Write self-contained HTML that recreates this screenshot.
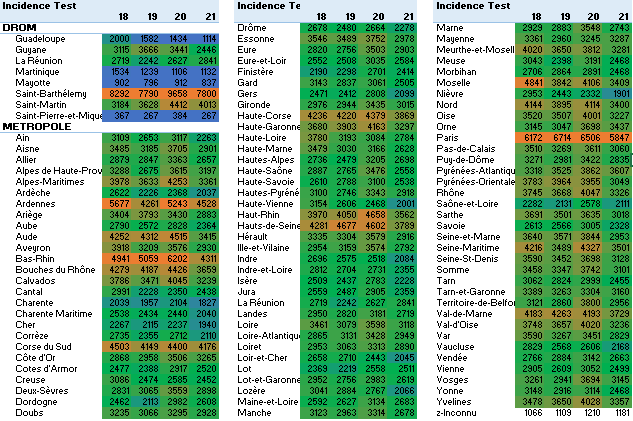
<!DOCTYPE html>
<html lang="fr"><head><meta charset="utf-8"><title>Incidence Test</title><style>
*{margin:0;padding:0;box-sizing:border-box}
html,body{width:633px;height:421px;overflow:hidden;background:#fff}
body{position:relative;font-family:"Liberation Sans",sans-serif;font-size:9px;line-height:11px}
div{position:absolute}
.hb{top:0;height:22px;background:#ddebf7}
.ln{height:1px;background:#9bc2e6;z-index:3}
.c{width:30px;height:12px;z-index:1}
.tx{height:11px;white-space:nowrap;overflow:hidden;color:transparent;z-index:2}
.b{font-weight:bold}
.r{text-align:right}
.sel{background:#217346;z-index:5}
.ov{position:absolute;left:0;top:0;z-index:4}
</style></head><body>
<div class="hb" style="left:0px;width:219px"></div>
<div class="tx b" style="left:3px;top:0px;width:99px">Incidence Test</div>
<div class="tx b r" style="left:102px;top:11px;width:27px">18</div>
<div class="tx b r" style="left:131px;top:11px;width:27px">19</div>
<div class="tx b r" style="left:160px;top:11px;width:27px">20</div>
<div class="tx b r" style="left:189px;top:11px;width:27px">21</div>
<div class="tx b" style="left:3px;top:22px;width:99px">DROM</div>
<div class="tx" style="left:16px;top:33px;width:86px">Guadeloupe</div>
<div class="c" style="left:102px;top:33px;background:#22918a"></div>
<div class="tx r" style="left:102px;top:33px;width:27px">2000</div>
<div class="c" style="left:131px;top:33px;background:#3e77ba"></div>
<div class="tx r" style="left:131px;top:33px;width:27px">1582</div>
<div class="c" style="left:160px;top:33px;background:#4472c4"></div>
<div class="tx r" style="left:160px;top:33px;width:27px">1434</div>
<div class="c" style="left:189px;top:33px;background:#4472c4"></div>
<div class="tx r" style="left:189px;top:33px;width:27px">1114</div>
<div class="tx" style="left:16px;top:44px;width:86px">Guyane</div>
<div class="c" style="left:102px;top:44px;background:#3aa348"></div>
<div class="tx r" style="left:102px;top:44px;width:27px">3115</div>
<div class="c" style="left:131px;top:44px;background:#6f9842"></div>
<div class="tx r" style="left:131px;top:44px;width:27px">3666</div>
<div class="c" style="left:160px;top:44px;background:#599d44"></div>
<div class="tx r" style="left:160px;top:44px;width:27px">3441</div>
<div class="c" style="left:189px;top:44px;background:#04ad56"></div>
<div class="tx r" style="left:189px;top:44px;width:27px">2446</div>
<div class="tx" style="left:16px;top:55px;width:86px">La Réunion</div>
<div class="c" style="left:102px;top:55px;background:#15ac4d"></div>
<div class="tx r" style="left:102px;top:55px;width:27px">2719</div>
<div class="c" style="left:131px;top:55px;background:#12a06e"></div>
<div class="tx r" style="left:131px;top:55px;width:27px">2242</div>
<div class="c" style="left:160px;top:55px;background:#0cad4e"></div>
<div class="tx r" style="left:160px;top:55px;width:27px">2627</div>
<div class="c" style="left:189px;top:55px;background:#20a94c"></div>
<div class="tx r" style="left:189px;top:55px;width:27px">2841</div>
<div class="tx" style="left:16px;top:66px;width:86px">Martinique</div>
<div class="c" style="left:102px;top:66px;background:#4274c0"></div>
<div class="tx r" style="left:102px;top:66px;width:27px">1534</div>
<div class="c" style="left:131px;top:66px;background:#4472c4"></div>
<div class="tx r" style="left:131px;top:66px;width:27px">1239</div>
<div class="c" style="left:160px;top:66px;background:#4472c4"></div>
<div class="tx r" style="left:160px;top:66px;width:27px">1106</div>
<div class="c" style="left:189px;top:66px;background:#4472c4"></div>
<div class="tx r" style="left:189px;top:66px;width:27px">1132</div>
<div class="tx" style="left:16px;top:77px;width:86px">Mayotte</div>
<div class="c" style="left:102px;top:77px;background:#4472c4"></div>
<div class="tx r" style="left:102px;top:77px;width:27px">902</div>
<div class="c" style="left:131px;top:77px;background:#4472c4"></div>
<div class="tx r" style="left:131px;top:77px;width:27px">796</div>
<div class="c" style="left:160px;top:77px;background:#4472c4"></div>
<div class="tx r" style="left:160px;top:77px;width:27px">912</div>
<div class="c" style="left:189px;top:77px;background:#4472c4"></div>
<div class="tx r" style="left:189px;top:77px;width:27px">837</div>
<div class="tx" style="left:16px;top:88px;width:86px">Saint-Barthélemy</div>
<div class="c" style="left:102px;top:88px;background:#ed7d31"></div>
<div class="tx r" style="left:102px;top:88px;width:27px">8292</div>
<div class="c" style="left:131px;top:88px;background:#ed7d31"></div>
<div class="tx r" style="left:131px;top:88px;width:27px">7790</div>
<div class="c" style="left:160px;top:88px;background:#ed7d31"></div>
<div class="tx r" style="left:160px;top:88px;width:27px">9658</div>
<div class="c" style="left:189px;top:88px;background:#ed7d31"></div>
<div class="tx r" style="left:189px;top:88px;width:27px">7800</div>
<div class="tx" style="left:16px;top:99px;width:86px">Saint-Martin</div>
<div class="c" style="left:102px;top:99px;background:#41a248"></div>
<div class="tx r" style="left:102px;top:99px;width:27px">3184</div>
<div class="c" style="left:131px;top:99px;background:#6b9942"></div>
<div class="tx r" style="left:131px;top:99px;width:27px">3628</div>
<div class="c" style="left:160px;top:99px;background:#b58938"></div>
<div class="tx r" style="left:160px;top:99px;width:27px">4412</div>
<div class="c" style="left:189px;top:99px;background:#8f913d"></div>
<div class="tx r" style="left:189px;top:99px;width:27px">4013</div>
<div class="tx" style="left:16px;top:110px;width:86px">Saint-Pierre-et-Miquelon</div>
<div class="c" style="left:102px;top:110px;background:#4472c4"></div>
<div class="tx r" style="left:102px;top:110px;width:27px">367</div>
<div class="c" style="left:131px;top:110px;background:#4472c4"></div>
<div class="tx r" style="left:131px;top:110px;width:27px">267</div>
<div class="c" style="left:160px;top:110px;background:#4472c4"></div>
<div class="tx r" style="left:160px;top:110px;width:27px">384</div>
<div class="c" style="left:189px;top:110px;background:#4472c4"></div>
<div class="tx r" style="left:189px;top:110px;width:27px">267</div>
<div class="tx b" style="left:3px;top:121px;width:99px">METROPOLE</div>
<div class="tx" style="left:16px;top:132px;width:86px">Ain</div>
<div class="c" style="left:102px;top:132px;background:#3aa448"></div>
<div class="tx r" style="left:102px;top:132px;width:27px">3109</div>
<div class="c" style="left:131px;top:132px;background:#0fad4e"></div>
<div class="tx r" style="left:131px;top:132px;width:27px">2653</div>
<div class="c" style="left:160px;top:132px;background:#3aa348"></div>
<div class="tx r" style="left:160px;top:132px;width:27px">3117</div>
<div class="c" style="left:189px;top:132px;background:#10a16b"></div>
<div class="tx r" style="left:189px;top:132px;width:27px">2263</div>
<div class="tx" style="left:16px;top:143px;width:86px">Aisne</div>
<div class="c" style="left:102px;top:143px;background:#5d9c44"></div>
<div class="tx r" style="left:102px;top:143px;width:27px">3485</div>
<div class="c" style="left:131px;top:143px;background:#41a248"></div>
<div class="tx r" style="left:131px;top:143px;width:27px">3185</div>
<div class="c" style="left:160px;top:143px;background:#729741"></div>
<div class="tx r" style="left:160px;top:143px;width:27px">3705</div>
<div class="c" style="left:189px;top:143px;background:#26a84b"></div>
<div class="tx r" style="left:189px;top:143px;width:27px">2901</div>
<div class="tx" style="left:16px;top:154px;width:86px">Allier</div>
<div class="c" style="left:102px;top:154px;background:#24a84b"></div>
<div class="tx r" style="left:102px;top:154px;width:27px">2879</div>
<div class="c" style="left:131px;top:154px;background:#21a94c"></div>
<div class="tx r" style="left:131px;top:154px;width:27px">2847</div>
<div class="c" style="left:160px;top:154px;background:#529e45"></div>
<div class="tx r" style="left:160px;top:154px;width:27px">3363</div>
<div class="c" style="left:189px;top:154px;background:#0fad4e"></div>
<div class="tx r" style="left:189px;top:154px;width:27px">2657</div>
<div class="tx" style="left:16px;top:165px;width:86px">Alpes de Haute-Provence</div>
<div class="c" style="left:102px;top:165px;background:#4ba046"></div>
<div class="tx r" style="left:102px;top:165px;width:27px">3288</div>
<div class="c" style="left:131px;top:165px;background:#11ac4e"></div>
<div class="tx r" style="left:131px;top:165px;width:27px">2675</div>
<div class="c" style="left:160px;top:165px;background:#6a9942"></div>
<div class="tx r" style="left:160px;top:165px;width:27px">3615</div>
<div class="c" style="left:189px;top:165px;background:#42a247"></div>
<div class="tx r" style="left:189px;top:165px;width:27px">3197</div>
<div class="tx" style="left:16px;top:176px;width:86px">Alpes-Maritimes</div>
<div class="c" style="left:102px;top:176px;background:#8c923e"></div>
<div class="tx r" style="left:102px;top:176px;width:27px">3978</div>
<div class="c" style="left:131px;top:176px;background:#6b9942"></div>
<div class="tx r" style="left:131px;top:176px;width:27px">3633</div>
<div class="c" style="left:160px;top:176px;background:#a68c3a"></div>
<div class="tx r" style="left:160px;top:176px;width:27px">4253</div>
<div class="c" style="left:189px;top:176px;background:#529e45"></div>
<div class="tx r" style="left:189px;top:176px;width:27px">3361</div>
<div class="tx" style="left:16px;top:187px;width:86px">Ardèche</div>
<div class="c" style="left:102px;top:187px;background:#0cae4e"></div>
<div class="tx r" style="left:102px;top:187px;width:27px">2622</div>
<div class="c" style="left:131px;top:187px;background:#139f70"></div>
<div class="tx r" style="left:131px;top:187px;width:27px">2226</div>
<div class="c" style="left:160px;top:187px;background:#09a85f"></div>
<div class="tx r" style="left:160px;top:187px;width:27px">2368</div>
<div class="c" style="left:189px;top:187px;background:#1f9386"></div>
<div class="tx r" style="left:189px;top:187px;width:27px">2037</div>
<div class="tx" style="left:16px;top:198px;width:86px">Ardennes</div>
<div class="c" style="left:102px;top:198px;background:#ed7d31"></div>
<div class="tx r" style="left:102px;top:198px;width:27px">5677</div>
<div class="c" style="left:131px;top:198px;background:#a78c3a"></div>
<div class="tx r" style="left:131px;top:198px;width:27px">4261</div>
<div class="c" style="left:160px;top:198px;background:#ed7d31"></div>
<div class="tx r" style="left:160px;top:198px;width:27px">5243</div>
<div class="c" style="left:189px;top:198px;background:#c08737"></div>
<div class="tx r" style="left:189px;top:198px;width:27px">4528</div>
<div class="tx" style="left:16px;top:209px;width:86px">Ariège</div>
<div class="c" style="left:102px;top:209px;background:#569e45"></div>
<div class="tx r" style="left:102px;top:209px;width:27px">3404</div>
<div class="c" style="left:131px;top:209px;background:#7b9640"></div>
<div class="tx r" style="left:131px;top:209px;width:27px">3793</div>
<div class="c" style="left:160px;top:209px;background:#589d44"></div>
<div class="tx r" style="left:160px;top:209px;width:27px">3430</div>
<div class="c" style="left:189px;top:209px;background:#24a84b"></div>
<div class="tx r" style="left:189px;top:209px;width:27px">2883</div>
<div class="tx" style="left:16px;top:220px;width:86px">Aube</div>
<div class="c" style="left:102px;top:220px;background:#1baa4c"></div>
<div class="tx r" style="left:102px;top:220px;width:27px">2790</div>
<div class="c" style="left:131px;top:220px;background:#07af4f"></div>
<div class="tx r" style="left:131px;top:220px;width:27px">2572</div>
<div class="c" style="left:160px;top:220px;background:#1fa94c"></div>
<div class="tx r" style="left:160px;top:220px;width:27px">2828</div>
<div class="c" style="left:189px;top:220px;background:#09a860"></div>
<div class="tx r" style="left:189px;top:220px;width:27px">2364</div>
<div class="tx" style="left:16px;top:231px;width:86px">Aude</div>
<div class="c" style="left:102px;top:231px;background:#a68c3a"></div>
<div class="tx r" style="left:102px;top:231px;width:27px">4252</div>
<div class="c" style="left:131px;top:231px;background:#ac8b3a"></div>
<div class="tx r" style="left:131px;top:231px;width:27px">4312</div>
<div class="c" style="left:160px;top:231px;background:#bf8737"></div>
<div class="tx r" style="left:160px;top:231px;width:27px">4515</div>
<div class="c" style="left:189px;top:231px;background:#579d45"></div>
<div class="tx r" style="left:189px;top:231px;width:27px">3415</div>
<div class="tx" style="left:16px;top:242px;width:86px">Aveyron</div>
<div class="c" style="left:102px;top:242px;background:#86933e"></div>
<div class="tx r" style="left:102px;top:242px;width:27px">3918</div>
<div class="c" style="left:131px;top:242px;background:#43a247"></div>
<div class="tx r" style="left:131px;top:242px;width:27px">3209</div>
<div class="c" style="left:160px;top:242px;background:#669a43"></div>
<div class="tx r" style="left:160px;top:242px;width:27px">3576</div>
<div class="c" style="left:189px;top:242px;background:#29a74b"></div>
<div class="tx r" style="left:189px;top:242px;width:27px">2930</div>
<div class="tx" style="left:16px;top:253px;width:86px">Bas-Rhin</div>
<div class="c" style="left:102px;top:253px;background:#e77e32"></div>
<div class="tx r" style="left:102px;top:253px;width:27px">4941</div>
<div class="c" style="left:131px;top:253px;background:#ed7d31"></div>
<div class="tx r" style="left:131px;top:253px;width:27px">5059</div>
<div class="c" style="left:160px;top:253px;background:#ed7d31"></div>
<div class="tx r" style="left:160px;top:253px;width:27px">6202</div>
<div class="c" style="left:189px;top:253px;background:#ac8b3a"></div>
<div class="tx r" style="left:189px;top:253px;width:27px">4311</div>
<div class="tx" style="left:16px;top:264px;width:86px">Bouches du Rhône</div>
<div class="c" style="left:102px;top:264px;background:#a98c3a"></div>
<div class="tx r" style="left:102px;top:264px;width:27px">4279</div>
<div class="c" style="left:131px;top:264px;background:#a08e3b"></div>
<div class="tx r" style="left:131px;top:264px;width:27px">4187</div>
<div class="c" style="left:160px;top:264px;background:#b78938"></div>
<div class="tx r" style="left:160px;top:264px;width:27px">4426</div>
<div class="c" style="left:189px;top:264px;background:#6e9842"></div>
<div class="tx r" style="left:189px;top:264px;width:27px">3659</div>
<div class="tx" style="left:16px;top:275px;width:86px">Calvados</div>
<div class="c" style="left:102px;top:275px;background:#7a9640"></div>
<div class="tx r" style="left:102px;top:275px;width:27px">3786</div>
<div class="c" style="left:131px;top:275px;background:#5c9c44"></div>
<div class="tx r" style="left:131px;top:275px;width:27px">3471</div>
<div class="c" style="left:160px;top:275px;background:#92903d"></div>
<div class="tx r" style="left:160px;top:275px;width:27px">4045</div>
<div class="c" style="left:189px;top:275px;background:#46a147"></div>
<div class="tx r" style="left:189px;top:275px;width:27px">3239</div>
<div class="tx" style="left:16px;top:286px;width:86px">Cantal</div>
<div class="c" style="left:102px;top:286px;background:#2fa64a"></div>
<div class="tx r" style="left:102px;top:286px;width:27px">2991</div>
<div class="c" style="left:131px;top:286px;background:#129f70"></div>
<div class="tx r" style="left:131px;top:286px;width:27px">2228</div>
<div class="c" style="left:160px;top:286px;background:#0aa761"></div>
<div class="tx r" style="left:160px;top:286px;width:27px">2350</div>
<div class="c" style="left:189px;top:286px;background:#04ac57"></div>
<div class="tx r" style="left:189px;top:286px;width:27px">2438</div>
<div class="tx" style="left:16px;top:297px;width:86px">Charente</div>
<div class="c" style="left:102px;top:297px;background:#1f9385"></div>
<div class="tx r" style="left:102px;top:297px;width:27px">2039</div>
<div class="c" style="left:131px;top:297px;background:#258e8f"></div>
<div class="tx r" style="left:131px;top:297px;width:27px">1957</div>
<div class="c" style="left:160px;top:297px;background:#1b977e"></div>
<div class="tx r" style="left:160px;top:297px;width:27px">2104</div>
<div class="c" style="left:189px;top:297px;background:#2e869e"></div>
<div class="tx r" style="left:189px;top:297px;width:27px">1827</div>
<div class="tx" style="left:16px;top:308px;width:86px">Charente Maritime</div>
<div class="c" style="left:102px;top:308px;background:#04af50"></div>
<div class="tx r" style="left:102px;top:308px;width:27px">2538</div>
<div class="c" style="left:131px;top:308px;background:#04ac58"></div>
<div class="tx r" style="left:131px;top:308px;width:27px">2434</div>
<div class="c" style="left:160px;top:308px;background:#04ac57"></div>
<div class="tx r" style="left:160px;top:308px;width:27px">2440</div>
<div class="c" style="left:189px;top:308px;background:#1f9385"></div>
<div class="tx r" style="left:189px;top:308px;width:27px">2040</div>
<div class="tx" style="left:16px;top:319px;width:86px">Cher</div>
<div class="c" style="left:102px;top:319px;background:#10a26b"></div>
<div class="tx r" style="left:102px;top:319px;width:27px">2267</div>
<div class="c" style="left:131px;top:319px;background:#1a987d"></div>
<div class="tx r" style="left:131px;top:319px;width:27px">2115</div>
<div class="c" style="left:160px;top:319px;background:#12a06f"></div>
<div class="tx r" style="left:160px;top:319px;width:27px">2237</div>
<div class="c" style="left:189px;top:319px;background:#268d91"></div>
<div class="tx r" style="left:189px;top:319px;width:27px">1940</div>
<div class="tx" style="left:16px;top:330px;width:86px">Corrèze</div>
<div class="c" style="left:102px;top:330px;background:#16ab4d"></div>
<div class="tx r" style="left:102px;top:330px;width:27px">2735</div>
<div class="c" style="left:131px;top:330px;background:#0aa761"></div>
<div class="tx r" style="left:131px;top:330px;width:27px">2355</div>
<div class="c" style="left:160px;top:330px;background:#14ac4d"></div>
<div class="tx r" style="left:160px;top:330px;width:27px">2712</div>
<div class="c" style="left:189px;top:330px;background:#1b987d"></div>
<div class="tx r" style="left:189px;top:330px;width:27px">2110</div>
<div class="tx" style="left:16px;top:341px;width:86px">Corse du Sud</div>
<div class="c" style="left:102px;top:341px;background:#be8737"></div>
<div class="tx r" style="left:102px;top:341px;width:27px">4503</div>
<div class="c" style="left:131px;top:341px;background:#9c8e3c"></div>
<div class="tx r" style="left:131px;top:341px;width:27px">4149</div>
<div class="c" style="left:160px;top:341px;background:#b48938"></div>
<div class="tx r" style="left:160px;top:341px;width:27px">4400</div>
<div class="c" style="left:189px;top:341px;background:#9f8e3b"></div>
<div class="tx r" style="left:189px;top:341px;width:27px">4176</div>
<div class="tx" style="left:16px;top:352px;width:86px">Côte d&#x27;Or</div>
<div class="c" style="left:102px;top:352px;background:#23a84b"></div>
<div class="tx r" style="left:102px;top:352px;width:27px">2868</div>
<div class="c" style="left:131px;top:352px;background:#2ba74a"></div>
<div class="tx r" style="left:131px;top:352px;width:27px">2958</div>
<div class="c" style="left:160px;top:352px;background:#5f9b44"></div>
<div class="tx r" style="left:160px;top:352px;width:27px">3506</div>
<div class="c" style="left:189px;top:352px;background:#49a047"></div>
<div class="tx r" style="left:189px;top:352px;width:27px">3265</div>
<div class="tx" style="left:16px;top:363px;width:86px">Cotes d&#x27;Armor</div>
<div class="c" style="left:102px;top:363px;background:#02af53"></div>
<div class="tx r" style="left:102px;top:363px;width:27px">2477</div>
<div class="c" style="left:131px;top:363px;background:#08a95d"></div>
<div class="tx r" style="left:131px;top:363px;width:27px">2388</div>
<div class="c" style="left:160px;top:363px;background:#28a74b"></div>
<div class="tx r" style="left:160px;top:363px;width:27px">2917</div>
<div class="c" style="left:189px;top:363px;background:#02b050"></div>
<div class="tx r" style="left:189px;top:363px;width:27px">2520</div>
<div class="tx" style="left:16px;top:374px;width:86px">Creuse</div>
<div class="c" style="left:102px;top:374px;background:#38a449"></div>
<div class="tx r" style="left:102px;top:374px;width:27px">3086</div>
<div class="c" style="left:131px;top:374px;background:#02ae53"></div>
<div class="tx r" style="left:131px;top:374px;width:27px">2474</div>
<div class="c" style="left:160px;top:374px;background:#08ae4f"></div>
<div class="tx r" style="left:160px;top:374px;width:27px">2585</div>
<div class="c" style="left:189px;top:374px;background:#03ad56"></div>
<div class="tx r" style="left:189px;top:374px;width:27px">2452</div>
<div class="tx" style="left:16px;top:385px;width:86px">Deux-Sèvres</div>
<div class="c" style="left:102px;top:385px;background:#1fa94c"></div>
<div class="tx r" style="left:102px;top:385px;width:27px">2831</div>
<div class="c" style="left:131px;top:385px;background:#36a449"></div>
<div class="tx r" style="left:131px;top:385px;width:27px">3065</div>
<div class="c" style="left:160px;top:385px;background:#649a43"></div>
<div class="tx r" style="left:160px;top:385px;width:27px">3559</div>
<div class="c" style="left:189px;top:385px;background:#26a84b"></div>
<div class="tx r" style="left:189px;top:385px;width:27px">2898</div>
<div class="tx" style="left:16px;top:396px;width:86px">Dordogne</div>
<div class="c" style="left:102px;top:396px;background:#03ae54"></div>
<div class="tx r" style="left:102px;top:396px;width:27px">2462</div>
<div class="c" style="left:131px;top:396px;background:#1a987d"></div>
<div class="tx r" style="left:131px;top:396px;width:27px">2113</div>
<div class="c" style="left:160px;top:396px;background:#2ea64a"></div>
<div class="tx r" style="left:160px;top:396px;width:27px">2982</div>
<div class="c" style="left:189px;top:396px;background:#0aae4f"></div>
<div class="tx r" style="left:189px;top:396px;width:27px">2608</div>
<div class="tx" style="left:16px;top:407px;width:86px">Doubs</div>
<div class="c" style="left:102px;top:407px;background:#46a147"></div>
<div class="tx r" style="left:102px;top:407px;width:27px">3235</div>
<div class="c" style="left:131px;top:407px;background:#36a449"></div>
<div class="tx r" style="left:131px;top:407px;width:27px">3066</div>
<div class="c" style="left:160px;top:407px;background:#4ba046"></div>
<div class="tx r" style="left:160px;top:407px;width:27px">3295</div>
<div class="c" style="left:189px;top:407px;background:#29a74b"></div>
<div class="tx r" style="left:189px;top:407px;width:27px">2928</div>
<div class="ln" style="left:0px;top:22px;width:219px"></div>
<div class="ln" style="left:0px;top:33px;width:219px"></div>
<div class="ln" style="left:0px;top:132px;width:219px"></div>
<div class="hb" style="left:234px;width:183px"></div>
<div class="tx b" style="left:238px;top:0px;width:62px">Incidence Test</div>
<div class="tx b r" style="left:300px;top:11px;width:27px">18</div>
<div class="tx b r" style="left:329px;top:11px;width:27px">19</div>
<div class="tx b r" style="left:358px;top:11px;width:27px">20</div>
<div class="tx b r" style="left:387px;top:11px;width:27px">21</div>
<div class="tx" style="left:238px;top:22px;width:62px">Drôme</div>
<div class="c" style="left:300px;top:22px;background:#11ac4e"></div>
<div class="tx r" style="left:300px;top:22px;width:27px">2678</div>
<div class="c" style="left:329px;top:22px;background:#01af52"></div>
<div class="tx r" style="left:329px;top:22px;width:27px">2480</div>
<div class="c" style="left:358px;top:22px;background:#10ad4e"></div>
<div class="tx r" style="left:358px;top:22px;width:27px">2664</div>
<div class="c" style="left:387px;top:22px;background:#0fa26a"></div>
<div class="tx r" style="left:387px;top:22px;width:27px">2278</div>
<div class="tx" style="left:238px;top:33px;width:62px">Essonne</div>
<div class="c" style="left:300px;top:33px;background:#639b43"></div>
<div class="tx r" style="left:300px;top:33px;width:27px">3546</div>
<div class="c" style="left:329px;top:33px;background:#5e9c44"></div>
<div class="tx r" style="left:329px;top:33px;width:27px">3489</div>
<div class="c" style="left:358px;top:33px;background:#779640"></div>
<div class="tx r" style="left:358px;top:33px;width:27px">3752</div>
<div class="c" style="left:387px;top:33px;background:#2da64a"></div>
<div class="tx r" style="left:387px;top:33px;width:27px">2978</div>
<div class="tx" style="left:238px;top:44px;width:62px">Eure</div>
<div class="c" style="left:300px;top:44px;background:#1ea94c"></div>
<div class="tx r" style="left:300px;top:44px;width:27px">2820</div>
<div class="c" style="left:329px;top:44px;background:#18ab4d"></div>
<div class="tx r" style="left:329px;top:44px;width:27px">2756</div>
<div class="c" style="left:358px;top:44px;background:#5f9c44"></div>
<div class="tx r" style="left:358px;top:44px;width:27px">3503</div>
<div class="c" style="left:387px;top:44px;background:#26a84b"></div>
<div class="tx r" style="left:387px;top:44px;width:27px">2903</div>
<div class="tx" style="left:238px;top:55px;width:62px">Eure-et-Loir</div>
<div class="c" style="left:300px;top:55px;background:#05af4f"></div>
<div class="tx r" style="left:300px;top:55px;width:27px">2552</div>
<div class="c" style="left:329px;top:55px;background:#01b050"></div>
<div class="tx r" style="left:329px;top:55px;width:27px">2508</div>
<div class="c" style="left:358px;top:55px;background:#33a549"></div>
<div class="tx r" style="left:358px;top:55px;width:27px">3035</div>
<div class="c" style="left:387px;top:55px;background:#08ae4f"></div>
<div class="tx r" style="left:387px;top:55px;width:27px">2584</div>
<div class="tx" style="left:238px;top:66px;width:62px">Finistère</div>
<div class="c" style="left:300px;top:66px;background:#159d74"></div>
<div class="tx r" style="left:300px;top:66px;width:27px">2190</div>
<div class="c" style="left:329px;top:66px;background:#0ea367"></div>
<div class="tx r" style="left:329px;top:66px;width:27px">2298</div>
<div class="c" style="left:358px;top:66px;background:#13ac4e"></div>
<div class="tx r" style="left:358px;top:66px;width:27px">2701</div>
<div class="c" style="left:387px;top:66px;background:#06ab5a"></div>
<div class="tx r" style="left:387px;top:66px;width:27px">2414</div>
<div class="tx" style="left:238px;top:77px;width:62px">Gard</div>
<div class="c" style="left:300px;top:77px;background:#3da348"></div>
<div class="tx r" style="left:300px;top:77px;width:27px">3143</div>
<div class="c" style="left:329px;top:77px;background:#20a94c"></div>
<div class="tx r" style="left:329px;top:77px;width:27px">2837</div>
<div class="c" style="left:358px;top:77px;background:#35a549"></div>
<div class="tx r" style="left:358px;top:77px;width:27px">3061</div>
<div class="c" style="left:387px;top:77px;background:#00b050"></div>
<div class="tx r" style="left:387px;top:77px;width:27px">2505</div>
<div class="tx" style="left:238px;top:88px;width:62px">Gers</div>
<div class="c" style="left:300px;top:88px;background:#02ae53"></div>
<div class="tx r" style="left:300px;top:88px;width:27px">2471</div>
<div class="c" style="left:329px;top:88px;background:#06ab5a"></div>
<div class="tx r" style="left:329px;top:88px;width:27px">2412</div>
<div class="c" style="left:358px;top:88px;background:#1daa4c"></div>
<div class="tx r" style="left:358px;top:88px;width:27px">2808</div>
<div class="c" style="left:387px;top:88px;background:#1b977f"></div>
<div class="tx r" style="left:387px;top:88px;width:27px">2099</div>
<div class="tx" style="left:238px;top:99px;width:62px">Gironde</div>
<div class="c" style="left:300px;top:99px;background:#2da64a"></div>
<div class="tx r" style="left:300px;top:99px;width:27px">2976</div>
<div class="c" style="left:329px;top:99px;background:#2aa74a"></div>
<div class="tx r" style="left:329px;top:99px;width:27px">2944</div>
<div class="c" style="left:358px;top:99px;background:#599d44"></div>
<div class="tx r" style="left:358px;top:99px;width:27px">3435</div>
<div class="c" style="left:387px;top:99px;background:#31a54a"></div>
<div class="tx r" style="left:387px;top:99px;width:27px">3015</div>
<div class="tx" style="left:238px;top:110px;width:62px">Haute-Corse</div>
<div class="c" style="left:300px;top:110px;background:#a58d3a"></div>
<div class="tx r" style="left:300px;top:110px;width:27px">4236</div>
<div class="c" style="left:329px;top:110px;background:#a38d3b"></div>
<div class="tx r" style="left:329px;top:110px;width:27px">4220</div>
<div class="c" style="left:358px;top:110px;background:#b28a39"></div>
<div class="tx r" style="left:358px;top:110px;width:27px">4379</div>
<div class="c" style="left:387px;top:110px;background:#82943f"></div>
<div class="tx r" style="left:387px;top:110px;width:27px">3869</div>
<div class="tx" style="left:238px;top:121px;width:62px">Haute-Garonne</div>
<div class="c" style="left:300px;top:121px;background:#709841"></div>
<div class="tx r" style="left:300px;top:121px;width:27px">3680</div>
<div class="c" style="left:329px;top:121px;background:#85933f"></div>
<div class="tx r" style="left:329px;top:121px;width:27px">3903</div>
<div class="c" style="left:358px;top:121px;background:#9e8e3b"></div>
<div class="tx r" style="left:358px;top:121px;width:27px">4163</div>
<div class="c" style="left:387px;top:121px;background:#4ca046"></div>
<div class="tx r" style="left:387px;top:121px;width:27px">3297</div>
<div class="tx" style="left:238px;top:132px;width:62px">Haute-Loire</div>
<div class="c" style="left:300px;top:132px;background:#799640"></div>
<div class="tx r" style="left:300px;top:132px;width:27px">3780</div>
<div class="c" style="left:329px;top:132px;background:#42a247"></div>
<div class="tx r" style="left:329px;top:132px;width:27px">3193</div>
<div class="c" style="left:358px;top:132px;background:#37a449"></div>
<div class="tx r" style="left:358px;top:132px;width:27px">3084</div>
<div class="c" style="left:387px;top:132px;background:#1baa4c"></div>
<div class="tx r" style="left:387px;top:132px;width:27px">2784</div>
<div class="tx" style="left:238px;top:143px;width:62px">Haute-Marne</div>
<div class="c" style="left:300px;top:143px;background:#5d9c44"></div>
<div class="tx r" style="left:300px;top:143px;width:27px">3479</div>
<div class="c" style="left:329px;top:143px;background:#32a549"></div>
<div class="tx r" style="left:329px;top:143px;width:27px">3030</div>
<div class="c" style="left:358px;top:143px;background:#3fa248"></div>
<div class="tx r" style="left:358px;top:143px;width:27px">3166</div>
<div class="c" style="left:387px;top:143px;background:#0cad4e"></div>
<div class="tx r" style="left:387px;top:143px;width:27px">2628</div>
<div class="tx" style="left:238px;top:154px;width:62px">Hautes-Alpes</div>
<div class="c" style="left:300px;top:154px;background:#16ab4d"></div>
<div class="tx r" style="left:300px;top:154px;width:27px">2736</div>
<div class="c" style="left:329px;top:154px;background:#01af52"></div>
<div class="tx r" style="left:329px;top:154px;width:27px">2479</div>
<div class="c" style="left:358px;top:154px;background:#43a247"></div>
<div class="tx r" style="left:358px;top:154px;width:27px">3205</div>
<div class="c" style="left:387px;top:154px;background:#13ac4e"></div>
<div class="tx r" style="left:387px;top:154px;width:27px">2698</div>
<div class="tx" style="left:238px;top:165px;width:62px">Haute-Saône</div>
<div class="c" style="left:300px;top:165px;background:#25a84b"></div>
<div class="tx r" style="left:300px;top:165px;width:27px">2887</div>
<div class="c" style="left:329px;top:165px;background:#19ab4d"></div>
<div class="tx r" style="left:329px;top:165px;width:27px">2765</div>
<div class="c" style="left:358px;top:165px;background:#5d9c44"></div>
<div class="tx r" style="left:358px;top:165px;width:27px">3476</div>
<div class="c" style="left:387px;top:165px;background:#05af4f"></div>
<div class="tx r" style="left:387px;top:165px;width:27px">2558</div>
<div class="tx" style="left:238px;top:176px;width:62px">Haute-Savoie</div>
<div class="c" style="left:300px;top:176px;background:#0aae4f"></div>
<div class="tx r" style="left:300px;top:176px;width:27px">2610</div>
<div class="c" style="left:329px;top:176px;background:#1baa4c"></div>
<div class="tx r" style="left:329px;top:176px;width:27px">2788</div>
<div class="c" style="left:358px;top:176px;background:#39a449"></div>
<div class="tx r" style="left:358px;top:176px;width:27px">3100</div>
<div class="c" style="left:387px;top:176px;background:#04af50"></div>
<div class="tx r" style="left:387px;top:176px;width:27px">2538</div>
<div class="tx" style="left:238px;top:187px;width:62px">Hautes-Pyrénées</div>
<div class="c" style="left:300px;top:187px;background:#39a449"></div>
<div class="tx r" style="left:300px;top:187px;width:27px">3100</div>
<div class="c" style="left:329px;top:187px;background:#17ab4d"></div>
<div class="tx r" style="left:329px;top:187px;width:27px">2746</div>
<div class="c" style="left:358px;top:187px;background:#509f46"></div>
<div class="tx r" style="left:358px;top:187px;width:27px">3343</div>
<div class="c" style="left:387px;top:187px;background:#28a74b"></div>
<div class="tx r" style="left:387px;top:187px;width:27px">2918</div>
<div class="tx" style="left:238px;top:198px;width:62px">Haute-Vienne</div>
<div class="c" style="left:300px;top:198px;background:#3ea348"></div>
<div class="tx r" style="left:300px;top:198px;width:27px">3154</div>
<div class="c" style="left:329px;top:198px;background:#0aae4f"></div>
<div class="tx r" style="left:329px;top:198px;width:27px">2606</div>
<div class="c" style="left:358px;top:198px;background:#02ae54"></div>
<div class="tx r" style="left:358px;top:198px;width:27px">2468</div>
<div class="c" style="left:387px;top:198px;background:#22918a"></div>
<div class="tx r" style="left:387px;top:198px;width:27px">2001</div>
<div class="tx" style="left:238px;top:209px;width:62px">Haut-Rhin</div>
<div class="c" style="left:300px;top:209px;background:#8b923e"></div>
<div class="tx r" style="left:300px;top:209px;width:27px">3970</div>
<div class="c" style="left:329px;top:209px;background:#93903d"></div>
<div class="tx r" style="left:329px;top:209px;width:27px">4050</div>
<div class="c" style="left:358px;top:209px;background:#cd8435"></div>
<div class="tx r" style="left:358px;top:209px;width:27px">4658</div>
<div class="c" style="left:387px;top:209px;background:#659a43"></div>
<div class="tx r" style="left:387px;top:209px;width:27px">3562</div>
<div class="tx" style="left:238px;top:220px;width:62px">Hauts-de-Seine</div>
<div class="c" style="left:300px;top:220px;background:#a98c3a"></div>
<div class="tx r" style="left:300px;top:220px;width:27px">4281</div>
<div class="c" style="left:329px;top:220px;background:#ce8435"></div>
<div class="tx r" style="left:329px;top:220px;width:27px">4677</div>
<div class="c" style="left:358px;top:220px;background:#c78536"></div>
<div class="tx r" style="left:358px;top:220px;width:27px">4602</div>
<div class="c" style="left:387px;top:220px;background:#7a9640"></div>
<div class="tx r" style="left:387px;top:220px;width:27px">3789</div>
<div class="tx" style="left:238px;top:231px;width:62px">Hérault</div>
<div class="c" style="left:300px;top:231px;background:#4f9f46"></div>
<div class="tx r" style="left:300px;top:231px;width:27px">3335</div>
<div class="c" style="left:329px;top:231px;background:#4ca046"></div>
<div class="tx r" style="left:329px;top:231px;width:27px">3304</div>
<div class="c" style="left:358px;top:231px;background:#669a43"></div>
<div class="tx r" style="left:358px;top:231px;width:27px">3579</div>
<div class="c" style="left:387px;top:231px;background:#27a84b"></div>
<div class="tx r" style="left:387px;top:231px;width:27px">2916</div>
<div class="tx" style="left:238px;top:242px;width:62px">Ille-et-Vilaine</div>
<div class="c" style="left:300px;top:242px;background:#2ba74a"></div>
<div class="tx r" style="left:300px;top:242px;width:27px">2954</div>
<div class="c" style="left:329px;top:242px;background:#3ea348"></div>
<div class="tx r" style="left:329px;top:242px;width:27px">3159</div>
<div class="c" style="left:358px;top:242px;background:#669a43"></div>
<div class="tx r" style="left:358px;top:242px;width:27px">3574</div>
<div class="c" style="left:387px;top:242px;background:#1caa4c"></div>
<div class="tx r" style="left:387px;top:242px;width:27px">2792</div>
<div class="tx" style="left:238px;top:253px;width:62px">Indre</div>
<div class="c" style="left:300px;top:253px;background:#13ac4e"></div>
<div class="tx r" style="left:300px;top:253px;width:27px">2696</div>
<div class="c" style="left:329px;top:253px;background:#07ae4f"></div>
<div class="tx r" style="left:329px;top:253px;width:27px">2575</div>
<div class="c" style="left:358px;top:253px;background:#02b050"></div>
<div class="tx r" style="left:358px;top:253px;width:27px">2518</div>
<div class="c" style="left:387px;top:253px;background:#1c9680"></div>
<div class="tx r" style="left:387px;top:253px;width:27px">2084</div>
<div class="tx" style="left:238px;top:264px;width:62px">Indre-et-Loire</div>
<div class="c" style="left:300px;top:264px;background:#1eaa4c"></div>
<div class="tx r" style="left:300px;top:264px;width:27px">2812</div>
<div class="c" style="left:329px;top:264px;background:#13ac4d"></div>
<div class="tx r" style="left:329px;top:264px;width:27px">2704</div>
<div class="c" style="left:358px;top:264px;background:#16ab4d"></div>
<div class="tx r" style="left:358px;top:264px;width:27px">2731</div>
<div class="c" style="left:387px;top:264px;background:#0aa761"></div>
<div class="tx r" style="left:387px;top:264px;width:27px">2355</div>
<div class="tx" style="left:238px;top:275px;width:62px">Isère</div>
<div class="c" style="left:300px;top:275px;background:#01b050"></div>
<div class="tx r" style="left:300px;top:275px;width:27px">2509</div>
<div class="c" style="left:329px;top:275px;background:#04ac57"></div>
<div class="tx r" style="left:329px;top:275px;width:27px">2437</div>
<div class="c" style="left:358px;top:275px;background:#1baa4c"></div>
<div class="tx r" style="left:358px;top:275px;width:27px">2783</div>
<div class="c" style="left:387px;top:275px;background:#129f70"></div>
<div class="tx r" style="left:387px;top:275px;width:27px">2228</div>
<div class="tx" style="left:238px;top:286px;width:62px">Jura</div>
<div class="c" style="left:300px;top:286px;background:#06af4f"></div>
<div class="tx r" style="left:300px;top:286px;width:27px">2559</div>
<div class="c" style="left:329px;top:286px;background:#01af52"></div>
<div class="tx r" style="left:329px;top:286px;width:27px">2487</div>
<div class="c" style="left:358px;top:286px;background:#26a84b"></div>
<div class="tx r" style="left:358px;top:286px;width:27px">2905</div>
<div class="c" style="left:387px;top:286px;background:#0aa760"></div>
<div class="tx r" style="left:387px;top:286px;width:27px">2359</div>
<div class="tx" style="left:238px;top:297px;width:62px">La Réunion</div>
<div class="c" style="left:300px;top:297px;background:#15ac4d"></div>
<div class="tx r" style="left:300px;top:297px;width:27px">2719</div>
<div class="c" style="left:329px;top:297px;background:#12a06e"></div>
<div class="tx r" style="left:329px;top:297px;width:27px">2242</div>
<div class="c" style="left:358px;top:297px;background:#0cad4e"></div>
<div class="tx r" style="left:358px;top:297px;width:27px">2627</div>
<div class="c" style="left:387px;top:297px;background:#20a94c"></div>
<div class="tx r" style="left:387px;top:297px;width:27px">2841</div>
<div class="tx" style="left:238px;top:308px;width:62px">Landes</div>
<div class="c" style="left:300px;top:308px;background:#2ba74a"></div>
<div class="tx r" style="left:300px;top:308px;width:27px">2950</div>
<div class="c" style="left:329px;top:308px;background:#1ea94c"></div>
<div class="tx r" style="left:329px;top:308px;width:27px">2820</div>
<div class="c" style="left:358px;top:308px;background:#41a248"></div>
<div class="tx r" style="left:358px;top:308px;width:27px">3181</div>
<div class="c" style="left:387px;top:308px;background:#15ac4d"></div>
<div class="tx r" style="left:387px;top:308px;width:27px">2719</div>
<div class="tx" style="left:238px;top:319px;width:62px">Loire</div>
<div class="c" style="left:300px;top:319px;background:#5b9c44"></div>
<div class="tx r" style="left:300px;top:319px;width:27px">3461</div>
<div class="c" style="left:329px;top:319px;background:#37a449"></div>
<div class="tx r" style="left:329px;top:319px;width:27px">3079</div>
<div class="c" style="left:358px;top:319px;background:#689a42"></div>
<div class="tx r" style="left:358px;top:319px;width:27px">3598</div>
<div class="c" style="left:387px;top:319px;background:#3ba348"></div>
<div class="tx r" style="left:387px;top:319px;width:27px">3118</div>
<div class="tx" style="left:238px;top:330px;width:62px">Loire-Atlantique</div>
<div class="c" style="left:300px;top:330px;background:#23a94b"></div>
<div class="tx r" style="left:300px;top:330px;width:27px">2865</div>
<div class="c" style="left:329px;top:330px;background:#3ca348"></div>
<div class="tx r" style="left:329px;top:330px;width:27px">3131</div>
<div class="c" style="left:358px;top:330px;background:#589d44"></div>
<div class="tx r" style="left:358px;top:330px;width:27px">3428</div>
<div class="c" style="left:387px;top:330px;background:#2ba74a"></div>
<div class="tx r" style="left:387px;top:330px;width:27px">2949</div>
<div class="tx" style="left:238px;top:341px;width:62px">Loiret</div>
<div class="c" style="left:300px;top:341px;background:#2ba74a"></div>
<div class="tx r" style="left:300px;top:341px;width:27px">2953</div>
<div class="c" style="left:329px;top:341px;background:#35a549"></div>
<div class="tx r" style="left:329px;top:341px;width:27px">3063</div>
<div class="c" style="left:358px;top:341px;background:#4d9f46"></div>
<div class="tx r" style="left:358px;top:341px;width:27px">3313</div>
<div class="c" style="left:387px;top:341px;background:#25a84b"></div>
<div class="tx r" style="left:387px;top:341px;width:27px">2890</div>
<div class="tx" style="left:238px;top:352px;width:62px">Loir-et-Cher</div>
<div class="c" style="left:300px;top:352px;background:#0fad4e"></div>
<div class="tx r" style="left:300px;top:352px;width:27px">2658</div>
<div class="c" style="left:329px;top:352px;background:#14ac4d"></div>
<div class="tx r" style="left:329px;top:352px;width:27px">2710</div>
<div class="c" style="left:358px;top:352px;background:#04ac57"></div>
<div class="tx r" style="left:358px;top:352px;width:27px">2443</div>
<div class="c" style="left:387px;top:352px;background:#1f9485"></div>
<div class="tx r" style="left:387px;top:352px;width:27px">2045</div>
<div class="tx" style="left:238px;top:363px;width:62px">Lot</div>
<div class="c" style="left:300px;top:363px;background:#09a85f"></div>
<div class="tx r" style="left:300px;top:363px;width:27px">2369</div>
<div class="c" style="left:329px;top:363px;background:#139f71"></div>
<div class="tx r" style="left:329px;top:363px;width:27px">2219</div>
<div class="c" style="left:358px;top:363px;background:#05af4f"></div>
<div class="tx r" style="left:358px;top:363px;width:27px">2558</div>
<div class="c" style="left:387px;top:363px;background:#01b050"></div>
<div class="tx r" style="left:387px;top:363px;width:27px">2511</div>
<div class="tx" style="left:238px;top:374px;width:62px">Lot-et-Garonne</div>
<div class="c" style="left:300px;top:374px;background:#2ba74a"></div>
<div class="tx r" style="left:300px;top:374px;width:27px">2952</div>
<div class="c" style="left:329px;top:374px;background:#18ab4d"></div>
<div class="tx r" style="left:329px;top:374px;width:27px">2756</div>
<div class="c" style="left:358px;top:374px;background:#2ea64a"></div>
<div class="tx r" style="left:358px;top:374px;width:27px">2983</div>
<div class="c" style="left:387px;top:374px;background:#0bae4f"></div>
<div class="tx r" style="left:387px;top:374px;width:27px">2619</div>
<div class="tx" style="left:238px;top:385px;width:62px">Lozère</div>
<div class="c" style="left:300px;top:385px;background:#33a549"></div>
<div class="tx r" style="left:300px;top:385px;width:27px">3041</div>
<div class="c" style="left:329px;top:385px;background:#24a84b"></div>
<div class="tx r" style="left:329px;top:385px;width:27px">2884</div>
<div class="c" style="left:358px;top:385px;background:#19ab4d"></div>
<div class="tx r" style="left:358px;top:385px;width:27px">2767</div>
<div class="c" style="left:387px;top:385px;background:#1e9582"></div>
<div class="tx r" style="left:387px;top:385px;width:27px">2066</div>
<div class="tx" style="left:238px;top:396px;width:62px">Maine-et-Loire</div>
<div class="c" style="left:300px;top:396px;background:#09ae4f"></div>
<div class="tx r" style="left:300px;top:396px;width:27px">2592</div>
<div class="c" style="left:329px;top:396px;background:#0cad4e"></div>
<div class="tx r" style="left:329px;top:396px;width:27px">2627</div>
<div class="c" style="left:358px;top:396px;background:#3ca348"></div>
<div class="tx r" style="left:358px;top:396px;width:27px">3134</div>
<div class="c" style="left:387px;top:396px;background:#11ac4e"></div>
<div class="tx r" style="left:387px;top:396px;width:27px">2683</div>
<div class="tx" style="left:238px;top:407px;width:62px">Manche</div>
<div class="c" style="left:300px;top:407px;background:#3ba348"></div>
<div class="tx r" style="left:300px;top:407px;width:27px">3123</div>
<div class="c" style="left:329px;top:407px;background:#2ca74a"></div>
<div class="tx r" style="left:329px;top:407px;width:27px">2963</div>
<div class="c" style="left:358px;top:407px;background:#4d9f46"></div>
<div class="tx r" style="left:358px;top:407px;width:27px">3314</div>
<div class="c" style="left:387px;top:407px;background:#11ac4e"></div>
<div class="tx r" style="left:387px;top:407px;width:27px">2678</div>
<div class="ln" style="left:234px;top:22px;width:183px"></div>
<div class="hb" style="left:433px;width:199px"></div>
<div class="tx b" style="left:437px;top:0px;width:78px">Incidence Test</div>
<div class="tx b r" style="left:515px;top:11px;width:27px">18</div>
<div class="tx b r" style="left:544px;top:11px;width:27px">19</div>
<div class="tx b r" style="left:573px;top:11px;width:27px">20</div>
<div class="tx b r" style="left:602px;top:11px;width:27px">21</div>
<div class="tx" style="left:437px;top:22px;width:78px">Marne</div>
<div class="c" style="left:515px;top:22px;background:#29a74b"></div>
<div class="tx r" style="left:515px;top:22px;width:27px">2929</div>
<div class="c" style="left:544px;top:22px;background:#24a84b"></div>
<div class="tx r" style="left:544px;top:22px;width:27px">2883</div>
<div class="c" style="left:573px;top:22px;background:#639b43"></div>
<div class="tx r" style="left:573px;top:22px;width:27px">3548</div>
<div class="c" style="left:602px;top:22px;background:#17ab4d"></div>
<div class="tx r" style="left:602px;top:22px;width:27px">2743</div>
<div class="tx" style="left:437px;top:33px;width:78px">Mayenne</div>
<div class="c" style="left:515px;top:33px;background:#529e45"></div>
<div class="tx r" style="left:515px;top:33px;width:27px">3361</div>
<div class="c" style="left:544px;top:33px;background:#2ca74a"></div>
<div class="tx r" style="left:544px;top:33px;width:27px">2960</div>
<div class="c" style="left:573px;top:33px;background:#47a147"></div>
<div class="tx r" style="left:573px;top:33px;width:27px">3245</div>
<div class="c" style="left:602px;top:33px;background:#4ba046"></div>
<div class="tx r" style="left:602px;top:33px;width:27px">3287</div>
<div class="tx" style="left:437px;top:44px;width:78px">Meurthe-et-Moselle</div>
<div class="c" style="left:515px;top:44px;background:#90913d"></div>
<div class="tx r" style="left:515px;top:44px;width:27px">4020</div>
<div class="c" style="left:544px;top:44px;background:#6d9942"></div>
<div class="tx r" style="left:544px;top:44px;width:27px">3650</div>
<div class="c" style="left:573px;top:44px;background:#7c9540"></div>
<div class="tx r" style="left:573px;top:44px;width:27px">3812</div>
<div class="c" style="left:602px;top:44px;background:#4aa046"></div>
<div class="tx r" style="left:602px;top:44px;width:27px">3281</div>
<div class="tx" style="left:437px;top:55px;width:78px">Meuse</div>
<div class="c" style="left:515px;top:55px;background:#33a549"></div>
<div class="tx r" style="left:515px;top:55px;width:27px">3043</div>
<div class="c" style="left:544px;top:55px;background:#07aa5c"></div>
<div class="tx r" style="left:544px;top:55px;width:27px">2398</div>
<div class="c" style="left:573px;top:55px;background:#42a247"></div>
<div class="tx r" style="left:573px;top:55px;width:27px">3191</div>
<div class="c" style="left:602px;top:55px;background:#02ae54"></div>
<div class="tx r" style="left:602px;top:55px;width:27px">2468</div>
<div class="tx" style="left:437px;top:66px;width:78px">Morbihan</div>
<div class="c" style="left:515px;top:66px;background:#14ac4d"></div>
<div class="tx r" style="left:515px;top:66px;width:27px">2706</div>
<div class="c" style="left:544px;top:66px;background:#23a94b"></div>
<div class="tx r" style="left:544px;top:66px;width:27px">2864</div>
<div class="c" style="left:573px;top:66px;background:#25a84b"></div>
<div class="tx r" style="left:573px;top:66px;width:27px">2891</div>
<div class="c" style="left:602px;top:66px;background:#02ae54"></div>
<div class="tx r" style="left:602px;top:66px;width:27px">2468</div>
<div class="tx" style="left:437px;top:77px;width:78px">Moselle</div>
<div class="c" style="left:515px;top:77px;background:#de8033"></div>
<div class="tx r" style="left:515px;top:77px;width:27px">4841</div>
<div class="c" style="left:544px;top:77px;background:#7f953f"></div>
<div class="tx r" style="left:544px;top:77px;width:27px">3842</div>
<div class="c" style="left:573px;top:77px;background:#988f3c"></div>
<div class="tx r" style="left:573px;top:77px;width:27px">4106</div>
<div class="c" style="left:602px;top:77px;background:#569d45"></div>
<div class="tx r" style="left:602px;top:77px;width:27px">3409</div>
<div class="tx" style="left:437px;top:88px;width:78px">Nièvre</div>
<div class="c" style="left:515px;top:88px;background:#2ba74a"></div>
<div class="tx r" style="left:515px;top:88px;width:27px">2953</div>
<div class="c" style="left:544px;top:88px;background:#04ac57"></div>
<div class="tx r" style="left:544px;top:88px;width:27px">2443</div>
<div class="c" style="left:573px;top:88px;background:#0ba663"></div>
<div class="tx r" style="left:573px;top:88px;width:27px">2332</div>
<div class="c" style="left:602px;top:88px;background:#298b95"></div>
<div class="tx r" style="left:602px;top:88px;width:27px">1901</div>
<div class="tx" style="left:437px;top:99px;width:78px">Nord</div>
<div class="c" style="left:515px;top:99px;background:#9c8e3c"></div>
<div class="tx r" style="left:515px;top:99px;width:27px">4144</div>
<div class="c" style="left:544px;top:99px;background:#84943f"></div>
<div class="tx r" style="left:544px;top:99px;width:27px">3895</div>
<div class="c" style="left:573px;top:99px;background:#998f3c"></div>
<div class="tx r" style="left:573px;top:99px;width:27px">4114</div>
<div class="c" style="left:602px;top:99px;background:#559e45"></div>
<div class="tx r" style="left:602px;top:99px;width:27px">3400</div>
<div class="tx" style="left:437px;top:110px;width:78px">Oise</div>
<div class="c" style="left:515px;top:110px;background:#619b43"></div>
<div class="tx r" style="left:515px;top:110px;width:27px">3520</div>
<div class="c" style="left:544px;top:110px;background:#5f9b44"></div>
<div class="tx r" style="left:544px;top:110px;width:27px">3507</div>
<div class="c" style="left:573px;top:110px;background:#8e913d"></div>
<div class="tx r" style="left:573px;top:110px;width:27px">4001</div>
<div class="c" style="left:602px;top:110px;background:#45a147"></div>
<div class="tx r" style="left:602px;top:110px;width:27px">3227</div>
<div class="tx" style="left:437px;top:121px;width:78px">Orne</div>
<div class="c" style="left:515px;top:121px;background:#3da348"></div>
<div class="tx r" style="left:515px;top:121px;width:27px">3145</div>
<div class="c" style="left:544px;top:121px;background:#34a549"></div>
<div class="tx r" style="left:544px;top:121px;width:27px">3047</div>
<div class="c" style="left:573px;top:121px;background:#729841"></div>
<div class="tx r" style="left:573px;top:121px;width:27px">3698</div>
<div class="c" style="left:602px;top:121px;background:#599d44"></div>
<div class="tx r" style="left:602px;top:121px;width:27px">3437</div>
<div class="tx" style="left:437px;top:132px;width:78px">Paris</div>
<div class="c" style="left:515px;top:132px;background:#ed7d31"></div>
<div class="tx r" style="left:515px;top:132px;width:27px">6172</div>
<div class="c" style="left:544px;top:132px;background:#ed7d31"></div>
<div class="tx r" style="left:544px;top:132px;width:27px">6714</div>
<div class="c" style="left:573px;top:132px;background:#ed7d31"></div>
<div class="tx r" style="left:573px;top:132px;width:27px">6506</div>
<div class="c" style="left:602px;top:132px;background:#ed7d31"></div>
<div class="tx r" style="left:602px;top:132px;width:27px">5847</div>
<div class="tx" style="left:437px;top:143px;width:78px">Pas-de-Calais</div>
<div class="c" style="left:515px;top:143px;background:#609b43"></div>
<div class="tx r" style="left:515px;top:143px;width:27px">3510</div>
<div class="c" style="left:544px;top:143px;background:#49a046"></div>
<div class="tx r" style="left:544px;top:143px;width:27px">3269</div>
<div class="c" style="left:573px;top:143px;background:#699942"></div>
<div class="tx r" style="left:573px;top:143px;width:27px">3611</div>
<div class="c" style="left:602px;top:143px;background:#35a549"></div>
<div class="tx r" style="left:602px;top:143px;width:27px">3060</div>
<div class="tx" style="left:437px;top:154px;width:78px">Puy-de-Dôme</div>
<div class="c" style="left:515px;top:154px;background:#49a046"></div>
<div class="tx r" style="left:515px;top:154px;width:27px">3271</div>
<div class="c" style="left:544px;top:154px;background:#2ea64a"></div>
<div class="tx r" style="left:544px;top:154px;width:27px">2981</div>
<div class="c" style="left:573px;top:154px;background:#579d45"></div>
<div class="tx r" style="left:573px;top:154px;width:27px">3422</div>
<div class="c" style="left:602px;top:154px;background:#20a94c"></div>
<div class="tx r" style="left:602px;top:154px;width:27px">2835</div>
<div class="tx" style="left:437px;top:165px;width:78px">Pyrénées-Atlantiques</div>
<div class="c" style="left:515px;top:165px;background:#4e9f46"></div>
<div class="tx r" style="left:515px;top:165px;width:27px">3318</div>
<div class="c" style="left:544px;top:165px;background:#619b43"></div>
<div class="tx r" style="left:544px;top:165px;width:27px">3525</div>
<div class="c" style="left:573px;top:165px;background:#81943f"></div>
<div class="tx r" style="left:573px;top:165px;width:27px">3862</div>
<div class="c" style="left:602px;top:165px;background:#699942"></div>
<div class="tx r" style="left:602px;top:165px;width:27px">3607</div>
<div class="tx" style="left:437px;top:176px;width:78px">Pyrénées-Orientales</div>
<div class="c" style="left:515px;top:176px;background:#7a9640"></div>
<div class="tx r" style="left:515px;top:176px;width:27px">3783</div>
<div class="c" style="left:544px;top:176px;background:#8b923e"></div>
<div class="tx r" style="left:544px;top:176px;width:27px">3964</div>
<div class="c" style="left:573px;top:176px;background:#8a923e"></div>
<div class="tx r" style="left:573px;top:176px;width:27px">3955</div>
<div class="c" style="left:602px;top:176px;background:#34a549"></div>
<div class="tx r" style="left:602px;top:176px;width:27px">3049</div>
<div class="tx" style="left:437px;top:187px;width:78px">Rhône</div>
<div class="c" style="left:515px;top:187px;background:#769741"></div>
<div class="tx r" style="left:515px;top:187px;width:27px">3745</div>
<div class="c" style="left:544px;top:187px;background:#6f9842"></div>
<div class="tx r" style="left:544px;top:187px;width:27px">3668</div>
<div class="c" style="left:573px;top:187px;background:#93903d"></div>
<div class="tx r" style="left:573px;top:187px;width:27px">4047</div>
<div class="c" style="left:602px;top:187px;background:#4e9f46"></div>
<div class="tx r" style="left:602px;top:187px;width:27px">3326</div>
<div class="tx" style="left:437px;top:198px;width:78px">Saône-et-Loire</div>
<div class="c" style="left:515px;top:198px;background:#0fa269"></div>
<div class="tx r" style="left:515px;top:198px;width:27px">2282</div>
<div class="c" style="left:544px;top:198px;background:#19997b"></div>
<div class="tx r" style="left:544px;top:198px;width:27px">2131</div>
<div class="c" style="left:573px;top:198px;background:#07ae4f"></div>
<div class="tx r" style="left:573px;top:198px;width:27px">2578</div>
<div class="c" style="left:602px;top:198px;background:#1a987d"></div>
<div class="tx r" style="left:602px;top:198px;width:27px">2111</div>
<div class="tx" style="left:437px;top:209px;width:78px">Sarthe</div>
<div class="c" style="left:515px;top:209px;background:#719841"></div>
<div class="tx r" style="left:515px;top:209px;width:27px">3691</div>
<div class="c" style="left:544px;top:209px;background:#5f9c44"></div>
<div class="tx r" style="left:544px;top:209px;width:27px">3501</div>
<div class="c" style="left:573px;top:209px;background:#6c9942"></div>
<div class="tx r" style="left:573px;top:209px;width:27px">3635</div>
<div class="c" style="left:602px;top:209px;background:#31a54a"></div>
<div class="tx r" style="left:602px;top:209px;width:27px">3018</div>
<div class="tx" style="left:437px;top:220px;width:78px">Savoie</div>
<div class="c" style="left:515px;top:220px;background:#0bae4f"></div>
<div class="tx r" style="left:515px;top:220px;width:27px">2613</div>
<div class="c" style="left:544px;top:220px;background:#06af4f"></div>
<div class="tx r" style="left:544px;top:220px;width:27px">2566</div>
<div class="c" style="left:573px;top:220px;background:#30a64a"></div>
<div class="tx r" style="left:573px;top:220px;width:27px">3005</div>
<div class="c" style="left:602px;top:220px;background:#0ca564"></div>
<div class="tx r" style="left:602px;top:220px;width:27px">2328</div>
<div class="tx" style="left:437px;top:231px;width:78px">Seine-et-Marne</div>
<div class="c" style="left:515px;top:231px;background:#6c9942"></div>
<div class="tx r" style="left:515px;top:231px;width:27px">3640</div>
<div class="c" style="left:544px;top:231px;background:#669a43"></div>
<div class="tx r" style="left:544px;top:231px;width:27px">3571</div>
<div class="c" style="left:573px;top:231px;background:#7f953f"></div>
<div class="tx r" style="left:573px;top:231px;width:27px">3844</div>
<div class="c" style="left:602px;top:231px;background:#2ba74a"></div>
<div class="tx r" style="left:602px;top:231px;width:27px">2953</div>
<div class="tx" style="left:437px;top:242px;width:78px">Seine-Maritime</div>
<div class="c" style="left:515px;top:242px;background:#a38d3b"></div>
<div class="tx r" style="left:515px;top:242px;width:27px">4216</div>
<div class="c" style="left:544px;top:242px;background:#5e9c44"></div>
<div class="tx r" style="left:544px;top:242px;width:27px">3489</div>
<div class="c" style="left:573px;top:242px;background:#ad8b39"></div>
<div class="tx r" style="left:573px;top:242px;width:27px">4327</div>
<div class="c" style="left:602px;top:242px;background:#5f9c44"></div>
<div class="tx r" style="left:602px;top:242px;width:27px">3501</div>
<div class="tx" style="left:437px;top:253px;width:78px">Seine-St-Denis</div>
<div class="c" style="left:515px;top:253px;background:#679a42"></div>
<div class="tx r" style="left:515px;top:253px;width:27px">3590</div>
<div class="c" style="left:544px;top:253px;background:#5a9d44"></div>
<div class="tx r" style="left:544px;top:253px;width:27px">3452</div>
<div class="c" style="left:573px;top:253px;background:#729841"></div>
<div class="tx r" style="left:573px;top:253px;width:27px">3698</div>
<div class="c" style="left:602px;top:253px;background:#3ca348"></div>
<div class="tx r" style="left:602px;top:253px;width:27px">3128</div>
<div class="tx" style="left:437px;top:264px;width:78px">Somme</div>
<div class="c" style="left:515px;top:264px;background:#5b9c44"></div>
<div class="tx r" style="left:515px;top:264px;width:27px">3458</div>
<div class="c" style="left:544px;top:264px;background:#509f45"></div>
<div class="tx r" style="left:544px;top:264px;width:27px">3347</div>
<div class="c" style="left:573px;top:264px;background:#769741"></div>
<div class="tx r" style="left:573px;top:264px;width:27px">3742</div>
<div class="c" style="left:602px;top:264px;background:#39a449"></div>
<div class="tx r" style="left:602px;top:264px;width:27px">3101</div>
<div class="tx" style="left:437px;top:275px;width:78px">Tarn</div>
<div class="c" style="left:515px;top:275px;background:#35a549"></div>
<div class="tx r" style="left:515px;top:275px;width:27px">3062</div>
<div class="c" style="left:544px;top:275px;background:#1fa94c"></div>
<div class="tx r" style="left:544px;top:275px;width:27px">2824</div>
<div class="c" style="left:573px;top:275px;background:#2fa64a"></div>
<div class="tx r" style="left:573px;top:275px;width:27px">2999</div>
<div class="c" style="left:602px;top:275px;background:#03ad55"></div>
<div class="tx r" style="left:602px;top:275px;width:27px">2455</div>
<div class="tx" style="left:437px;top:286px;width:78px">Tarn-et-Garonne</div>
<div class="c" style="left:515px;top:286px;background:#549e45"></div>
<div class="tx r" style="left:515px;top:286px;width:27px">3389</div>
<div class="c" style="left:544px;top:286px;background:#48a047"></div>
<div class="tx r" style="left:544px;top:286px;width:27px">3263</div>
<div class="c" style="left:573px;top:286px;background:#4ca046"></div>
<div class="tx r" style="left:573px;top:286px;width:27px">3304</div>
<div class="c" style="left:602px;top:286px;background:#3fa348"></div>
<div class="tx r" style="left:602px;top:286px;width:27px">3160</div>
<div class="tx" style="left:437px;top:297px;width:78px">Territoire-de-Belfort</div>
<div class="c" style="left:515px;top:297px;background:#3ba348"></div>
<div class="tx r" style="left:515px;top:297px;width:27px">3121</div>
<div class="c" style="left:544px;top:297px;background:#22a94c"></div>
<div class="tx r" style="left:544px;top:297px;width:27px">2860</div>
<div class="c" style="left:573px;top:297px;background:#7b9540"></div>
<div class="tx r" style="left:573px;top:297px;width:27px">3800</div>
<div class="c" style="left:602px;top:297px;background:#2ba74a"></div>
<div class="tx r" style="left:602px;top:297px;width:27px">2956</div>
<div class="tx" style="left:437px;top:308px;width:78px">Val-de-Marne</div>
<div class="c" style="left:515px;top:308px;background:#a08e3b"></div>
<div class="tx r" style="left:515px;top:308px;width:27px">4183</div>
<div class="c" style="left:544px;top:308px;background:#a78c3a"></div>
<div class="tx r" style="left:544px;top:308px;width:27px">4263</div>
<div class="c" style="left:573px;top:308px;background:#a08d3b"></div>
<div class="tx r" style="left:573px;top:308px;width:27px">4193</div>
<div class="c" style="left:602px;top:308px;background:#759741"></div>
<div class="tx r" style="left:602px;top:308px;width:27px">3729</div>
<div class="tx" style="left:437px;top:319px;width:78px">Val-d&#x27;Oise</div>
<div class="c" style="left:515px;top:319px;background:#769741"></div>
<div class="tx r" style="left:515px;top:319px;width:27px">3748</div>
<div class="c" style="left:544px;top:319px;background:#6e9842"></div>
<div class="tx r" style="left:544px;top:319px;width:27px">3657</div>
<div class="c" style="left:573px;top:319px;background:#90913d"></div>
<div class="tx r" style="left:573px;top:319px;width:27px">4020</div>
<div class="c" style="left:602px;top:319px;background:#46a147"></div>
<div class="tx r" style="left:602px;top:319px;width:27px">3236</div>
<div class="tx" style="left:437px;top:330px;width:78px">Var</div>
<div class="c" style="left:515px;top:330px;background:#679a42"></div>
<div class="tx r" style="left:515px;top:330px;width:27px">3590</div>
<div class="c" style="left:544px;top:330px;background:#49a046"></div>
<div class="tx r" style="left:544px;top:330px;width:27px">3267</div>
<div class="c" style="left:573px;top:330px;background:#5a9d44"></div>
<div class="tx r" style="left:573px;top:330px;width:27px">3451</div>
<div class="c" style="left:602px;top:330px;background:#1fa94c"></div>
<div class="tx r" style="left:602px;top:330px;width:27px">2829</div>
<div class="tx" style="left:437px;top:341px;width:78px">Vaucluse</div>
<div class="c" style="left:515px;top:341px;background:#1fa94c"></div>
<div class="tx r" style="left:515px;top:341px;width:27px">2829</div>
<div class="c" style="left:544px;top:341px;background:#06af4f"></div>
<div class="tx r" style="left:544px;top:341px;width:27px">2568</div>
<div class="c" style="left:573px;top:341px;background:#0aae4f"></div>
<div class="tx r" style="left:573px;top:341px;width:27px">2606</div>
<div class="c" style="left:602px;top:341px;background:#179b77"></div>
<div class="tx r" style="left:602px;top:341px;width:27px">2168</div>
<div class="tx" style="left:437px;top:352px;width:78px">Vendée</div>
<div class="c" style="left:515px;top:352px;background:#19ab4d"></div>
<div class="tx r" style="left:515px;top:352px;width:27px">2766</div>
<div class="c" style="left:544px;top:352px;background:#24a84b"></div>
<div class="tx r" style="left:544px;top:352px;width:27px">2884</div>
<div class="c" style="left:573px;top:352px;background:#3da348"></div>
<div class="tx r" style="left:573px;top:352px;width:27px">3142</div>
<div class="c" style="left:602px;top:352px;background:#0fad4e"></div>
<div class="tx r" style="left:602px;top:352px;width:27px">2663</div>
<div class="tx" style="left:437px;top:363px;width:78px">Vienne</div>
<div class="c" style="left:515px;top:363px;background:#26a84b"></div>
<div class="tx r" style="left:515px;top:363px;width:27px">2905</div>
<div class="c" style="left:544px;top:363px;background:#0aae4f"></div>
<div class="tx r" style="left:544px;top:363px;width:27px">2609</div>
<div class="c" style="left:573px;top:363px;background:#34a549"></div>
<div class="tx r" style="left:573px;top:363px;width:27px">3052</div>
<div class="c" style="left:602px;top:363px;background:#00b050"></div>
<div class="tx r" style="left:602px;top:363px;width:27px">2499</div>
<div class="tx" style="left:437px;top:374px;width:78px">Vosges</div>
<div class="c" style="left:515px;top:374px;background:#48a047"></div>
<div class="tx r" style="left:515px;top:374px;width:27px">3261</div>
<div class="c" style="left:544px;top:374px;background:#2aa74b"></div>
<div class="tx r" style="left:544px;top:374px;width:27px">2941</div>
<div class="c" style="left:573px;top:374px;background:#719841"></div>
<div class="tx r" style="left:573px;top:374px;width:27px">3694</div>
<div class="c" style="left:602px;top:374px;background:#3da348"></div>
<div class="tx r" style="left:602px;top:374px;width:27px">3145</div>
<div class="tx" style="left:437px;top:385px;width:78px">Yonne</div>
<div class="c" style="left:515px;top:385px;background:#3da348"></div>
<div class="tx r" style="left:515px;top:385px;width:27px">3148</div>
<div class="c" style="left:544px;top:385px;background:#27a84b"></div>
<div class="tx r" style="left:544px;top:385px;width:27px">2916</div>
<div class="c" style="left:573px;top:385px;background:#3aa348"></div>
<div class="tx r" style="left:573px;top:385px;width:27px">3114</div>
<div class="c" style="left:602px;top:385px;background:#02ae54"></div>
<div class="tx r" style="left:602px;top:385px;width:27px">2468</div>
<div class="tx" style="left:437px;top:396px;width:78px">Yvelines</div>
<div class="c" style="left:515px;top:396px;background:#5d9c44"></div>
<div class="tx r" style="left:515px;top:396px;width:27px">3478</div>
<div class="c" style="left:544px;top:396px;background:#6d9942"></div>
<div class="tx r" style="left:544px;top:396px;width:27px">3650</div>
<div class="c" style="left:573px;top:396px;background:#91913d"></div>
<div class="tx r" style="left:573px;top:396px;width:27px">4028</div>
<div class="c" style="left:602px;top:396px;background:#519f45"></div>
<div class="tx r" style="left:602px;top:396px;width:27px">3357</div>
<div class="tx" style="left:437px;top:407px;width:78px">z-Inconnu</div>
<div class="tx r" style="left:515px;top:407px;width:27px">1066</div>
<div class="tx r" style="left:544px;top:407px;width:27px">1109</div>
<div class="tx r" style="left:573px;top:407px;width:27px">1210</div>
<div class="tx r" style="left:602px;top:407px;width:27px">1181</div>
<div class="ln" style="left:433px;top:22px;width:199px"></div>
<div class="sel" style="left:630px;top:153px;width:2px;height:14px"></div>
<div class="sel" style="left:630px;top:153px;width:3px;height:2px"></div>
<div class="sel" style="left:630px;top:165px;width:3px;height:2px"></div>
<svg class="ov" width="633" height="421" viewBox="0 0 633 421" shape-rendering="crispEdges" aria-hidden="true"><defs><path id="g0" d="M1 0h2v1h-2zM0 1h1v1h-1zM3 1h1v1h-1zM0 2h1v1h-1zM3 2h1v1h-1zM0 3h1v1h-1zM3 3h1v1h-1zM0 4h1v1h-1zM3 4h1v1h-1zM0 5h1v1h-1zM3 5h1v1h-1zM1 6h2v1h-2z"/><path id="g1" d="M1 0h1v1h-1zM0 1h2v1h-2zM1 2h1v1h-1zM1 3h1v1h-1zM1 4h1v1h-1zM1 5h1v1h-1zM1 6h1v1h-1z"/><path id="g2" d="M1 0h2v1h-2zM0 1h1v1h-1zM3 1h1v1h-1zM3 2h1v1h-1zM2 3h1v1h-1zM1 4h1v1h-1zM0 5h1v1h-1zM0 6h4v1h-4z"/><path id="g3" d="M1 0h2v1h-2zM0 1h1v1h-1zM3 1h1v1h-1zM3 2h1v1h-1zM2 3h1v1h-1zM3 4h1v1h-1zM0 5h1v1h-1zM3 5h1v1h-1zM1 6h2v1h-2z"/><path id="g4" d="M2 0h1v1h-1zM1 1h2v1h-2zM1 2h2v1h-2zM0 3h1v1h-1zM2 3h1v1h-1zM0 4h4v1h-4zM2 5h1v1h-1zM2 6h1v1h-1z"/><path id="g5" d="M0 0h4v1h-4zM0 1h1v1h-1zM0 2h3v1h-3zM0 3h1v1h-1zM3 3h1v1h-1zM3 4h1v1h-1zM0 5h1v1h-1zM3 5h1v1h-1zM1 6h2v1h-2z"/><path id="g6" d="M1 0h2v1h-2zM0 1h1v1h-1zM3 1h1v1h-1zM0 2h1v1h-1zM0 3h3v1h-3zM0 4h1v1h-1zM3 4h1v1h-1zM0 5h1v1h-1zM3 5h1v1h-1zM1 6h2v1h-2z"/><path id="g7" d="M0 0h4v1h-4zM3 1h1v1h-1zM2 2h1v1h-1zM2 3h1v1h-1zM1 4h1v1h-1zM1 5h1v1h-1zM1 6h1v1h-1z"/><path id="g8" d="M1 0h2v1h-2zM0 1h1v1h-1zM3 1h1v1h-1zM0 2h1v1h-1zM3 2h1v1h-1zM1 3h2v1h-2zM0 4h1v1h-1zM3 4h1v1h-1zM0 5h1v1h-1zM3 5h1v1h-1zM1 6h2v1h-2z"/><path id="g9" d="M1 0h2v1h-2zM0 1h1v1h-1zM3 1h1v1h-1zM0 2h1v1h-1zM3 2h1v1h-1zM1 3h3v1h-3zM3 4h1v1h-1zM0 5h1v1h-1zM3 5h1v1h-1zM1 6h2v1h-2z"/><path id="b0" d="M1 0h3v1h-3zM0 1h2v1h-2zM3 1h2v1h-2zM0 2h2v1h-2zM3 2h2v1h-2zM0 3h2v1h-2zM3 3h2v1h-2zM0 4h2v1h-2zM3 4h2v1h-2zM0 5h2v1h-2zM3 5h2v1h-2zM1 6h3v1h-3z"/><path id="b1" d="M1 0h2v1h-2zM0 1h3v1h-3zM1 2h2v1h-2zM1 3h2v1h-2zM1 4h2v1h-2zM1 5h2v1h-2zM1 6h2v1h-2z"/><path id="b2" d="M1 0h3v1h-3zM0 1h1v1h-1zM3 1h2v1h-2zM3 2h2v1h-2zM2 3h2v1h-2zM1 4h2v1h-2zM0 5h2v1h-2zM0 6h5v1h-5z"/><path id="b8" d="M1 0h3v1h-3zM0 1h2v1h-2zM3 1h2v1h-2zM0 2h2v1h-2zM3 2h2v1h-2zM1 3h3v1h-3zM0 4h2v1h-2zM3 4h2v1h-2zM0 5h2v1h-2zM3 5h2v1h-2zM1 6h3v1h-3z"/><path id="b9" d="M1 0h3v1h-3zM0 1h2v1h-2zM3 1h2v1h-2zM0 2h2v1h-2zM3 2h2v1h-2zM1 3h4v1h-4zM3 4h2v1h-2zM0 5h2v1h-2zM3 5h2v1h-2zM1 6h3v1h-3z"/><path id="L39" d="M0 0h1v1h-1zM0 1h1v1h-1z"/><path id="L45" d="M0 4h2v1h-2z"/><path id="L65" d="M2 0h2v1h-2zM2 1h2v1h-2zM1 2h1v1h-1zM4 2h1v1h-1zM1 3h1v1h-1zM4 3h1v1h-1zM1 4h4v1h-4zM0 5h1v1h-1zM5 5h1v1h-1zM0 6h1v1h-1zM5 6h1v1h-1z"/><path id="L66" d="M0 0h5v1h-5zM0 1h1v1h-1zM5 1h1v1h-1zM0 2h1v1h-1zM5 2h1v1h-1zM0 3h5v1h-5zM0 4h1v1h-1zM5 4h1v1h-1zM0 5h1v1h-1zM5 5h1v1h-1zM0 6h5v1h-5z"/><path id="L67" d="M1 0h4v1h-4zM0 1h1v1h-1zM5 1h1v1h-1zM0 2h1v1h-1zM0 3h1v1h-1zM0 4h1v1h-1zM0 5h1v1h-1zM5 5h1v1h-1zM1 6h4v1h-4z"/><path id="L68" d="M0 0h5v1h-5zM0 1h1v1h-1zM5 1h1v1h-1zM0 2h1v1h-1zM5 2h1v1h-1zM0 3h1v1h-1zM5 3h1v1h-1zM0 4h1v1h-1zM5 4h1v1h-1zM0 5h1v1h-1zM5 5h1v1h-1zM0 6h5v1h-5z"/><path id="L69" d="M0 0h5v1h-5zM0 1h1v1h-1zM0 2h1v1h-1zM0 3h4v1h-4zM0 4h1v1h-1zM0 5h1v1h-1zM0 6h5v1h-5z"/><path id="L70" d="M0 0h5v1h-5zM0 1h1v1h-1zM0 2h1v1h-1zM0 3h4v1h-4zM0 4h1v1h-1zM0 5h1v1h-1zM0 6h1v1h-1z"/><path id="L71" d="M1 0h4v1h-4zM0 1h1v1h-1zM5 1h1v1h-1zM0 2h1v1h-1zM0 3h1v1h-1zM3 3h3v1h-3zM0 4h1v1h-1zM5 4h1v1h-1zM0 5h1v1h-1zM4 5h2v1h-2zM1 6h3v1h-3zM5 6h1v1h-1z"/><path id="L72" d="M0 0h1v1h-1zM5 0h1v1h-1zM0 1h1v1h-1zM5 1h1v1h-1zM0 2h1v1h-1zM5 2h1v1h-1zM0 3h6v1h-6zM0 4h1v1h-1zM5 4h1v1h-1zM0 5h1v1h-1zM5 5h1v1h-1zM0 6h1v1h-1zM5 6h1v1h-1z"/><path id="L73" d="M0 0h1v1h-1zM0 1h1v1h-1zM0 2h1v1h-1zM0 3h1v1h-1zM0 4h1v1h-1zM0 5h1v1h-1zM0 6h1v1h-1z"/><path id="L74" d="M3 0h1v1h-1zM3 1h1v1h-1zM3 2h1v1h-1zM3 3h1v1h-1zM0 4h1v1h-1zM3 4h1v1h-1zM0 5h1v1h-1zM3 5h1v1h-1zM1 6h2v1h-2z"/><path id="L76" d="M0 0h1v1h-1zM0 1h1v1h-1zM0 2h1v1h-1zM0 3h1v1h-1zM0 4h1v1h-1zM0 5h1v1h-1zM0 6h4v1h-4z"/><path id="L77" d="M0 0h2v1h-2zM6 0h2v1h-2zM0 1h2v1h-2zM6 1h2v1h-2zM0 2h1v1h-1zM2 2h1v1h-1zM5 2h1v1h-1zM7 2h1v1h-1zM0 3h1v1h-1zM2 3h1v1h-1zM5 3h1v1h-1zM7 3h1v1h-1zM0 4h1v1h-1zM3 4h2v1h-2zM7 4h1v1h-1zM0 5h1v1h-1zM3 5h2v1h-2zM7 5h1v1h-1zM0 6h1v1h-1zM7 6h1v1h-1z"/><path id="L78" d="M0 0h2v1h-2zM5 0h1v1h-1zM0 1h2v1h-2zM5 1h1v1h-1zM0 2h1v1h-1zM2 2h1v1h-1zM5 2h1v1h-1zM0 3h1v1h-1zM2 3h1v1h-1zM5 3h1v1h-1zM0 4h1v1h-1zM3 4h1v1h-1zM5 4h1v1h-1zM0 5h1v1h-1zM3 5h1v1h-1zM5 5h1v1h-1zM0 6h1v1h-1zM4 6h2v1h-2z"/><path id="L79" d="M1 0h4v1h-4zM0 1h1v1h-1zM5 1h1v1h-1zM0 2h1v1h-1zM5 2h1v1h-1zM0 3h1v1h-1zM5 3h1v1h-1zM0 4h1v1h-1zM5 4h1v1h-1zM0 5h1v1h-1zM5 5h1v1h-1zM1 6h4v1h-4z"/><path id="L80" d="M0 0h5v1h-5zM0 1h1v1h-1zM5 1h1v1h-1zM0 2h1v1h-1zM5 2h1v1h-1zM0 3h5v1h-5zM0 4h1v1h-1zM0 5h1v1h-1zM0 6h1v1h-1z"/><path id="L82" d="M0 0h5v1h-5zM0 1h1v1h-1zM5 1h1v1h-1zM0 2h1v1h-1zM5 2h1v1h-1zM0 3h5v1h-5zM0 4h1v1h-1zM5 4h1v1h-1zM0 5h1v1h-1zM5 5h1v1h-1zM0 6h1v1h-1zM5 6h1v1h-1z"/><path id="L83" d="M1 0h3v1h-3zM0 1h1v1h-1zM4 1h1v1h-1zM0 2h1v1h-1zM1 3h3v1h-3zM4 4h1v1h-1zM0 5h1v1h-1zM4 5h1v1h-1zM1 6h3v1h-3z"/><path id="L84" d="M0 0h5v1h-5zM2 1h1v1h-1zM2 2h1v1h-1zM2 3h1v1h-1zM2 4h1v1h-1zM2 5h1v1h-1zM2 6h1v1h-1z"/><path id="L86" d="M0 0h1v1h-1zM4 0h1v1h-1zM0 1h1v1h-1zM4 1h1v1h-1zM1 2h1v1h-1zM3 2h1v1h-1zM1 3h1v1h-1zM3 3h1v1h-1zM1 4h1v1h-1zM3 4h1v1h-1zM2 5h1v1h-1zM2 6h1v1h-1z"/><path id="L89" d="M0 0h1v1h-1zM4 0h1v1h-1zM0 1h1v1h-1zM4 1h1v1h-1zM1 2h1v1h-1zM3 2h1v1h-1zM2 3h1v1h-1zM2 4h1v1h-1zM2 5h1v1h-1zM2 6h1v1h-1z"/><path id="L97" d="M1 2h2v1h-2zM3 3h1v1h-1zM1 4h3v1h-3zM0 5h1v1h-1zM3 5h1v1h-1zM1 6h3v1h-3z"/><path id="L98" d="M0 0h1v1h-1zM0 1h1v1h-1zM0 2h3v1h-3zM0 3h1v1h-1zM3 3h1v1h-1zM0 4h1v1h-1zM3 4h1v1h-1zM0 5h1v1h-1zM3 5h1v1h-1zM0 6h3v1h-3z"/><path id="L99" d="M1 2h2v1h-2zM0 3h1v1h-1zM3 3h1v1h-1zM0 4h1v1h-1zM0 5h1v1h-1zM3 5h1v1h-1zM1 6h2v1h-2z"/><path id="L100" d="M3 0h1v1h-1zM3 1h1v1h-1zM1 2h3v1h-3zM0 3h1v1h-1zM3 3h1v1h-1zM0 4h1v1h-1zM3 4h1v1h-1zM0 5h1v1h-1zM3 5h1v1h-1zM1 6h3v1h-3z"/><path id="L101" d="M1 2h2v1h-2zM0 3h1v1h-1zM3 3h1v1h-1zM0 4h4v1h-4zM0 5h1v1h-1zM1 6h2v1h-2z"/><path id="L102" d="M1 0h1v1h-1zM0 1h1v1h-1zM0 2h2v1h-2zM0 3h1v1h-1zM0 4h1v1h-1zM0 5h1v1h-1zM0 6h1v1h-1z"/><path id="L103" d="M1 2h3v1h-3zM0 3h1v1h-1zM3 3h1v1h-1zM0 4h1v1h-1zM3 4h1v1h-1zM0 5h1v1h-1zM3 5h1v1h-1zM1 6h3v1h-3zM3 7h1v1h-1zM0 8h3v1h-3z"/><path id="L104" d="M0 0h1v1h-1zM0 1h1v1h-1zM0 2h3v1h-3zM0 3h1v1h-1zM3 3h1v1h-1zM0 4h1v1h-1zM3 4h1v1h-1zM0 5h1v1h-1zM3 5h1v1h-1zM0 6h1v1h-1zM3 6h1v1h-1z"/><path id="L105" d="M0 0h1v1h-1zM0 2h1v1h-1zM0 3h1v1h-1zM0 4h1v1h-1zM0 5h1v1h-1zM0 6h1v1h-1z"/><path id="L108" d="M0 0h1v1h-1zM0 1h1v1h-1zM0 2h1v1h-1zM0 3h1v1h-1zM0 4h1v1h-1zM0 5h1v1h-1zM0 6h1v1h-1z"/><path id="L109" d="M0 2h6v1h-6zM0 3h1v1h-1zM3 3h1v1h-1zM6 3h1v1h-1zM0 4h1v1h-1zM3 4h1v1h-1zM6 4h1v1h-1zM0 5h1v1h-1zM3 5h1v1h-1zM6 5h1v1h-1zM0 6h1v1h-1zM3 6h1v1h-1zM6 6h1v1h-1z"/><path id="L110" d="M0 2h3v1h-3zM0 3h1v1h-1zM3 3h1v1h-1zM0 4h1v1h-1zM3 4h1v1h-1zM0 5h1v1h-1zM3 5h1v1h-1zM0 6h1v1h-1zM3 6h1v1h-1z"/><path id="L111" d="M1 2h3v1h-3zM0 3h1v1h-1zM4 3h1v1h-1zM0 4h1v1h-1zM4 4h1v1h-1zM0 5h1v1h-1zM4 5h1v1h-1zM1 6h3v1h-3z"/><path id="L112" d="M0 2h3v1h-3zM0 3h1v1h-1zM3 3h1v1h-1zM0 4h1v1h-1zM3 4h1v1h-1zM0 5h1v1h-1zM3 5h1v1h-1zM0 6h3v1h-3zM0 7h1v1h-1zM0 8h1v1h-1z"/><path id="L113" d="M1 2h3v1h-3zM0 3h1v1h-1zM3 3h1v1h-1zM0 4h1v1h-1zM3 4h1v1h-1zM0 5h1v1h-1zM3 5h1v1h-1zM1 6h3v1h-3zM3 7h1v1h-1zM3 8h1v1h-1z"/><path id="L114" d="M0 2h2v1h-2zM0 3h1v1h-1zM0 4h1v1h-1zM0 5h1v1h-1zM0 6h1v1h-1z"/><path id="L115" d="M1 2h3v1h-3zM0 3h1v1h-1zM1 4h2v1h-2zM3 5h1v1h-1zM0 6h3v1h-3z"/><path id="L116" d="M0 1h1v1h-1zM0 2h2v1h-2zM0 3h1v1h-1zM0 4h1v1h-1zM0 5h1v1h-1zM1 6h1v1h-1z"/><path id="L117" d="M0 2h1v1h-1zM3 2h1v1h-1zM0 3h1v1h-1zM3 3h1v1h-1zM0 4h1v1h-1zM3 4h1v1h-1zM0 5h1v1h-1zM3 5h1v1h-1zM1 6h3v1h-3z"/><path id="L118" d="M0 2h1v1h-1zM3 2h1v1h-1zM0 3h1v1h-1zM3 3h1v1h-1zM0 4h1v1h-1zM3 4h1v1h-1zM1 5h2v1h-2zM1 6h2v1h-2z"/><path id="L120" d="M0 2h1v1h-1zM2 2h1v1h-1zM0 3h1v1h-1zM2 3h1v1h-1zM1 4h1v1h-1zM0 5h1v1h-1zM2 5h1v1h-1zM0 6h1v1h-1zM2 6h1v1h-1z"/><path id="L121" d="M0 2h1v1h-1zM2 2h1v1h-1zM0 3h1v1h-1zM2 3h1v1h-1zM0 4h1v1h-1zM2 4h1v1h-1zM0 5h1v1h-1zM2 5h1v1h-1zM1 6h2v1h-2zM2 7h1v1h-1zM0 8h2v1h-2z"/><path id="L122" d="M0 2h3v1h-3zM2 3h1v1h-1zM1 4h1v1h-1zM0 5h1v1h-1zM0 6h3v1h-3z"/><path id="L232" d="M1 -1h1v1h-1zM2 0h1v1h-1zM1 2h2v1h-2zM0 3h1v1h-1zM3 3h1v1h-1zM0 4h4v1h-4zM0 5h1v1h-1zM1 6h2v1h-2z"/><path id="L233" d="M2 -1h1v1h-1zM1 0h1v1h-1zM1 2h2v1h-2zM0 3h1v1h-1zM3 3h1v1h-1zM0 4h4v1h-4zM0 5h1v1h-1zM1 6h2v1h-2z"/><path id="L244" d="M2 -1h1v1h-1zM1 0h1v1h-1zM3 0h1v1h-1zM1 2h3v1h-3zM0 3h1v1h-1zM4 3h1v1h-1zM0 4h1v1h-1zM4 4h1v1h-1zM0 5h1v1h-1zM4 5h1v1h-1zM1 6h3v1h-3z"/><path id="K73" d="M0 0h2v1h-2zM0 1h2v1h-2zM0 2h2v1h-2zM0 3h2v1h-2zM0 4h2v1h-2zM0 5h2v1h-2zM0 6h2v1h-2z"/><path id="K110" d="M0 2h4v1h-4zM0 3h2v1h-2zM3 3h2v1h-2zM0 4h2v1h-2zM3 4h2v1h-2zM0 5h2v1h-2zM3 5h2v1h-2zM0 6h2v1h-2zM3 6h2v1h-2z"/><path id="K99" d="M1 2h4v1h-4zM0 3h2v1h-2zM4 3h1v1h-1zM0 4h2v1h-2zM0 5h2v1h-2zM4 5h1v1h-1zM1 6h4v1h-4z"/><path id="K105" d="M0 0h2v1h-2zM0 2h2v1h-2zM0 3h2v1h-2zM0 4h2v1h-2zM0 5h2v1h-2zM0 6h2v1h-2z"/><path id="K100" d="M3 0h2v1h-2zM3 1h2v1h-2zM1 2h4v1h-4zM0 3h2v1h-2zM3 3h2v1h-2zM0 4h2v1h-2zM3 4h2v1h-2zM0 5h2v1h-2zM3 5h2v1h-2zM1 6h4v1h-4z"/><path id="K101" d="M1 2h3v1h-3zM0 3h2v1h-2zM3 3h2v1h-2zM0 4h5v1h-5zM0 5h2v1h-2zM1 6h3v1h-3z"/><path id="K84" d="M0 0h6v1h-6zM2 1h2v1h-2zM2 2h2v1h-2zM2 3h2v1h-2zM2 4h2v1h-2zM2 5h2v1h-2zM2 6h2v1h-2z"/><path id="K115" d="M1 2h4v1h-4zM0 3h2v1h-2zM1 4h3v1h-3zM3 5h2v1h-2zM0 6h4v1h-4z"/><path id="K116" d="M0 1h2v1h-2zM0 2h3v1h-3zM0 3h2v1h-2zM0 4h2v1h-2zM0 5h2v1h-2zM1 6h2v1h-2z"/><path id="K68" d="M0 0h6v1h-6zM0 1h2v1h-2zM5 1h2v1h-2zM0 2h2v1h-2zM5 2h2v1h-2zM0 3h2v1h-2zM5 3h2v1h-2zM0 4h2v1h-2zM5 4h2v1h-2zM0 5h2v1h-2zM5 5h2v1h-2zM0 6h6v1h-6z"/><path id="K82" d="M0 0h6v1h-6zM0 1h2v1h-2zM5 1h2v1h-2zM0 2h2v1h-2zM5 2h2v1h-2zM0 3h6v1h-6zM0 4h2v1h-2zM5 4h2v1h-2zM0 5h2v1h-2zM5 5h2v1h-2zM0 6h2v1h-2zM5 6h2v1h-2z"/><path id="K79" d="M1 0h5v1h-5zM0 1h2v1h-2zM5 1h2v1h-2zM0 2h2v1h-2zM5 2h2v1h-2zM0 3h2v1h-2zM5 3h2v1h-2zM0 4h2v1h-2zM5 4h2v1h-2zM0 5h2v1h-2zM5 5h2v1h-2zM1 6h5v1h-5z"/><path id="K77" d="M0 0h3v1h-3zM6 0h3v1h-3zM0 1h4v1h-4zM5 1h4v1h-4zM0 2h4v1h-4zM5 2h4v1h-4zM0 3h4v1h-4zM5 3h4v1h-4zM0 4h2v1h-2zM3 4h3v1h-3zM7 4h2v1h-2zM0 5h2v1h-2zM3 5h3v1h-3zM7 5h2v1h-2zM0 6h2v1h-2zM7 6h2v1h-2z"/><path id="K69" d="M0 0h6v1h-6zM0 1h2v1h-2zM0 2h2v1h-2zM0 3h5v1h-5zM0 4h2v1h-2zM0 5h2v1h-2zM0 6h6v1h-6z"/><path id="K80" d="M0 0h6v1h-6zM0 1h2v1h-2zM5 1h2v1h-2zM0 2h2v1h-2zM5 2h2v1h-2zM0 3h6v1h-6zM0 4h2v1h-2zM0 5h2v1h-2zM0 6h2v1h-2z"/><path id="K76" d="M0 0h2v1h-2zM0 1h2v1h-2zM0 2h2v1h-2zM0 3h2v1h-2zM0 4h2v1h-2zM0 5h2v1h-2zM0 6h5v1h-5z"/><clipPath id="c1"><rect x="0" y="0" width="102" height="421"/></clipPath><clipPath id="c2"><rect x="234" y="0" width="66" height="421"/></clipPath><clipPath id="c3"><rect x="433" y="0" width="82" height="421"/></clipPath></defs><g fill="#000"><use href="#b1" x="119" y="13"/><use href="#b8" x="123" y="13"/><use href="#b1" x="148" y="13"/><use href="#b9" x="152" y="13"/><use href="#b2" x="175" y="13"/><use href="#b0" x="181" y="13"/><use href="#b2" x="206" y="13"/><use href="#b1" x="212" y="13"/><use href="#g2" x="110" y="35"/><use href="#g0" x="115" y="35"/><use href="#g0" x="120" y="35"/><use href="#g0" x="125" y="35"/><use href="#g1" x="141" y="35"/><use href="#g5" x="144" y="35"/><use href="#g8" x="149" y="35"/><use href="#g2" x="154" y="35"/><use href="#g1" x="170" y="35"/><use href="#g4" x="173" y="35"/><use href="#g3" x="178" y="35"/><use href="#g4" x="183" y="35"/><use href="#g1" x="203" y="35"/><use href="#g1" x="206" y="35"/><use href="#g1" x="209" y="35"/><use href="#g4" x="212" y="35"/><use href="#g3" x="114" y="46"/><use href="#g1" x="119" y="46"/><use href="#g1" x="122" y="46"/><use href="#g5" x="125" y="46"/><use href="#g3" x="139" y="46"/><use href="#g6" x="144" y="46"/><use href="#g6" x="149" y="46"/><use href="#g6" x="154" y="46"/><use href="#g3" x="170" y="46"/><use href="#g4" x="175" y="46"/><use href="#g4" x="180" y="46"/><use href="#g1" x="185" y="46"/><use href="#g2" x="197" y="46"/><use href="#g4" x="202" y="46"/><use href="#g4" x="207" y="46"/><use href="#g6" x="212" y="46"/><use href="#g2" x="112" y="57"/><use href="#g7" x="117" y="57"/><use href="#g1" x="122" y="57"/><use href="#g9" x="125" y="57"/><use href="#g2" x="139" y="57"/><use href="#g2" x="144" y="57"/><use href="#g4" x="149" y="57"/><use href="#g2" x="154" y="57"/><use href="#g2" x="168" y="57"/><use href="#g6" x="173" y="57"/><use href="#g2" x="178" y="57"/><use href="#g7" x="183" y="57"/><use href="#g2" x="199" y="57"/><use href="#g8" x="204" y="57"/><use href="#g4" x="209" y="57"/><use href="#g1" x="214" y="57"/><use href="#g1" x="112" y="68"/><use href="#g5" x="115" y="68"/><use href="#g3" x="120" y="68"/><use href="#g4" x="125" y="68"/><use href="#g1" x="141" y="68"/><use href="#g2" x="144" y="68"/><use href="#g3" x="149" y="68"/><use href="#g9" x="154" y="68"/><use href="#g1" x="172" y="68"/><use href="#g1" x="175" y="68"/><use href="#g0" x="178" y="68"/><use href="#g6" x="183" y="68"/><use href="#g1" x="201" y="68"/><use href="#g1" x="204" y="68"/><use href="#g3" x="207" y="68"/><use href="#g2" x="212" y="68"/><use href="#g9" x="115" y="79"/><use href="#g0" x="120" y="79"/><use href="#g2" x="125" y="79"/><use href="#g7" x="144" y="79"/><use href="#g9" x="149" y="79"/><use href="#g6" x="154" y="79"/><use href="#g9" x="175" y="79"/><use href="#g1" x="180" y="79"/><use href="#g2" x="183" y="79"/><use href="#g8" x="202" y="79"/><use href="#g3" x="207" y="79"/><use href="#g7" x="212" y="79"/><use href="#g8" x="110" y="90"/><use href="#g2" x="115" y="90"/><use href="#g9" x="120" y="90"/><use href="#g2" x="125" y="90"/><use href="#g7" x="139" y="90"/><use href="#g7" x="144" y="90"/><use href="#g9" x="149" y="90"/><use href="#g0" x="154" y="90"/><use href="#g9" x="168" y="90"/><use href="#g6" x="173" y="90"/><use href="#g5" x="178" y="90"/><use href="#g8" x="183" y="90"/><use href="#g7" x="197" y="90"/><use href="#g8" x="202" y="90"/><use href="#g0" x="207" y="90"/><use href="#g0" x="212" y="90"/><use href="#g3" x="112" y="101"/><use href="#g1" x="117" y="101"/><use href="#g8" x="120" y="101"/><use href="#g4" x="125" y="101"/><use href="#g3" x="139" y="101"/><use href="#g6" x="144" y="101"/><use href="#g2" x="149" y="101"/><use href="#g8" x="154" y="101"/><use href="#g4" x="170" y="101"/><use href="#g4" x="175" y="101"/><use href="#g1" x="180" y="101"/><use href="#g2" x="183" y="101"/><use href="#g4" x="199" y="101"/><use href="#g0" x="204" y="101"/><use href="#g1" x="209" y="101"/><use href="#g3" x="212" y="101"/><use href="#g3" x="115" y="112"/><use href="#g6" x="120" y="112"/><use href="#g7" x="125" y="112"/><use href="#g2" x="144" y="112"/><use href="#g6" x="149" y="112"/><use href="#g7" x="154" y="112"/><use href="#g3" x="173" y="112"/><use href="#g8" x="178" y="112"/><use href="#g4" x="183" y="112"/><use href="#g2" x="202" y="112"/><use href="#g6" x="207" y="112"/><use href="#g7" x="212" y="112"/><use href="#g3" x="112" y="134"/><use href="#g1" x="117" y="134"/><use href="#g0" x="120" y="134"/><use href="#g9" x="125" y="134"/><use href="#g2" x="139" y="134"/><use href="#g6" x="144" y="134"/><use href="#g5" x="149" y="134"/><use href="#g3" x="154" y="134"/><use href="#g3" x="172" y="134"/><use href="#g1" x="177" y="134"/><use href="#g1" x="180" y="134"/><use href="#g7" x="183" y="134"/><use href="#g2" x="197" y="134"/><use href="#g2" x="202" y="134"/><use href="#g6" x="207" y="134"/><use href="#g3" x="212" y="134"/><use href="#g3" x="110" y="145"/><use href="#g4" x="115" y="145"/><use href="#g8" x="120" y="145"/><use href="#g5" x="125" y="145"/><use href="#g3" x="141" y="145"/><use href="#g1" x="146" y="145"/><use href="#g8" x="149" y="145"/><use href="#g5" x="154" y="145"/><use href="#g3" x="168" y="145"/><use href="#g7" x="173" y="145"/><use href="#g0" x="178" y="145"/><use href="#g5" x="183" y="145"/><use href="#g2" x="199" y="145"/><use href="#g9" x="204" y="145"/><use href="#g0" x="209" y="145"/><use href="#g1" x="214" y="145"/><use href="#g2" x="110" y="156"/><use href="#g8" x="115" y="156"/><use href="#g7" x="120" y="156"/><use href="#g9" x="125" y="156"/><use href="#g2" x="139" y="156"/><use href="#g8" x="144" y="156"/><use href="#g4" x="149" y="156"/><use href="#g7" x="154" y="156"/><use href="#g3" x="168" y="156"/><use href="#g3" x="173" y="156"/><use href="#g6" x="178" y="156"/><use href="#g3" x="183" y="156"/><use href="#g2" x="197" y="156"/><use href="#g6" x="202" y="156"/><use href="#g5" x="207" y="156"/><use href="#g7" x="212" y="156"/><use href="#g3" x="110" y="167"/><use href="#g2" x="115" y="167"/><use href="#g8" x="120" y="167"/><use href="#g8" x="125" y="167"/><use href="#g2" x="139" y="167"/><use href="#g6" x="144" y="167"/><use href="#g7" x="149" y="167"/><use href="#g5" x="154" y="167"/><use href="#g3" x="170" y="167"/><use href="#g6" x="175" y="167"/><use href="#g1" x="180" y="167"/><use href="#g5" x="183" y="167"/><use href="#g3" x="199" y="167"/><use href="#g1" x="204" y="167"/><use href="#g9" x="207" y="167"/><use href="#g7" x="212" y="167"/><use href="#g3" x="110" y="178"/><use href="#g9" x="115" y="178"/><use href="#g7" x="120" y="178"/><use href="#g8" x="125" y="178"/><use href="#g3" x="139" y="178"/><use href="#g6" x="144" y="178"/><use href="#g3" x="149" y="178"/><use href="#g3" x="154" y="178"/><use href="#g4" x="168" y="178"/><use href="#g2" x="173" y="178"/><use href="#g5" x="178" y="178"/><use href="#g3" x="183" y="178"/><use href="#g3" x="199" y="178"/><use href="#g3" x="204" y="178"/><use href="#g6" x="209" y="178"/><use href="#g1" x="214" y="178"/><use href="#g2" x="110" y="189"/><use href="#g6" x="115" y="189"/><use href="#g2" x="120" y="189"/><use href="#g2" x="125" y="189"/><use href="#g2" x="139" y="189"/><use href="#g2" x="144" y="189"/><use href="#g2" x="149" y="189"/><use href="#g6" x="154" y="189"/><use href="#g2" x="168" y="189"/><use href="#g3" x="173" y="189"/><use href="#g6" x="178" y="189"/><use href="#g8" x="183" y="189"/><use href="#g2" x="197" y="189"/><use href="#g0" x="202" y="189"/><use href="#g3" x="207" y="189"/><use href="#g7" x="212" y="189"/><use href="#g5" x="110" y="200"/><use href="#g6" x="115" y="200"/><use href="#g7" x="120" y="200"/><use href="#g7" x="125" y="200"/><use href="#g4" x="141" y="200"/><use href="#g2" x="146" y="200"/><use href="#g6" x="151" y="200"/><use href="#g1" x="156" y="200"/><use href="#g5" x="168" y="200"/><use href="#g2" x="173" y="200"/><use href="#g4" x="178" y="200"/><use href="#g3" x="183" y="200"/><use href="#g4" x="197" y="200"/><use href="#g5" x="202" y="200"/><use href="#g2" x="207" y="200"/><use href="#g8" x="212" y="200"/><use href="#g3" x="110" y="211"/><use href="#g4" x="115" y="211"/><use href="#g0" x="120" y="211"/><use href="#g4" x="125" y="211"/><use href="#g3" x="139" y="211"/><use href="#g7" x="144" y="211"/><use href="#g9" x="149" y="211"/><use href="#g3" x="154" y="211"/><use href="#g3" x="168" y="211"/><use href="#g4" x="173" y="211"/><use href="#g3" x="178" y="211"/><use href="#g0" x="183" y="211"/><use href="#g2" x="197" y="211"/><use href="#g8" x="202" y="211"/><use href="#g8" x="207" y="211"/><use href="#g3" x="212" y="211"/><use href="#g2" x="110" y="222"/><use href="#g7" x="115" y="222"/><use href="#g9" x="120" y="222"/><use href="#g0" x="125" y="222"/><use href="#g2" x="139" y="222"/><use href="#g5" x="144" y="222"/><use href="#g7" x="149" y="222"/><use href="#g2" x="154" y="222"/><use href="#g2" x="168" y="222"/><use href="#g8" x="173" y="222"/><use href="#g2" x="178" y="222"/><use href="#g8" x="183" y="222"/><use href="#g2" x="197" y="222"/><use href="#g3" x="202" y="222"/><use href="#g6" x="207" y="222"/><use href="#g4" x="212" y="222"/><use href="#g4" x="110" y="233"/><use href="#g2" x="115" y="233"/><use href="#g5" x="120" y="233"/><use href="#g2" x="125" y="233"/><use href="#g4" x="141" y="233"/><use href="#g3" x="146" y="233"/><use href="#g1" x="151" y="233"/><use href="#g2" x="154" y="233"/><use href="#g4" x="170" y="233"/><use href="#g5" x="175" y="233"/><use href="#g1" x="180" y="233"/><use href="#g5" x="183" y="233"/><use href="#g3" x="199" y="233"/><use href="#g4" x="204" y="233"/><use href="#g1" x="209" y="233"/><use href="#g5" x="212" y="233"/><use href="#g3" x="112" y="244"/><use href="#g9" x="117" y="244"/><use href="#g1" x="122" y="244"/><use href="#g8" x="125" y="244"/><use href="#g3" x="139" y="244"/><use href="#g2" x="144" y="244"/><use href="#g0" x="149" y="244"/><use href="#g9" x="154" y="244"/><use href="#g3" x="168" y="244"/><use href="#g5" x="173" y="244"/><use href="#g7" x="178" y="244"/><use href="#g6" x="183" y="244"/><use href="#g2" x="197" y="244"/><use href="#g9" x="202" y="244"/><use href="#g3" x="207" y="244"/><use href="#g0" x="212" y="244"/><use href="#g4" x="112" y="255"/><use href="#g9" x="117" y="255"/><use href="#g4" x="122" y="255"/><use href="#g1" x="127" y="255"/><use href="#g5" x="139" y="255"/><use href="#g0" x="144" y="255"/><use href="#g5" x="149" y="255"/><use href="#g9" x="154" y="255"/><use href="#g6" x="168" y="255"/><use href="#g2" x="173" y="255"/><use href="#g0" x="178" y="255"/><use href="#g2" x="183" y="255"/><use href="#g4" x="201" y="255"/><use href="#g3" x="206" y="255"/><use href="#g1" x="211" y="255"/><use href="#g1" x="214" y="255"/><use href="#g4" x="110" y="266"/><use href="#g2" x="115" y="266"/><use href="#g7" x="120" y="266"/><use href="#g9" x="125" y="266"/><use href="#g4" x="141" y="266"/><use href="#g1" x="146" y="266"/><use href="#g8" x="149" y="266"/><use href="#g7" x="154" y="266"/><use href="#g4" x="168" y="266"/><use href="#g4" x="173" y="266"/><use href="#g2" x="178" y="266"/><use href="#g6" x="183" y="266"/><use href="#g3" x="197" y="266"/><use href="#g6" x="202" y="266"/><use href="#g5" x="207" y="266"/><use href="#g9" x="212" y="266"/><use href="#g3" x="110" y="277"/><use href="#g7" x="115" y="277"/><use href="#g8" x="120" y="277"/><use href="#g6" x="125" y="277"/><use href="#g3" x="141" y="277"/><use href="#g4" x="146" y="277"/><use href="#g7" x="151" y="277"/><use href="#g1" x="156" y="277"/><use href="#g4" x="168" y="277"/><use href="#g0" x="173" y="277"/><use href="#g4" x="178" y="277"/><use href="#g5" x="183" y="277"/><use href="#g3" x="197" y="277"/><use href="#g2" x="202" y="277"/><use href="#g3" x="207" y="277"/><use href="#g9" x="212" y="277"/><use href="#g2" x="112" y="288"/><use href="#g9" x="117" y="288"/><use href="#g9" x="122" y="288"/><use href="#g1" x="127" y="288"/><use href="#g2" x="139" y="288"/><use href="#g2" x="144" y="288"/><use href="#g2" x="149" y="288"/><use href="#g8" x="154" y="288"/><use href="#g2" x="168" y="288"/><use href="#g3" x="173" y="288"/><use href="#g5" x="178" y="288"/><use href="#g0" x="183" y="288"/><use href="#g2" x="197" y="288"/><use href="#g4" x="202" y="288"/><use href="#g3" x="207" y="288"/><use href="#g8" x="212" y="288"/><use href="#g2" x="110" y="299"/><use href="#g0" x="115" y="299"/><use href="#g3" x="120" y="299"/><use href="#g9" x="125" y="299"/><use href="#g1" x="141" y="299"/><use href="#g9" x="144" y="299"/><use href="#g5" x="149" y="299"/><use href="#g7" x="154" y="299"/><use href="#g2" x="170" y="299"/><use href="#g1" x="175" y="299"/><use href="#g0" x="178" y="299"/><use href="#g4" x="183" y="299"/><use href="#g1" x="199" y="299"/><use href="#g8" x="202" y="299"/><use href="#g2" x="207" y="299"/><use href="#g7" x="212" y="299"/><use href="#g2" x="110" y="310"/><use href="#g5" x="115" y="310"/><use href="#g3" x="120" y="310"/><use href="#g8" x="125" y="310"/><use href="#g2" x="139" y="310"/><use href="#g4" x="144" y="310"/><use href="#g3" x="149" y="310"/><use href="#g4" x="154" y="310"/><use href="#g2" x="168" y="310"/><use href="#g4" x="173" y="310"/><use href="#g4" x="178" y="310"/><use href="#g0" x="183" y="310"/><use href="#g2" x="197" y="310"/><use href="#g0" x="202" y="310"/><use href="#g4" x="207" y="310"/><use href="#g0" x="212" y="310"/><use href="#g2" x="110" y="321"/><use href="#g2" x="115" y="321"/><use href="#g6" x="120" y="321"/><use href="#g7" x="125" y="321"/><use href="#g2" x="143" y="321"/><use href="#g1" x="148" y="321"/><use href="#g1" x="151" y="321"/><use href="#g5" x="154" y="321"/><use href="#g2" x="168" y="321"/><use href="#g2" x="173" y="321"/><use href="#g3" x="178" y="321"/><use href="#g7" x="183" y="321"/><use href="#g1" x="199" y="321"/><use href="#g9" x="202" y="321"/><use href="#g4" x="207" y="321"/><use href="#g0" x="212" y="321"/><use href="#g2" x="110" y="332"/><use href="#g7" x="115" y="332"/><use href="#g3" x="120" y="332"/><use href="#g5" x="125" y="332"/><use href="#g2" x="139" y="332"/><use href="#g3" x="144" y="332"/><use href="#g5" x="149" y="332"/><use href="#g5" x="154" y="332"/><use href="#g2" x="170" y="332"/><use href="#g7" x="175" y="332"/><use href="#g1" x="180" y="332"/><use href="#g2" x="183" y="332"/><use href="#g2" x="201" y="332"/><use href="#g1" x="206" y="332"/><use href="#g1" x="209" y="332"/><use href="#g0" x="212" y="332"/><use href="#g4" x="110" y="343"/><use href="#g5" x="115" y="343"/><use href="#g0" x="120" y="343"/><use href="#g3" x="125" y="343"/><use href="#g4" x="141" y="343"/><use href="#g1" x="146" y="343"/><use href="#g4" x="149" y="343"/><use href="#g9" x="154" y="343"/><use href="#g4" x="168" y="343"/><use href="#g4" x="173" y="343"/><use href="#g0" x="178" y="343"/><use href="#g0" x="183" y="343"/><use href="#g4" x="199" y="343"/><use href="#g1" x="204" y="343"/><use href="#g7" x="207" y="343"/><use href="#g6" x="212" y="343"/><use href="#g2" x="110" y="354"/><use href="#g8" x="115" y="354"/><use href="#g6" x="120" y="354"/><use href="#g8" x="125" y="354"/><use href="#g2" x="139" y="354"/><use href="#g9" x="144" y="354"/><use href="#g5" x="149" y="354"/><use href="#g8" x="154" y="354"/><use href="#g3" x="168" y="354"/><use href="#g5" x="173" y="354"/><use href="#g0" x="178" y="354"/><use href="#g6" x="183" y="354"/><use href="#g3" x="197" y="354"/><use href="#g2" x="202" y="354"/><use href="#g6" x="207" y="354"/><use href="#g5" x="212" y="354"/><use href="#g2" x="110" y="365"/><use href="#g4" x="115" y="365"/><use href="#g7" x="120" y="365"/><use href="#g7" x="125" y="365"/><use href="#g2" x="139" y="365"/><use href="#g3" x="144" y="365"/><use href="#g8" x="149" y="365"/><use href="#g8" x="154" y="365"/><use href="#g2" x="170" y="365"/><use href="#g9" x="175" y="365"/><use href="#g1" x="180" y="365"/><use href="#g7" x="183" y="365"/><use href="#g2" x="197" y="365"/><use href="#g5" x="202" y="365"/><use href="#g2" x="207" y="365"/><use href="#g0" x="212" y="365"/><use href="#g3" x="110" y="376"/><use href="#g0" x="115" y="376"/><use href="#g8" x="120" y="376"/><use href="#g6" x="125" y="376"/><use href="#g2" x="139" y="376"/><use href="#g4" x="144" y="376"/><use href="#g7" x="149" y="376"/><use href="#g4" x="154" y="376"/><use href="#g2" x="168" y="376"/><use href="#g5" x="173" y="376"/><use href="#g8" x="178" y="376"/><use href="#g5" x="183" y="376"/><use href="#g2" x="197" y="376"/><use href="#g4" x="202" y="376"/><use href="#g5" x="207" y="376"/><use href="#g2" x="212" y="376"/><use href="#g2" x="112" y="387"/><use href="#g8" x="117" y="387"/><use href="#g3" x="122" y="387"/><use href="#g1" x="127" y="387"/><use href="#g3" x="139" y="387"/><use href="#g0" x="144" y="387"/><use href="#g6" x="149" y="387"/><use href="#g5" x="154" y="387"/><use href="#g3" x="168" y="387"/><use href="#g5" x="173" y="387"/><use href="#g5" x="178" y="387"/><use href="#g9" x="183" y="387"/><use href="#g2" x="197" y="387"/><use href="#g8" x="202" y="387"/><use href="#g9" x="207" y="387"/><use href="#g8" x="212" y="387"/><use href="#g2" x="110" y="398"/><use href="#g4" x="115" y="398"/><use href="#g6" x="120" y="398"/><use href="#g2" x="125" y="398"/><use href="#g2" x="143" y="398"/><use href="#g1" x="148" y="398"/><use href="#g1" x="151" y="398"/><use href="#g3" x="154" y="398"/><use href="#g2" x="168" y="398"/><use href="#g9" x="173" y="398"/><use href="#g8" x="178" y="398"/><use href="#g2" x="183" y="398"/><use href="#g2" x="197" y="398"/><use href="#g6" x="202" y="398"/><use href="#g0" x="207" y="398"/><use href="#g8" x="212" y="398"/><use href="#g3" x="110" y="409"/><use href="#g2" x="115" y="409"/><use href="#g3" x="120" y="409"/><use href="#g5" x="125" y="409"/><use href="#g3" x="139" y="409"/><use href="#g0" x="144" y="409"/><use href="#g6" x="149" y="409"/><use href="#g6" x="154" y="409"/><use href="#g3" x="168" y="409"/><use href="#g2" x="173" y="409"/><use href="#g9" x="178" y="409"/><use href="#g5" x="183" y="409"/><use href="#g2" x="197" y="409"/><use href="#g9" x="202" y="409"/><use href="#g2" x="207" y="409"/><use href="#g8" x="212" y="409"/><use href="#b1" x="317" y="13"/><use href="#b8" x="321" y="13"/><use href="#b1" x="346" y="13"/><use href="#b9" x="350" y="13"/><use href="#b2" x="373" y="13"/><use href="#b0" x="379" y="13"/><use href="#b2" x="404" y="13"/><use href="#b1" x="410" y="13"/><use href="#g2" x="308" y="24"/><use href="#g6" x="313" y="24"/><use href="#g7" x="318" y="24"/><use href="#g8" x="323" y="24"/><use href="#g2" x="337" y="24"/><use href="#g4" x="342" y="24"/><use href="#g8" x="347" y="24"/><use href="#g0" x="352" y="24"/><use href="#g2" x="366" y="24"/><use href="#g6" x="371" y="24"/><use href="#g6" x="376" y="24"/><use href="#g4" x="381" y="24"/><use href="#g2" x="395" y="24"/><use href="#g2" x="400" y="24"/><use href="#g7" x="405" y="24"/><use href="#g8" x="410" y="24"/><use href="#g3" x="308" y="35"/><use href="#g5" x="313" y="35"/><use href="#g4" x="318" y="35"/><use href="#g6" x="323" y="35"/><use href="#g3" x="337" y="35"/><use href="#g4" x="342" y="35"/><use href="#g8" x="347" y="35"/><use href="#g9" x="352" y="35"/><use href="#g3" x="366" y="35"/><use href="#g7" x="371" y="35"/><use href="#g5" x="376" y="35"/><use href="#g2" x="381" y="35"/><use href="#g2" x="395" y="35"/><use href="#g9" x="400" y="35"/><use href="#g7" x="405" y="35"/><use href="#g8" x="410" y="35"/><use href="#g2" x="308" y="46"/><use href="#g8" x="313" y="46"/><use href="#g2" x="318" y="46"/><use href="#g0" x="323" y="46"/><use href="#g2" x="337" y="46"/><use href="#g7" x="342" y="46"/><use href="#g5" x="347" y="46"/><use href="#g6" x="352" y="46"/><use href="#g3" x="366" y="46"/><use href="#g5" x="371" y="46"/><use href="#g0" x="376" y="46"/><use href="#g3" x="381" y="46"/><use href="#g2" x="395" y="46"/><use href="#g9" x="400" y="46"/><use href="#g0" x="405" y="46"/><use href="#g3" x="410" y="46"/><use href="#g2" x="308" y="57"/><use href="#g5" x="313" y="57"/><use href="#g5" x="318" y="57"/><use href="#g2" x="323" y="57"/><use href="#g2" x="337" y="57"/><use href="#g5" x="342" y="57"/><use href="#g0" x="347" y="57"/><use href="#g8" x="352" y="57"/><use href="#g3" x="366" y="57"/><use href="#g0" x="371" y="57"/><use href="#g3" x="376" y="57"/><use href="#g5" x="381" y="57"/><use href="#g2" x="395" y="57"/><use href="#g5" x="400" y="57"/><use href="#g8" x="405" y="57"/><use href="#g4" x="410" y="57"/><use href="#g2" x="310" y="68"/><use href="#g1" x="315" y="68"/><use href="#g9" x="318" y="68"/><use href="#g0" x="323" y="68"/><use href="#g2" x="337" y="68"/><use href="#g2" x="342" y="68"/><use href="#g9" x="347" y="68"/><use href="#g8" x="352" y="68"/><use href="#g2" x="368" y="68"/><use href="#g7" x="373" y="68"/><use href="#g0" x="378" y="68"/><use href="#g1" x="383" y="68"/><use href="#g2" x="397" y="68"/><use href="#g4" x="402" y="68"/><use href="#g1" x="407" y="68"/><use href="#g4" x="410" y="68"/><use href="#g3" x="310" y="79"/><use href="#g1" x="315" y="79"/><use href="#g4" x="318" y="79"/><use href="#g3" x="323" y="79"/><use href="#g2" x="337" y="79"/><use href="#g8" x="342" y="79"/><use href="#g3" x="347" y="79"/><use href="#g7" x="352" y="79"/><use href="#g3" x="368" y="79"/><use href="#g0" x="373" y="79"/><use href="#g6" x="378" y="79"/><use href="#g1" x="383" y="79"/><use href="#g2" x="395" y="79"/><use href="#g5" x="400" y="79"/><use href="#g0" x="405" y="79"/><use href="#g5" x="410" y="79"/><use href="#g2" x="310" y="90"/><use href="#g4" x="315" y="90"/><use href="#g7" x="320" y="90"/><use href="#g1" x="325" y="90"/><use href="#g2" x="339" y="90"/><use href="#g4" x="344" y="90"/><use href="#g1" x="349" y="90"/><use href="#g2" x="352" y="90"/><use href="#g2" x="366" y="90"/><use href="#g8" x="371" y="90"/><use href="#g0" x="376" y="90"/><use href="#g8" x="381" y="90"/><use href="#g2" x="395" y="90"/><use href="#g0" x="400" y="90"/><use href="#g9" x="405" y="90"/><use href="#g9" x="410" y="90"/><use href="#g2" x="308" y="101"/><use href="#g9" x="313" y="101"/><use href="#g7" x="318" y="101"/><use href="#g6" x="323" y="101"/><use href="#g2" x="337" y="101"/><use href="#g9" x="342" y="101"/><use href="#g4" x="347" y="101"/><use href="#g4" x="352" y="101"/><use href="#g3" x="366" y="101"/><use href="#g4" x="371" y="101"/><use href="#g3" x="376" y="101"/><use href="#g5" x="381" y="101"/><use href="#g3" x="397" y="101"/><use href="#g0" x="402" y="101"/><use href="#g1" x="407" y="101"/><use href="#g5" x="410" y="101"/><use href="#g4" x="308" y="112"/><use href="#g2" x="313" y="112"/><use href="#g3" x="318" y="112"/><use href="#g6" x="323" y="112"/><use href="#g4" x="337" y="112"/><use href="#g2" x="342" y="112"/><use href="#g2" x="347" y="112"/><use href="#g0" x="352" y="112"/><use href="#g4" x="366" y="112"/><use href="#g3" x="371" y="112"/><use href="#g7" x="376" y="112"/><use href="#g9" x="381" y="112"/><use href="#g3" x="395" y="112"/><use href="#g8" x="400" y="112"/><use href="#g6" x="405" y="112"/><use href="#g9" x="410" y="112"/><use href="#g3" x="308" y="123"/><use href="#g6" x="313" y="123"/><use href="#g8" x="318" y="123"/><use href="#g0" x="323" y="123"/><use href="#g3" x="337" y="123"/><use href="#g9" x="342" y="123"/><use href="#g0" x="347" y="123"/><use href="#g3" x="352" y="123"/><use href="#g4" x="368" y="123"/><use href="#g1" x="373" y="123"/><use href="#g6" x="376" y="123"/><use href="#g3" x="381" y="123"/><use href="#g3" x="395" y="123"/><use href="#g2" x="400" y="123"/><use href="#g9" x="405" y="123"/><use href="#g7" x="410" y="123"/><use href="#g3" x="308" y="134"/><use href="#g7" x="313" y="134"/><use href="#g8" x="318" y="134"/><use href="#g0" x="323" y="134"/><use href="#g3" x="339" y="134"/><use href="#g1" x="344" y="134"/><use href="#g9" x="347" y="134"/><use href="#g3" x="352" y="134"/><use href="#g3" x="366" y="134"/><use href="#g0" x="371" y="134"/><use href="#g8" x="376" y="134"/><use href="#g4" x="381" y="134"/><use href="#g2" x="395" y="134"/><use href="#g7" x="400" y="134"/><use href="#g8" x="405" y="134"/><use href="#g4" x="410" y="134"/><use href="#g3" x="308" y="145"/><use href="#g4" x="313" y="145"/><use href="#g7" x="318" y="145"/><use href="#g9" x="323" y="145"/><use href="#g3" x="337" y="145"/><use href="#g0" x="342" y="145"/><use href="#g3" x="347" y="145"/><use href="#g0" x="352" y="145"/><use href="#g3" x="368" y="145"/><use href="#g1" x="373" y="145"/><use href="#g6" x="376" y="145"/><use href="#g6" x="381" y="145"/><use href="#g2" x="395" y="145"/><use href="#g6" x="400" y="145"/><use href="#g2" x="405" y="145"/><use href="#g8" x="410" y="145"/><use href="#g2" x="308" y="156"/><use href="#g7" x="313" y="156"/><use href="#g3" x="318" y="156"/><use href="#g6" x="323" y="156"/><use href="#g2" x="337" y="156"/><use href="#g4" x="342" y="156"/><use href="#g7" x="347" y="156"/><use href="#g9" x="352" y="156"/><use href="#g3" x="366" y="156"/><use href="#g2" x="371" y="156"/><use href="#g0" x="376" y="156"/><use href="#g5" x="381" y="156"/><use href="#g2" x="395" y="156"/><use href="#g6" x="400" y="156"/><use href="#g9" x="405" y="156"/><use href="#g8" x="410" y="156"/><use href="#g2" x="308" y="167"/><use href="#g8" x="313" y="167"/><use href="#g8" x="318" y="167"/><use href="#g7" x="323" y="167"/><use href="#g2" x="337" y="167"/><use href="#g7" x="342" y="167"/><use href="#g6" x="347" y="167"/><use href="#g5" x="352" y="167"/><use href="#g3" x="366" y="167"/><use href="#g4" x="371" y="167"/><use href="#g7" x="376" y="167"/><use href="#g6" x="381" y="167"/><use href="#g2" x="395" y="167"/><use href="#g5" x="400" y="167"/><use href="#g5" x="405" y="167"/><use href="#g8" x="410" y="167"/><use href="#g2" x="310" y="178"/><use href="#g6" x="315" y="178"/><use href="#g1" x="320" y="178"/><use href="#g0" x="323" y="178"/><use href="#g2" x="337" y="178"/><use href="#g7" x="342" y="178"/><use href="#g8" x="347" y="178"/><use href="#g8" x="352" y="178"/><use href="#g3" x="368" y="178"/><use href="#g1" x="373" y="178"/><use href="#g0" x="376" y="178"/><use href="#g0" x="381" y="178"/><use href="#g2" x="395" y="178"/><use href="#g5" x="400" y="178"/><use href="#g3" x="405" y="178"/><use href="#g8" x="410" y="178"/><use href="#g3" x="310" y="189"/><use href="#g1" x="315" y="189"/><use href="#g0" x="318" y="189"/><use href="#g0" x="323" y="189"/><use href="#g2" x="337" y="189"/><use href="#g7" x="342" y="189"/><use href="#g4" x="347" y="189"/><use href="#g6" x="352" y="189"/><use href="#g3" x="366" y="189"/><use href="#g3" x="371" y="189"/><use href="#g4" x="376" y="189"/><use href="#g3" x="381" y="189"/><use href="#g2" x="397" y="189"/><use href="#g9" x="402" y="189"/><use href="#g1" x="407" y="189"/><use href="#g8" x="410" y="189"/><use href="#g3" x="310" y="200"/><use href="#g1" x="315" y="200"/><use href="#g5" x="318" y="200"/><use href="#g4" x="323" y="200"/><use href="#g2" x="337" y="200"/><use href="#g6" x="342" y="200"/><use href="#g0" x="347" y="200"/><use href="#g6" x="352" y="200"/><use href="#g2" x="366" y="200"/><use href="#g4" x="371" y="200"/><use href="#g6" x="376" y="200"/><use href="#g8" x="381" y="200"/><use href="#g2" x="397" y="200"/><use href="#g0" x="402" y="200"/><use href="#g0" x="407" y="200"/><use href="#g1" x="412" y="200"/><use href="#g3" x="308" y="211"/><use href="#g9" x="313" y="211"/><use href="#g7" x="318" y="211"/><use href="#g0" x="323" y="211"/><use href="#g4" x="337" y="211"/><use href="#g0" x="342" y="211"/><use href="#g5" x="347" y="211"/><use href="#g0" x="352" y="211"/><use href="#g4" x="366" y="211"/><use href="#g6" x="371" y="211"/><use href="#g5" x="376" y="211"/><use href="#g8" x="381" y="211"/><use href="#g3" x="395" y="211"/><use href="#g5" x="400" y="211"/><use href="#g6" x="405" y="211"/><use href="#g2" x="410" y="211"/><use href="#g4" x="310" y="222"/><use href="#g2" x="315" y="222"/><use href="#g8" x="320" y="222"/><use href="#g1" x="325" y="222"/><use href="#g4" x="337" y="222"/><use href="#g6" x="342" y="222"/><use href="#g7" x="347" y="222"/><use href="#g7" x="352" y="222"/><use href="#g4" x="366" y="222"/><use href="#g6" x="371" y="222"/><use href="#g0" x="376" y="222"/><use href="#g2" x="381" y="222"/><use href="#g3" x="395" y="222"/><use href="#g7" x="400" y="222"/><use href="#g8" x="405" y="222"/><use href="#g9" x="410" y="222"/><use href="#g3" x="308" y="233"/><use href="#g3" x="313" y="233"/><use href="#g3" x="318" y="233"/><use href="#g5" x="323" y="233"/><use href="#g3" x="337" y="233"/><use href="#g3" x="342" y="233"/><use href="#g0" x="347" y="233"/><use href="#g4" x="352" y="233"/><use href="#g3" x="366" y="233"/><use href="#g5" x="371" y="233"/><use href="#g7" x="376" y="233"/><use href="#g9" x="381" y="233"/><use href="#g2" x="397" y="233"/><use href="#g9" x="402" y="233"/><use href="#g1" x="407" y="233"/><use href="#g6" x="410" y="233"/><use href="#g2" x="308" y="244"/><use href="#g9" x="313" y="244"/><use href="#g5" x="318" y="244"/><use href="#g4" x="323" y="244"/><use href="#g3" x="339" y="244"/><use href="#g1" x="344" y="244"/><use href="#g5" x="347" y="244"/><use href="#g9" x="352" y="244"/><use href="#g3" x="366" y="244"/><use href="#g5" x="371" y="244"/><use href="#g7" x="376" y="244"/><use href="#g4" x="381" y="244"/><use href="#g2" x="395" y="244"/><use href="#g7" x="400" y="244"/><use href="#g9" x="405" y="244"/><use href="#g2" x="410" y="244"/><use href="#g2" x="308" y="255"/><use href="#g6" x="313" y="255"/><use href="#g9" x="318" y="255"/><use href="#g6" x="323" y="255"/><use href="#g2" x="337" y="255"/><use href="#g5" x="342" y="255"/><use href="#g7" x="347" y="255"/><use href="#g5" x="352" y="255"/><use href="#g2" x="368" y="255"/><use href="#g5" x="373" y="255"/><use href="#g1" x="378" y="255"/><use href="#g8" x="381" y="255"/><use href="#g2" x="395" y="255"/><use href="#g0" x="400" y="255"/><use href="#g8" x="405" y="255"/><use href="#g4" x="410" y="255"/><use href="#g2" x="310" y="266"/><use href="#g8" x="315" y="266"/><use href="#g1" x="320" y="266"/><use href="#g2" x="323" y="266"/><use href="#g2" x="337" y="266"/><use href="#g7" x="342" y="266"/><use href="#g0" x="347" y="266"/><use href="#g4" x="352" y="266"/><use href="#g2" x="368" y="266"/><use href="#g7" x="373" y="266"/><use href="#g3" x="378" y="266"/><use href="#g1" x="383" y="266"/><use href="#g2" x="395" y="266"/><use href="#g3" x="400" y="266"/><use href="#g5" x="405" y="266"/><use href="#g5" x="410" y="266"/><use href="#g2" x="308" y="277"/><use href="#g5" x="313" y="277"/><use href="#g0" x="318" y="277"/><use href="#g9" x="323" y="277"/><use href="#g2" x="337" y="277"/><use href="#g4" x="342" y="277"/><use href="#g3" x="347" y="277"/><use href="#g7" x="352" y="277"/><use href="#g2" x="366" y="277"/><use href="#g7" x="371" y="277"/><use href="#g8" x="376" y="277"/><use href="#g3" x="381" y="277"/><use href="#g2" x="395" y="277"/><use href="#g2" x="400" y="277"/><use href="#g2" x="405" y="277"/><use href="#g8" x="410" y="277"/><use href="#g2" x="308" y="288"/><use href="#g5" x="313" y="288"/><use href="#g5" x="318" y="288"/><use href="#g9" x="323" y="288"/><use href="#g2" x="337" y="288"/><use href="#g4" x="342" y="288"/><use href="#g8" x="347" y="288"/><use href="#g7" x="352" y="288"/><use href="#g2" x="366" y="288"/><use href="#g9" x="371" y="288"/><use href="#g0" x="376" y="288"/><use href="#g5" x="381" y="288"/><use href="#g2" x="395" y="288"/><use href="#g3" x="400" y="288"/><use href="#g5" x="405" y="288"/><use href="#g9" x="410" y="288"/><use href="#g2" x="310" y="299"/><use href="#g7" x="315" y="299"/><use href="#g1" x="320" y="299"/><use href="#g9" x="323" y="299"/><use href="#g2" x="337" y="299"/><use href="#g2" x="342" y="299"/><use href="#g4" x="347" y="299"/><use href="#g2" x="352" y="299"/><use href="#g2" x="366" y="299"/><use href="#g6" x="371" y="299"/><use href="#g2" x="376" y="299"/><use href="#g7" x="381" y="299"/><use href="#g2" x="397" y="299"/><use href="#g8" x="402" y="299"/><use href="#g4" x="407" y="299"/><use href="#g1" x="412" y="299"/><use href="#g2" x="308" y="310"/><use href="#g9" x="313" y="310"/><use href="#g5" x="318" y="310"/><use href="#g0" x="323" y="310"/><use href="#g2" x="337" y="310"/><use href="#g8" x="342" y="310"/><use href="#g2" x="347" y="310"/><use href="#g0" x="352" y="310"/><use href="#g3" x="370" y="310"/><use href="#g1" x="375" y="310"/><use href="#g8" x="378" y="310"/><use href="#g1" x="383" y="310"/><use href="#g2" x="397" y="310"/><use href="#g7" x="402" y="310"/><use href="#g1" x="407" y="310"/><use href="#g9" x="410" y="310"/><use href="#g3" x="310" y="321"/><use href="#g4" x="315" y="321"/><use href="#g6" x="320" y="321"/><use href="#g1" x="325" y="321"/><use href="#g3" x="337" y="321"/><use href="#g0" x="342" y="321"/><use href="#g7" x="347" y="321"/><use href="#g9" x="352" y="321"/><use href="#g3" x="366" y="321"/><use href="#g5" x="371" y="321"/><use href="#g9" x="376" y="321"/><use href="#g8" x="381" y="321"/><use href="#g3" x="399" y="321"/><use href="#g1" x="404" y="321"/><use href="#g1" x="407" y="321"/><use href="#g8" x="410" y="321"/><use href="#g2" x="308" y="332"/><use href="#g8" x="313" y="332"/><use href="#g6" x="318" y="332"/><use href="#g5" x="323" y="332"/><use href="#g3" x="341" y="332"/><use href="#g1" x="346" y="332"/><use href="#g3" x="349" y="332"/><use href="#g1" x="354" y="332"/><use href="#g3" x="366" y="332"/><use href="#g4" x="371" y="332"/><use href="#g2" x="376" y="332"/><use href="#g8" x="381" y="332"/><use href="#g2" x="395" y="332"/><use href="#g9" x="400" y="332"/><use href="#g4" x="405" y="332"/><use href="#g9" x="410" y="332"/><use href="#g2" x="308" y="343"/><use href="#g9" x="313" y="343"/><use href="#g5" x="318" y="343"/><use href="#g3" x="323" y="343"/><use href="#g3" x="337" y="343"/><use href="#g0" x="342" y="343"/><use href="#g6" x="347" y="343"/><use href="#g3" x="352" y="343"/><use href="#g3" x="368" y="343"/><use href="#g3" x="373" y="343"/><use href="#g1" x="378" y="343"/><use href="#g3" x="381" y="343"/><use href="#g2" x="395" y="343"/><use href="#g8" x="400" y="343"/><use href="#g9" x="405" y="343"/><use href="#g0" x="410" y="343"/><use href="#g2" x="308" y="354"/><use href="#g6" x="313" y="354"/><use href="#g5" x="318" y="354"/><use href="#g8" x="323" y="354"/><use href="#g2" x="339" y="354"/><use href="#g7" x="344" y="354"/><use href="#g1" x="349" y="354"/><use href="#g0" x="352" y="354"/><use href="#g2" x="366" y="354"/><use href="#g4" x="371" y="354"/><use href="#g4" x="376" y="354"/><use href="#g3" x="381" y="354"/><use href="#g2" x="395" y="354"/><use href="#g0" x="400" y="354"/><use href="#g4" x="405" y="354"/><use href="#g5" x="410" y="354"/><use href="#g2" x="308" y="365"/><use href="#g3" x="313" y="365"/><use href="#g6" x="318" y="365"/><use href="#g9" x="323" y="365"/><use href="#g2" x="339" y="365"/><use href="#g2" x="344" y="365"/><use href="#g1" x="349" y="365"/><use href="#g9" x="352" y="365"/><use href="#g2" x="366" y="365"/><use href="#g5" x="371" y="365"/><use href="#g5" x="376" y="365"/><use href="#g8" x="381" y="365"/><use href="#g2" x="399" y="365"/><use href="#g5" x="404" y="365"/><use href="#g1" x="409" y="365"/><use href="#g1" x="412" y="365"/><use href="#g2" x="308" y="376"/><use href="#g9" x="313" y="376"/><use href="#g5" x="318" y="376"/><use href="#g2" x="323" y="376"/><use href="#g2" x="337" y="376"/><use href="#g7" x="342" y="376"/><use href="#g5" x="347" y="376"/><use href="#g6" x="352" y="376"/><use href="#g2" x="366" y="376"/><use href="#g9" x="371" y="376"/><use href="#g8" x="376" y="376"/><use href="#g3" x="381" y="376"/><use href="#g2" x="397" y="376"/><use href="#g6" x="402" y="376"/><use href="#g1" x="407" y="376"/><use href="#g9" x="410" y="376"/><use href="#g3" x="310" y="387"/><use href="#g0" x="315" y="387"/><use href="#g4" x="320" y="387"/><use href="#g1" x="325" y="387"/><use href="#g2" x="337" y="387"/><use href="#g8" x="342" y="387"/><use href="#g8" x="347" y="387"/><use href="#g4" x="352" y="387"/><use href="#g2" x="366" y="387"/><use href="#g7" x="371" y="387"/><use href="#g6" x="376" y="387"/><use href="#g7" x="381" y="387"/><use href="#g2" x="395" y="387"/><use href="#g0" x="400" y="387"/><use href="#g6" x="405" y="387"/><use href="#g6" x="410" y="387"/><use href="#g2" x="308" y="398"/><use href="#g5" x="313" y="398"/><use href="#g9" x="318" y="398"/><use href="#g2" x="323" y="398"/><use href="#g2" x="337" y="398"/><use href="#g6" x="342" y="398"/><use href="#g2" x="347" y="398"/><use href="#g7" x="352" y="398"/><use href="#g3" x="368" y="398"/><use href="#g1" x="373" y="398"/><use href="#g3" x="376" y="398"/><use href="#g4" x="381" y="398"/><use href="#g2" x="395" y="398"/><use href="#g6" x="400" y="398"/><use href="#g8" x="405" y="398"/><use href="#g3" x="410" y="398"/><use href="#g3" x="310" y="409"/><use href="#g1" x="315" y="409"/><use href="#g2" x="318" y="409"/><use href="#g3" x="323" y="409"/><use href="#g2" x="337" y="409"/><use href="#g9" x="342" y="409"/><use href="#g6" x="347" y="409"/><use href="#g3" x="352" y="409"/><use href="#g3" x="368" y="409"/><use href="#g3" x="373" y="409"/><use href="#g1" x="378" y="409"/><use href="#g4" x="381" y="409"/><use href="#g2" x="395" y="409"/><use href="#g6" x="400" y="409"/><use href="#g7" x="405" y="409"/><use href="#g8" x="410" y="409"/><use href="#b1" x="532" y="13"/><use href="#b8" x="536" y="13"/><use href="#b1" x="561" y="13"/><use href="#b9" x="565" y="13"/><use href="#b2" x="588" y="13"/><use href="#b0" x="594" y="13"/><use href="#b2" x="619" y="13"/><use href="#b1" x="625" y="13"/><use href="#g2" x="523" y="24"/><use href="#g9" x="528" y="24"/><use href="#g2" x="533" y="24"/><use href="#g9" x="538" y="24"/><use href="#g2" x="552" y="24"/><use href="#g8" x="557" y="24"/><use href="#g8" x="562" y="24"/><use href="#g3" x="567" y="24"/><use href="#g3" x="581" y="24"/><use href="#g5" x="586" y="24"/><use href="#g4" x="591" y="24"/><use href="#g8" x="596" y="24"/><use href="#g2" x="610" y="24"/><use href="#g7" x="615" y="24"/><use href="#g4" x="620" y="24"/><use href="#g3" x="625" y="24"/><use href="#g3" x="525" y="35"/><use href="#g3" x="530" y="35"/><use href="#g6" x="535" y="35"/><use href="#g1" x="540" y="35"/><use href="#g2" x="552" y="35"/><use href="#g9" x="557" y="35"/><use href="#g6" x="562" y="35"/><use href="#g0" x="567" y="35"/><use href="#g3" x="581" y="35"/><use href="#g2" x="586" y="35"/><use href="#g4" x="591" y="35"/><use href="#g5" x="596" y="35"/><use href="#g3" x="610" y="35"/><use href="#g2" x="615" y="35"/><use href="#g8" x="620" y="35"/><use href="#g7" x="625" y="35"/><use href="#g4" x="523" y="46"/><use href="#g0" x="528" y="46"/><use href="#g2" x="533" y="46"/><use href="#g0" x="538" y="46"/><use href="#g3" x="552" y="46"/><use href="#g6" x="557" y="46"/><use href="#g5" x="562" y="46"/><use href="#g0" x="567" y="46"/><use href="#g3" x="583" y="46"/><use href="#g8" x="588" y="46"/><use href="#g1" x="593" y="46"/><use href="#g2" x="596" y="46"/><use href="#g3" x="612" y="46"/><use href="#g2" x="617" y="46"/><use href="#g8" x="622" y="46"/><use href="#g1" x="627" y="46"/><use href="#g3" x="523" y="57"/><use href="#g0" x="528" y="57"/><use href="#g4" x="533" y="57"/><use href="#g3" x="538" y="57"/><use href="#g2" x="552" y="57"/><use href="#g3" x="557" y="57"/><use href="#g9" x="562" y="57"/><use href="#g8" x="567" y="57"/><use href="#g3" x="585" y="57"/><use href="#g1" x="590" y="57"/><use href="#g9" x="593" y="57"/><use href="#g1" x="598" y="57"/><use href="#g2" x="610" y="57"/><use href="#g4" x="615" y="57"/><use href="#g6" x="620" y="57"/><use href="#g8" x="625" y="57"/><use href="#g2" x="523" y="68"/><use href="#g7" x="528" y="68"/><use href="#g0" x="533" y="68"/><use href="#g6" x="538" y="68"/><use href="#g2" x="552" y="68"/><use href="#g8" x="557" y="68"/><use href="#g6" x="562" y="68"/><use href="#g4" x="567" y="68"/><use href="#g2" x="583" y="68"/><use href="#g8" x="588" y="68"/><use href="#g9" x="593" y="68"/><use href="#g1" x="598" y="68"/><use href="#g2" x="610" y="68"/><use href="#g4" x="615" y="68"/><use href="#g6" x="620" y="68"/><use href="#g8" x="625" y="68"/><use href="#g4" x="525" y="79"/><use href="#g8" x="530" y="79"/><use href="#g4" x="535" y="79"/><use href="#g1" x="540" y="79"/><use href="#g3" x="552" y="79"/><use href="#g8" x="557" y="79"/><use href="#g4" x="562" y="79"/><use href="#g2" x="567" y="79"/><use href="#g4" x="583" y="79"/><use href="#g1" x="588" y="79"/><use href="#g0" x="591" y="79"/><use href="#g6" x="596" y="79"/><use href="#g3" x="610" y="79"/><use href="#g4" x="615" y="79"/><use href="#g0" x="620" y="79"/><use href="#g9" x="625" y="79"/><use href="#g2" x="523" y="90"/><use href="#g9" x="528" y="90"/><use href="#g5" x="533" y="90"/><use href="#g3" x="538" y="90"/><use href="#g2" x="552" y="90"/><use href="#g4" x="557" y="90"/><use href="#g4" x="562" y="90"/><use href="#g3" x="567" y="90"/><use href="#g2" x="581" y="90"/><use href="#g3" x="586" y="90"/><use href="#g3" x="591" y="90"/><use href="#g2" x="596" y="90"/><use href="#g1" x="614" y="90"/><use href="#g9" x="617" y="90"/><use href="#g0" x="622" y="90"/><use href="#g1" x="627" y="90"/><use href="#g4" x="525" y="101"/><use href="#g1" x="530" y="101"/><use href="#g4" x="533" y="101"/><use href="#g4" x="538" y="101"/><use href="#g3" x="552" y="101"/><use href="#g8" x="557" y="101"/><use href="#g9" x="562" y="101"/><use href="#g5" x="567" y="101"/><use href="#g4" x="585" y="101"/><use href="#g1" x="590" y="101"/><use href="#g1" x="593" y="101"/><use href="#g4" x="596" y="101"/><use href="#g3" x="610" y="101"/><use href="#g4" x="615" y="101"/><use href="#g0" x="620" y="101"/><use href="#g0" x="625" y="101"/><use href="#g3" x="523" y="112"/><use href="#g5" x="528" y="112"/><use href="#g2" x="533" y="112"/><use href="#g0" x="538" y="112"/><use href="#g3" x="552" y="112"/><use href="#g5" x="557" y="112"/><use href="#g0" x="562" y="112"/><use href="#g7" x="567" y="112"/><use href="#g4" x="583" y="112"/><use href="#g0" x="588" y="112"/><use href="#g0" x="593" y="112"/><use href="#g1" x="598" y="112"/><use href="#g3" x="610" y="112"/><use href="#g2" x="615" y="112"/><use href="#g2" x="620" y="112"/><use href="#g7" x="625" y="112"/><use href="#g3" x="525" y="123"/><use href="#g1" x="530" y="123"/><use href="#g4" x="533" y="123"/><use href="#g5" x="538" y="123"/><use href="#g3" x="552" y="123"/><use href="#g0" x="557" y="123"/><use href="#g4" x="562" y="123"/><use href="#g7" x="567" y="123"/><use href="#g3" x="581" y="123"/><use href="#g6" x="586" y="123"/><use href="#g9" x="591" y="123"/><use href="#g8" x="596" y="123"/><use href="#g3" x="610" y="123"/><use href="#g4" x="615" y="123"/><use href="#g3" x="620" y="123"/><use href="#g7" x="625" y="123"/><use href="#g6" x="525" y="134"/><use href="#g1" x="530" y="134"/><use href="#g7" x="533" y="134"/><use href="#g2" x="538" y="134"/><use href="#g6" x="554" y="134"/><use href="#g7" x="559" y="134"/><use href="#g1" x="564" y="134"/><use href="#g4" x="567" y="134"/><use href="#g6" x="581" y="134"/><use href="#g5" x="586" y="134"/><use href="#g0" x="591" y="134"/><use href="#g6" x="596" y="134"/><use href="#g5" x="610" y="134"/><use href="#g8" x="615" y="134"/><use href="#g4" x="620" y="134"/><use href="#g7" x="625" y="134"/><use href="#g3" x="525" y="145"/><use href="#g5" x="530" y="145"/><use href="#g1" x="535" y="145"/><use href="#g0" x="538" y="145"/><use href="#g3" x="552" y="145"/><use href="#g2" x="557" y="145"/><use href="#g6" x="562" y="145"/><use href="#g9" x="567" y="145"/><use href="#g3" x="585" y="145"/><use href="#g6" x="590" y="145"/><use href="#g1" x="595" y="145"/><use href="#g1" x="598" y="145"/><use href="#g3" x="610" y="145"/><use href="#g0" x="615" y="145"/><use href="#g6" x="620" y="145"/><use href="#g0" x="625" y="145"/><use href="#g3" x="525" y="156"/><use href="#g2" x="530" y="156"/><use href="#g7" x="535" y="156"/><use href="#g1" x="540" y="156"/><use href="#g2" x="554" y="156"/><use href="#g9" x="559" y="156"/><use href="#g8" x="564" y="156"/><use href="#g1" x="569" y="156"/><use href="#g3" x="581" y="156"/><use href="#g4" x="586" y="156"/><use href="#g2" x="591" y="156"/><use href="#g2" x="596" y="156"/><use href="#g2" x="610" y="156"/><use href="#g8" x="615" y="156"/><use href="#g3" x="620" y="156"/><use href="#g5" x="625" y="156"/><use href="#g3" x="525" y="167"/><use href="#g3" x="530" y="167"/><use href="#g1" x="535" y="167"/><use href="#g8" x="538" y="167"/><use href="#g3" x="552" y="167"/><use href="#g5" x="557" y="167"/><use href="#g2" x="562" y="167"/><use href="#g5" x="567" y="167"/><use href="#g3" x="581" y="167"/><use href="#g8" x="586" y="167"/><use href="#g6" x="591" y="167"/><use href="#g2" x="596" y="167"/><use href="#g3" x="610" y="167"/><use href="#g6" x="615" y="167"/><use href="#g0" x="620" y="167"/><use href="#g7" x="625" y="167"/><use href="#g3" x="523" y="178"/><use href="#g7" x="528" y="178"/><use href="#g8" x="533" y="178"/><use href="#g3" x="538" y="178"/><use href="#g3" x="552" y="178"/><use href="#g9" x="557" y="178"/><use href="#g6" x="562" y="178"/><use href="#g4" x="567" y="178"/><use href="#g3" x="581" y="178"/><use href="#g9" x="586" y="178"/><use href="#g5" x="591" y="178"/><use href="#g5" x="596" y="178"/><use href="#g3" x="610" y="178"/><use href="#g0" x="615" y="178"/><use href="#g4" x="620" y="178"/><use href="#g9" x="625" y="178"/><use href="#g3" x="523" y="189"/><use href="#g7" x="528" y="189"/><use href="#g4" x="533" y="189"/><use href="#g5" x="538" y="189"/><use href="#g3" x="552" y="189"/><use href="#g6" x="557" y="189"/><use href="#g6" x="562" y="189"/><use href="#g8" x="567" y="189"/><use href="#g4" x="581" y="189"/><use href="#g0" x="586" y="189"/><use href="#g4" x="591" y="189"/><use href="#g7" x="596" y="189"/><use href="#g3" x="610" y="189"/><use href="#g3" x="615" y="189"/><use href="#g2" x="620" y="189"/><use href="#g6" x="625" y="189"/><use href="#g2" x="523" y="200"/><use href="#g2" x="528" y="200"/><use href="#g8" x="533" y="200"/><use href="#g2" x="538" y="200"/><use href="#g2" x="556" y="200"/><use href="#g1" x="561" y="200"/><use href="#g3" x="564" y="200"/><use href="#g1" x="569" y="200"/><use href="#g2" x="581" y="200"/><use href="#g5" x="586" y="200"/><use href="#g7" x="591" y="200"/><use href="#g8" x="596" y="200"/><use href="#g2" x="616" y="200"/><use href="#g1" x="621" y="200"/><use href="#g1" x="624" y="200"/><use href="#g1" x="627" y="200"/><use href="#g3" x="525" y="211"/><use href="#g6" x="530" y="211"/><use href="#g9" x="535" y="211"/><use href="#g1" x="540" y="211"/><use href="#g3" x="554" y="211"/><use href="#g5" x="559" y="211"/><use href="#g0" x="564" y="211"/><use href="#g1" x="569" y="211"/><use href="#g3" x="581" y="211"/><use href="#g6" x="586" y="211"/><use href="#g3" x="591" y="211"/><use href="#g5" x="596" y="211"/><use href="#g3" x="612" y="211"/><use href="#g0" x="617" y="211"/><use href="#g1" x="622" y="211"/><use href="#g8" x="625" y="211"/><use href="#g2" x="525" y="222"/><use href="#g6" x="530" y="222"/><use href="#g1" x="535" y="222"/><use href="#g3" x="538" y="222"/><use href="#g2" x="552" y="222"/><use href="#g5" x="557" y="222"/><use href="#g6" x="562" y="222"/><use href="#g6" x="567" y="222"/><use href="#g3" x="581" y="222"/><use href="#g0" x="586" y="222"/><use href="#g0" x="591" y="222"/><use href="#g5" x="596" y="222"/><use href="#g2" x="610" y="222"/><use href="#g3" x="615" y="222"/><use href="#g2" x="620" y="222"/><use href="#g8" x="625" y="222"/><use href="#g3" x="523" y="233"/><use href="#g6" x="528" y="233"/><use href="#g4" x="533" y="233"/><use href="#g0" x="538" y="233"/><use href="#g3" x="554" y="233"/><use href="#g5" x="559" y="233"/><use href="#g7" x="564" y="233"/><use href="#g1" x="569" y="233"/><use href="#g3" x="581" y="233"/><use href="#g8" x="586" y="233"/><use href="#g4" x="591" y="233"/><use href="#g4" x="596" y="233"/><use href="#g2" x="610" y="233"/><use href="#g9" x="615" y="233"/><use href="#g5" x="620" y="233"/><use href="#g3" x="625" y="233"/><use href="#g4" x="525" y="244"/><use href="#g2" x="530" y="244"/><use href="#g1" x="535" y="244"/><use href="#g6" x="538" y="244"/><use href="#g3" x="552" y="244"/><use href="#g4" x="557" y="244"/><use href="#g8" x="562" y="244"/><use href="#g9" x="567" y="244"/><use href="#g4" x="581" y="244"/><use href="#g3" x="586" y="244"/><use href="#g2" x="591" y="244"/><use href="#g7" x="596" y="244"/><use href="#g3" x="612" y="244"/><use href="#g5" x="617" y="244"/><use href="#g0" x="622" y="244"/><use href="#g1" x="627" y="244"/><use href="#g3" x="523" y="255"/><use href="#g5" x="528" y="255"/><use href="#g9" x="533" y="255"/><use href="#g0" x="538" y="255"/><use href="#g3" x="552" y="255"/><use href="#g4" x="557" y="255"/><use href="#g5" x="562" y="255"/><use href="#g2" x="567" y="255"/><use href="#g3" x="581" y="255"/><use href="#g6" x="586" y="255"/><use href="#g9" x="591" y="255"/><use href="#g8" x="596" y="255"/><use href="#g3" x="612" y="255"/><use href="#g1" x="617" y="255"/><use href="#g2" x="620" y="255"/><use href="#g8" x="625" y="255"/><use href="#g3" x="523" y="266"/><use href="#g4" x="528" y="266"/><use href="#g5" x="533" y="266"/><use href="#g8" x="538" y="266"/><use href="#g3" x="552" y="266"/><use href="#g3" x="557" y="266"/><use href="#g4" x="562" y="266"/><use href="#g7" x="567" y="266"/><use href="#g3" x="581" y="266"/><use href="#g7" x="586" y="266"/><use href="#g4" x="591" y="266"/><use href="#g2" x="596" y="266"/><use href="#g3" x="614" y="266"/><use href="#g1" x="619" y="266"/><use href="#g0" x="622" y="266"/><use href="#g1" x="627" y="266"/><use href="#g3" x="523" y="277"/><use href="#g0" x="528" y="277"/><use href="#g6" x="533" y="277"/><use href="#g2" x="538" y="277"/><use href="#g2" x="552" y="277"/><use href="#g8" x="557" y="277"/><use href="#g2" x="562" y="277"/><use href="#g4" x="567" y="277"/><use href="#g2" x="581" y="277"/><use href="#g9" x="586" y="277"/><use href="#g9" x="591" y="277"/><use href="#g9" x="596" y="277"/><use href="#g2" x="610" y="277"/><use href="#g4" x="615" y="277"/><use href="#g5" x="620" y="277"/><use href="#g5" x="625" y="277"/><use href="#g3" x="523" y="288"/><use href="#g3" x="528" y="288"/><use href="#g8" x="533" y="288"/><use href="#g9" x="538" y="288"/><use href="#g3" x="552" y="288"/><use href="#g2" x="557" y="288"/><use href="#g6" x="562" y="288"/><use href="#g3" x="567" y="288"/><use href="#g3" x="581" y="288"/><use href="#g3" x="586" y="288"/><use href="#g0" x="591" y="288"/><use href="#g4" x="596" y="288"/><use href="#g3" x="612" y="288"/><use href="#g1" x="617" y="288"/><use href="#g6" x="620" y="288"/><use href="#g0" x="625" y="288"/><use href="#g3" x="527" y="299"/><use href="#g1" x="532" y="299"/><use href="#g2" x="535" y="299"/><use href="#g1" x="540" y="299"/><use href="#g2" x="552" y="299"/><use href="#g8" x="557" y="299"/><use href="#g6" x="562" y="299"/><use href="#g0" x="567" y="299"/><use href="#g3" x="581" y="299"/><use href="#g8" x="586" y="299"/><use href="#g0" x="591" y="299"/><use href="#g0" x="596" y="299"/><use href="#g2" x="610" y="299"/><use href="#g9" x="615" y="299"/><use href="#g5" x="620" y="299"/><use href="#g6" x="625" y="299"/><use href="#g4" x="525" y="310"/><use href="#g1" x="530" y="310"/><use href="#g8" x="533" y="310"/><use href="#g3" x="538" y="310"/><use href="#g4" x="552" y="310"/><use href="#g2" x="557" y="310"/><use href="#g6" x="562" y="310"/><use href="#g3" x="567" y="310"/><use href="#g4" x="583" y="310"/><use href="#g1" x="588" y="310"/><use href="#g9" x="591" y="310"/><use href="#g3" x="596" y="310"/><use href="#g3" x="610" y="310"/><use href="#g7" x="615" y="310"/><use href="#g2" x="620" y="310"/><use href="#g9" x="625" y="310"/><use href="#g3" x="523" y="321"/><use href="#g7" x="528" y="321"/><use href="#g4" x="533" y="321"/><use href="#g8" x="538" y="321"/><use href="#g3" x="552" y="321"/><use href="#g6" x="557" y="321"/><use href="#g5" x="562" y="321"/><use href="#g7" x="567" y="321"/><use href="#g4" x="581" y="321"/><use href="#g0" x="586" y="321"/><use href="#g2" x="591" y="321"/><use href="#g0" x="596" y="321"/><use href="#g3" x="610" y="321"/><use href="#g2" x="615" y="321"/><use href="#g3" x="620" y="321"/><use href="#g6" x="625" y="321"/><use href="#g3" x="523" y="332"/><use href="#g5" x="528" y="332"/><use href="#g9" x="533" y="332"/><use href="#g0" x="538" y="332"/><use href="#g3" x="552" y="332"/><use href="#g2" x="557" y="332"/><use href="#g6" x="562" y="332"/><use href="#g7" x="567" y="332"/><use href="#g3" x="583" y="332"/><use href="#g4" x="588" y="332"/><use href="#g5" x="593" y="332"/><use href="#g1" x="598" y="332"/><use href="#g2" x="610" y="332"/><use href="#g8" x="615" y="332"/><use href="#g2" x="620" y="332"/><use href="#g9" x="625" y="332"/><use href="#g2" x="523" y="343"/><use href="#g8" x="528" y="343"/><use href="#g2" x="533" y="343"/><use href="#g9" x="538" y="343"/><use href="#g2" x="552" y="343"/><use href="#g5" x="557" y="343"/><use href="#g6" x="562" y="343"/><use href="#g8" x="567" y="343"/><use href="#g2" x="581" y="343"/><use href="#g6" x="586" y="343"/><use href="#g0" x="591" y="343"/><use href="#g6" x="596" y="343"/><use href="#g2" x="612" y="343"/><use href="#g1" x="617" y="343"/><use href="#g6" x="620" y="343"/><use href="#g8" x="625" y="343"/><use href="#g2" x="523" y="354"/><use href="#g7" x="528" y="354"/><use href="#g6" x="533" y="354"/><use href="#g6" x="538" y="354"/><use href="#g2" x="552" y="354"/><use href="#g8" x="557" y="354"/><use href="#g8" x="562" y="354"/><use href="#g4" x="567" y="354"/><use href="#g3" x="583" y="354"/><use href="#g1" x="588" y="354"/><use href="#g4" x="591" y="354"/><use href="#g2" x="596" y="354"/><use href="#g2" x="610" y="354"/><use href="#g6" x="615" y="354"/><use href="#g6" x="620" y="354"/><use href="#g3" x="625" y="354"/><use href="#g2" x="523" y="365"/><use href="#g9" x="528" y="365"/><use href="#g0" x="533" y="365"/><use href="#g5" x="538" y="365"/><use href="#g2" x="552" y="365"/><use href="#g6" x="557" y="365"/><use href="#g0" x="562" y="365"/><use href="#g9" x="567" y="365"/><use href="#g3" x="581" y="365"/><use href="#g0" x="586" y="365"/><use href="#g5" x="591" y="365"/><use href="#g2" x="596" y="365"/><use href="#g2" x="610" y="365"/><use href="#g4" x="615" y="365"/><use href="#g9" x="620" y="365"/><use href="#g9" x="625" y="365"/><use href="#g3" x="525" y="376"/><use href="#g2" x="530" y="376"/><use href="#g6" x="535" y="376"/><use href="#g1" x="540" y="376"/><use href="#g2" x="554" y="376"/><use href="#g9" x="559" y="376"/><use href="#g4" x="564" y="376"/><use href="#g1" x="569" y="376"/><use href="#g3" x="581" y="376"/><use href="#g6" x="586" y="376"/><use href="#g9" x="591" y="376"/><use href="#g4" x="596" y="376"/><use href="#g3" x="612" y="376"/><use href="#g1" x="617" y="376"/><use href="#g4" x="620" y="376"/><use href="#g5" x="625" y="376"/><use href="#g3" x="525" y="387"/><use href="#g1" x="530" y="387"/><use href="#g4" x="533" y="387"/><use href="#g8" x="538" y="387"/><use href="#g2" x="554" y="387"/><use href="#g9" x="559" y="387"/><use href="#g1" x="564" y="387"/><use href="#g6" x="567" y="387"/><use href="#g3" x="585" y="387"/><use href="#g1" x="590" y="387"/><use href="#g1" x="593" y="387"/><use href="#g4" x="596" y="387"/><use href="#g2" x="610" y="387"/><use href="#g4" x="615" y="387"/><use href="#g6" x="620" y="387"/><use href="#g8" x="625" y="387"/><use href="#g3" x="523" y="398"/><use href="#g4" x="528" y="398"/><use href="#g7" x="533" y="398"/><use href="#g8" x="538" y="398"/><use href="#g3" x="552" y="398"/><use href="#g6" x="557" y="398"/><use href="#g5" x="562" y="398"/><use href="#g0" x="567" y="398"/><use href="#g4" x="581" y="398"/><use href="#g0" x="586" y="398"/><use href="#g2" x="591" y="398"/><use href="#g8" x="596" y="398"/><use href="#g3" x="610" y="398"/><use href="#g3" x="615" y="398"/><use href="#g5" x="620" y="398"/><use href="#g7" x="625" y="398"/><use href="#g1" x="525" y="409"/><use href="#g0" x="528" y="409"/><use href="#g6" x="533" y="409"/><use href="#g6" x="538" y="409"/><use href="#g1" x="556" y="409"/><use href="#g1" x="559" y="409"/><use href="#g0" x="562" y="409"/><use href="#g9" x="567" y="409"/><use href="#g1" x="585" y="409"/><use href="#g2" x="588" y="409"/><use href="#g1" x="593" y="409"/><use href="#g0" x="596" y="409"/><use href="#g1" x="616" y="409"/><use href="#g1" x="619" y="409"/><use href="#g8" x="622" y="409"/><use href="#g1" x="627" y="409"/><g clip-path="url(#c1)"><use href="#K73" x="3" y="2"/><use href="#K110" x="6" y="2"/><use href="#K99" x="12" y="2"/><use href="#K105" x="18" y="2"/><use href="#K100" x="21" y="2"/><use href="#K101" x="27" y="2"/><use href="#K110" x="33" y="2"/><use href="#K99" x="39" y="2"/><use href="#K101" x="45" y="2"/><use href="#K84" x="54" y="2"/><use href="#K101" x="61" y="2"/><use href="#K115" x="67" y="2"/><use href="#K116" x="73" y="2"/><use href="#K68" x="3" y="24"/><use href="#K82" x="11" y="24"/><use href="#K79" x="19" y="24"/><use href="#K77" x="27" y="24"/><use href="#L71" x="16" y="35"/><use href="#L117" x="23" y="35"/><use href="#L97" x="28" y="35"/><use href="#L100" x="33" y="35"/><use href="#L101" x="38" y="35"/><use href="#L108" x="43" y="35"/><use href="#L111" x="45" y="35"/><use href="#L117" x="51" y="35"/><use href="#L112" x="56" y="35"/><use href="#L101" x="61" y="35"/><use href="#L71" x="16" y="46"/><use href="#L117" x="23" y="46"/><use href="#L121" x="28" y="46"/><use href="#L97" x="32" y="46"/><use href="#L110" x="37" y="46"/><use href="#L101" x="42" y="46"/><use href="#L76" x="16" y="57"/><use href="#L97" x="21" y="57"/><use href="#L82" x="28" y="57"/><use href="#L233" x="35" y="57"/><use href="#L117" x="40" y="57"/><use href="#L110" x="45" y="57"/><use href="#L105" x="50" y="57"/><use href="#L111" x="52" y="57"/><use href="#L110" x="58" y="57"/><use href="#L77" x="16" y="68"/><use href="#L97" x="25" y="68"/><use href="#L114" x="30" y="68"/><use href="#L116" x="33" y="68"/><use href="#L105" x="36" y="68"/><use href="#L110" x="38" y="68"/><use href="#L105" x="43" y="68"/><use href="#L113" x="45" y="68"/><use href="#L117" x="50" y="68"/><use href="#L101" x="55" y="68"/><use href="#L77" x="16" y="79"/><use href="#L97" x="25" y="79"/><use href="#L121" x="30" y="79"/><use href="#L111" x="34" y="79"/><use href="#L116" x="40" y="79"/><use href="#L116" x="43" y="79"/><use href="#L101" x="46" y="79"/><use href="#L83" x="16" y="90"/><use href="#L97" x="22" y="90"/><use href="#L105" x="27" y="90"/><use href="#L110" x="29" y="90"/><use href="#L116" x="34" y="90"/><use href="#L45" x="37" y="90"/><use href="#L66" x="40" y="90"/><use href="#L97" x="47" y="90"/><use href="#L114" x="52" y="90"/><use href="#L116" x="55" y="90"/><use href="#L104" x="58" y="90"/><use href="#L233" x="63" y="90"/><use href="#L108" x="68" y="90"/><use href="#L101" x="70" y="90"/><use href="#L109" x="75" y="90"/><use href="#L121" x="83" y="90"/><use href="#L83" x="16" y="101"/><use href="#L97" x="22" y="101"/><use href="#L105" x="27" y="101"/><use href="#L110" x="29" y="101"/><use href="#L116" x="34" y="101"/><use href="#L45" x="37" y="101"/><use href="#L77" x="40" y="101"/><use href="#L97" x="49" y="101"/><use href="#L114" x="54" y="101"/><use href="#L116" x="57" y="101"/><use href="#L105" x="60" y="101"/><use href="#L110" x="62" y="101"/><use href="#L83" x="16" y="112"/><use href="#L97" x="22" y="112"/><use href="#L105" x="27" y="112"/><use href="#L110" x="29" y="112"/><use href="#L116" x="34" y="112"/><use href="#L45" x="37" y="112"/><use href="#L80" x="40" y="112"/><use href="#L105" x="47" y="112"/><use href="#L101" x="49" y="112"/><use href="#L114" x="54" y="112"/><use href="#L114" x="57" y="112"/><use href="#L101" x="60" y="112"/><use href="#L45" x="65" y="112"/><use href="#L101" x="68" y="112"/><use href="#L116" x="73" y="112"/><use href="#L45" x="76" y="112"/><use href="#L77" x="79" y="112"/><use href="#L105" x="88" y="112"/><use href="#L113" x="90" y="112"/><use href="#L117" x="95" y="112"/><use href="#L101" x="100" y="112"/><use href="#L108" x="105" y="112"/><use href="#L111" x="107" y="112"/><use href="#L110" x="113" y="112"/><use href="#K77" x="3" y="123"/><use href="#K69" x="13" y="123"/><use href="#K84" x="20" y="123"/><use href="#K82" x="27" y="123"/><use href="#K79" x="35" y="123"/><use href="#K80" x="43" y="123"/><use href="#K79" x="51" y="123"/><use href="#K76" x="59" y="123"/><use href="#K69" x="65" y="123"/><use href="#L65" x="16" y="134"/><use href="#L105" x="23" y="134"/><use href="#L110" x="25" y="134"/><use href="#L65" x="16" y="145"/><use href="#L105" x="23" y="145"/><use href="#L115" x="25" y="145"/><use href="#L110" x="30" y="145"/><use href="#L101" x="35" y="145"/><use href="#L65" x="16" y="156"/><use href="#L108" x="23" y="156"/><use href="#L108" x="25" y="156"/><use href="#L105" x="27" y="156"/><use href="#L101" x="29" y="156"/><use href="#L114" x="34" y="156"/><use href="#L65" x="16" y="167"/><use href="#L108" x="23" y="167"/><use href="#L112" x="25" y="167"/><use href="#L101" x="30" y="167"/><use href="#L115" x="35" y="167"/><use href="#L100" x="42" y="167"/><use href="#L101" x="47" y="167"/><use href="#L72" x="54" y="167"/><use href="#L97" x="61" y="167"/><use href="#L117" x="66" y="167"/><use href="#L116" x="71" y="167"/><use href="#L101" x="74" y="167"/><use href="#L45" x="79" y="167"/><use href="#L80" x="82" y="167"/><use href="#L114" x="89" y="167"/><use href="#L111" x="92" y="167"/><use href="#L118" x="98" y="167"/><use href="#L101" x="103" y="167"/><use href="#L110" x="108" y="167"/><use href="#L99" x="113" y="167"/><use href="#L101" x="118" y="167"/><use href="#L65" x="16" y="178"/><use href="#L108" x="23" y="178"/><use href="#L112" x="25" y="178"/><use href="#L101" x="30" y="178"/><use href="#L115" x="35" y="178"/><use href="#L45" x="40" y="178"/><use href="#L77" x="43" y="178"/><use href="#L97" x="52" y="178"/><use href="#L114" x="57" y="178"/><use href="#L105" x="60" y="178"/><use href="#L116" x="62" y="178"/><use href="#L105" x="65" y="178"/><use href="#L109" x="67" y="178"/><use href="#L101" x="75" y="178"/><use href="#L115" x="80" y="178"/><use href="#L65" x="16" y="189"/><use href="#L114" x="23" y="189"/><use href="#L100" x="26" y="189"/><use href="#L232" x="31" y="189"/><use href="#L99" x="36" y="189"/><use href="#L104" x="41" y="189"/><use href="#L101" x="46" y="189"/><use href="#L65" x="16" y="200"/><use href="#L114" x="23" y="200"/><use href="#L100" x="26" y="200"/><use href="#L101" x="31" y="200"/><use href="#L110" x="36" y="200"/><use href="#L110" x="41" y="200"/><use href="#L101" x="46" y="200"/><use href="#L115" x="51" y="200"/><use href="#L65" x="16" y="211"/><use href="#L114" x="23" y="211"/><use href="#L105" x="26" y="211"/><use href="#L232" x="28" y="211"/><use href="#L103" x="33" y="211"/><use href="#L101" x="38" y="211"/><use href="#L65" x="16" y="222"/><use href="#L117" x="23" y="222"/><use href="#L98" x="28" y="222"/><use href="#L101" x="33" y="222"/><use href="#L65" x="16" y="233"/><use href="#L117" x="23" y="233"/><use href="#L100" x="28" y="233"/><use href="#L101" x="33" y="233"/><use href="#L65" x="16" y="244"/><use href="#L118" x="23" y="244"/><use href="#L101" x="28" y="244"/><use href="#L121" x="33" y="244"/><use href="#L114" x="37" y="244"/><use href="#L111" x="40" y="244"/><use href="#L110" x="46" y="244"/><use href="#L66" x="16" y="255"/><use href="#L97" x="23" y="255"/><use href="#L115" x="28" y="255"/><use href="#L45" x="33" y="255"/><use href="#L82" x="36" y="255"/><use href="#L104" x="43" y="255"/><use href="#L105" x="48" y="255"/><use href="#L110" x="50" y="255"/><use href="#L66" x="16" y="266"/><use href="#L111" x="23" y="266"/><use href="#L117" x="29" y="266"/><use href="#L99" x="34" y="266"/><use href="#L104" x="39" y="266"/><use href="#L101" x="44" y="266"/><use href="#L115" x="49" y="266"/><use href="#L100" x="56" y="266"/><use href="#L117" x="61" y="266"/><use href="#L82" x="68" y="266"/><use href="#L104" x="75" y="266"/><use href="#L244" x="80" y="266"/><use href="#L110" x="86" y="266"/><use href="#L101" x="91" y="266"/><use href="#L67" x="16" y="277"/><use href="#L97" x="23" y="277"/><use href="#L108" x="28" y="277"/><use href="#L118" x="30" y="277"/><use href="#L97" x="35" y="277"/><use href="#L100" x="40" y="277"/><use href="#L111" x="45" y="277"/><use href="#L115" x="51" y="277"/><use href="#L67" x="16" y="288"/><use href="#L97" x="23" y="288"/><use href="#L110" x="28" y="288"/><use href="#L116" x="33" y="288"/><use href="#L97" x="36" y="288"/><use href="#L108" x="41" y="288"/><use href="#L67" x="16" y="299"/><use href="#L104" x="23" y="299"/><use href="#L97" x="28" y="299"/><use href="#L114" x="33" y="299"/><use href="#L101" x="36" y="299"/><use href="#L110" x="41" y="299"/><use href="#L116" x="46" y="299"/><use href="#L101" x="49" y="299"/><use href="#L67" x="16" y="310"/><use href="#L104" x="23" y="310"/><use href="#L97" x="28" y="310"/><use href="#L114" x="33" y="310"/><use href="#L101" x="36" y="310"/><use href="#L110" x="41" y="310"/><use href="#L116" x="46" y="310"/><use href="#L101" x="49" y="310"/><use href="#L77" x="56" y="310"/><use href="#L97" x="65" y="310"/><use href="#L114" x="70" y="310"/><use href="#L105" x="73" y="310"/><use href="#L116" x="75" y="310"/><use href="#L105" x="78" y="310"/><use href="#L109" x="80" y="310"/><use href="#L101" x="88" y="310"/><use href="#L67" x="16" y="321"/><use href="#L104" x="23" y="321"/><use href="#L101" x="28" y="321"/><use href="#L114" x="33" y="321"/><use href="#L67" x="16" y="332"/><use href="#L111" x="23" y="332"/><use href="#L114" x="29" y="332"/><use href="#L114" x="32" y="332"/><use href="#L232" x="35" y="332"/><use href="#L122" x="40" y="332"/><use href="#L101" x="44" y="332"/><use href="#L67" x="16" y="343"/><use href="#L111" x="23" y="343"/><use href="#L114" x="29" y="343"/><use href="#L115" x="32" y="343"/><use href="#L101" x="37" y="343"/><use href="#L100" x="44" y="343"/><use href="#L117" x="49" y="343"/><use href="#L83" x="56" y="343"/><use href="#L117" x="62" y="343"/><use href="#L100" x="67" y="343"/><use href="#L67" x="16" y="354"/><use href="#L244" x="23" y="354"/><use href="#L116" x="29" y="354"/><use href="#L101" x="32" y="354"/><use href="#L100" x="39" y="354"/><use href="#L39" x="44" y="354"/><use href="#L79" x="46" y="354"/><use href="#L114" x="53" y="354"/><use href="#L67" x="16" y="365"/><use href="#L111" x="23" y="365"/><use href="#L116" x="29" y="365"/><use href="#L101" x="32" y="365"/><use href="#L115" x="37" y="365"/><use href="#L100" x="44" y="365"/><use href="#L39" x="49" y="365"/><use href="#L65" x="51" y="365"/><use href="#L114" x="58" y="365"/><use href="#L109" x="61" y="365"/><use href="#L111" x="69" y="365"/><use href="#L114" x="75" y="365"/><use href="#L67" x="16" y="376"/><use href="#L114" x="23" y="376"/><use href="#L101" x="26" y="376"/><use href="#L117" x="31" y="376"/><use href="#L115" x="36" y="376"/><use href="#L101" x="41" y="376"/><use href="#L68" x="16" y="387"/><use href="#L101" x="23" y="387"/><use href="#L117" x="28" y="387"/><use href="#L120" x="33" y="387"/><use href="#L45" x="37" y="387"/><use href="#L83" x="40" y="387"/><use href="#L232" x="46" y="387"/><use href="#L118" x="51" y="387"/><use href="#L114" x="56" y="387"/><use href="#L101" x="59" y="387"/><use href="#L115" x="64" y="387"/><use href="#L68" x="16" y="398"/><use href="#L111" x="23" y="398"/><use href="#L114" x="29" y="398"/><use href="#L100" x="32" y="398"/><use href="#L111" x="37" y="398"/><use href="#L103" x="43" y="398"/><use href="#L110" x="48" y="398"/><use href="#L101" x="53" y="398"/><use href="#L68" x="16" y="409"/><use href="#L111" x="23" y="409"/><use href="#L117" x="29" y="409"/><use href="#L98" x="34" y="409"/><use href="#L115" x="39" y="409"/></g><g clip-path="url(#c2)"><use href="#K73" x="238" y="2"/><use href="#K110" x="241" y="2"/><use href="#K99" x="247" y="2"/><use href="#K105" x="253" y="2"/><use href="#K100" x="256" y="2"/><use href="#K101" x="262" y="2"/><use href="#K110" x="268" y="2"/><use href="#K99" x="274" y="2"/><use href="#K101" x="280" y="2"/><use href="#K84" x="289" y="2"/><use href="#K101" x="296" y="2"/><use href="#K115" x="302" y="2"/><use href="#K116" x="308" y="2"/><use href="#L68" x="238" y="24"/><use href="#L114" x="245" y="24"/><use href="#L244" x="248" y="24"/><use href="#L109" x="254" y="24"/><use href="#L101" x="262" y="24"/><use href="#L69" x="238" y="35"/><use href="#L115" x="244" y="35"/><use href="#L115" x="249" y="35"/><use href="#L111" x="254" y="35"/><use href="#L110" x="260" y="35"/><use href="#L110" x="265" y="35"/><use href="#L101" x="270" y="35"/><use href="#L69" x="238" y="46"/><use href="#L117" x="244" y="46"/><use href="#L114" x="249" y="46"/><use href="#L101" x="252" y="46"/><use href="#L69" x="238" y="57"/><use href="#L117" x="244" y="57"/><use href="#L114" x="249" y="57"/><use href="#L101" x="252" y="57"/><use href="#L45" x="257" y="57"/><use href="#L101" x="260" y="57"/><use href="#L116" x="265" y="57"/><use href="#L45" x="268" y="57"/><use href="#L76" x="271" y="57"/><use href="#L111" x="276" y="57"/><use href="#L105" x="282" y="57"/><use href="#L114" x="284" y="57"/><use href="#L70" x="238" y="68"/><use href="#L105" x="244" y="68"/><use href="#L110" x="246" y="68"/><use href="#L105" x="251" y="68"/><use href="#L115" x="253" y="68"/><use href="#L116" x="258" y="68"/><use href="#L232" x="261" y="68"/><use href="#L114" x="266" y="68"/><use href="#L101" x="269" y="68"/><use href="#L71" x="238" y="79"/><use href="#L97" x="245" y="79"/><use href="#L114" x="250" y="79"/><use href="#L100" x="253" y="79"/><use href="#L71" x="238" y="90"/><use href="#L101" x="245" y="90"/><use href="#L114" x="250" y="90"/><use href="#L115" x="253" y="90"/><use href="#L71" x="238" y="101"/><use href="#L105" x="245" y="101"/><use href="#L114" x="247" y="101"/><use href="#L111" x="250" y="101"/><use href="#L110" x="256" y="101"/><use href="#L100" x="261" y="101"/><use href="#L101" x="266" y="101"/><use href="#L72" x="238" y="112"/><use href="#L97" x="245" y="112"/><use href="#L117" x="250" y="112"/><use href="#L116" x="255" y="112"/><use href="#L101" x="258" y="112"/><use href="#L45" x="263" y="112"/><use href="#L67" x="266" y="112"/><use href="#L111" x="273" y="112"/><use href="#L114" x="279" y="112"/><use href="#L115" x="282" y="112"/><use href="#L101" x="287" y="112"/><use href="#L72" x="238" y="123"/><use href="#L97" x="245" y="123"/><use href="#L117" x="250" y="123"/><use href="#L116" x="255" y="123"/><use href="#L101" x="258" y="123"/><use href="#L45" x="263" y="123"/><use href="#L71" x="266" y="123"/><use href="#L97" x="273" y="123"/><use href="#L114" x="278" y="123"/><use href="#L111" x="281" y="123"/><use href="#L110" x="287" y="123"/><use href="#L110" x="292" y="123"/><use href="#L101" x="297" y="123"/><use href="#L72" x="238" y="134"/><use href="#L97" x="245" y="134"/><use href="#L117" x="250" y="134"/><use href="#L116" x="255" y="134"/><use href="#L101" x="258" y="134"/><use href="#L45" x="263" y="134"/><use href="#L76" x="266" y="134"/><use href="#L111" x="271" y="134"/><use href="#L105" x="277" y="134"/><use href="#L114" x="279" y="134"/><use href="#L101" x="282" y="134"/><use href="#L72" x="238" y="145"/><use href="#L97" x="245" y="145"/><use href="#L117" x="250" y="145"/><use href="#L116" x="255" y="145"/><use href="#L101" x="258" y="145"/><use href="#L45" x="263" y="145"/><use href="#L77" x="266" y="145"/><use href="#L97" x="275" y="145"/><use href="#L114" x="280" y="145"/><use href="#L110" x="283" y="145"/><use href="#L101" x="288" y="145"/><use href="#L72" x="238" y="156"/><use href="#L97" x="245" y="156"/><use href="#L117" x="250" y="156"/><use href="#L116" x="255" y="156"/><use href="#L101" x="258" y="156"/><use href="#L115" x="263" y="156"/><use href="#L45" x="268" y="156"/><use href="#L65" x="271" y="156"/><use href="#L108" x="278" y="156"/><use href="#L112" x="280" y="156"/><use href="#L101" x="285" y="156"/><use href="#L115" x="290" y="156"/><use href="#L72" x="238" y="167"/><use href="#L97" x="245" y="167"/><use href="#L117" x="250" y="167"/><use href="#L116" x="255" y="167"/><use href="#L101" x="258" y="167"/><use href="#L45" x="263" y="167"/><use href="#L83" x="266" y="167"/><use href="#L97" x="272" y="167"/><use href="#L244" x="277" y="167"/><use href="#L110" x="283" y="167"/><use href="#L101" x="288" y="167"/><use href="#L72" x="238" y="178"/><use href="#L97" x="245" y="178"/><use href="#L117" x="250" y="178"/><use href="#L116" x="255" y="178"/><use href="#L101" x="258" y="178"/><use href="#L45" x="263" y="178"/><use href="#L83" x="266" y="178"/><use href="#L97" x="272" y="178"/><use href="#L118" x="277" y="178"/><use href="#L111" x="282" y="178"/><use href="#L105" x="288" y="178"/><use href="#L101" x="290" y="178"/><use href="#L72" x="238" y="189"/><use href="#L97" x="245" y="189"/><use href="#L117" x="250" y="189"/><use href="#L116" x="255" y="189"/><use href="#L101" x="258" y="189"/><use href="#L115" x="263" y="189"/><use href="#L45" x="268" y="189"/><use href="#L80" x="271" y="189"/><use href="#L121" x="278" y="189"/><use href="#L114" x="282" y="189"/><use href="#L233" x="285" y="189"/><use href="#L110" x="290" y="189"/><use href="#L233" x="295" y="189"/><use href="#L101" x="300" y="189"/><use href="#L115" x="305" y="189"/><use href="#L72" x="238" y="200"/><use href="#L97" x="245" y="200"/><use href="#L117" x="250" y="200"/><use href="#L116" x="255" y="200"/><use href="#L101" x="258" y="200"/><use href="#L45" x="263" y="200"/><use href="#L86" x="266" y="200"/><use href="#L105" x="272" y="200"/><use href="#L101" x="274" y="200"/><use href="#L110" x="279" y="200"/><use href="#L110" x="284" y="200"/><use href="#L101" x="289" y="200"/><use href="#L72" x="238" y="211"/><use href="#L97" x="245" y="211"/><use href="#L117" x="250" y="211"/><use href="#L116" x="255" y="211"/><use href="#L45" x="258" y="211"/><use href="#L82" x="261" y="211"/><use href="#L104" x="268" y="211"/><use href="#L105" x="273" y="211"/><use href="#L110" x="275" y="211"/><use href="#L72" x="238" y="222"/><use href="#L97" x="245" y="222"/><use href="#L117" x="250" y="222"/><use href="#L116" x="255" y="222"/><use href="#L115" x="258" y="222"/><use href="#L45" x="263" y="222"/><use href="#L100" x="266" y="222"/><use href="#L101" x="271" y="222"/><use href="#L45" x="276" y="222"/><use href="#L83" x="279" y="222"/><use href="#L101" x="285" y="222"/><use href="#L105" x="290" y="222"/><use href="#L110" x="292" y="222"/><use href="#L101" x="297" y="222"/><use href="#L72" x="238" y="233"/><use href="#L233" x="245" y="233"/><use href="#L114" x="250" y="233"/><use href="#L97" x="253" y="233"/><use href="#L117" x="258" y="233"/><use href="#L108" x="263" y="233"/><use href="#L116" x="265" y="233"/><use href="#L73" x="238" y="244"/><use href="#L108" x="240" y="244"/><use href="#L108" x="242" y="244"/><use href="#L101" x="244" y="244"/><use href="#L45" x="249" y="244"/><use href="#L101" x="252" y="244"/><use href="#L116" x="257" y="244"/><use href="#L45" x="260" y="244"/><use href="#L86" x="263" y="244"/><use href="#L105" x="269" y="244"/><use href="#L108" x="271" y="244"/><use href="#L97" x="273" y="244"/><use href="#L105" x="278" y="244"/><use href="#L110" x="280" y="244"/><use href="#L101" x="285" y="244"/><use href="#L73" x="238" y="255"/><use href="#L110" x="240" y="255"/><use href="#L100" x="245" y="255"/><use href="#L114" x="250" y="255"/><use href="#L101" x="253" y="255"/><use href="#L73" x="238" y="266"/><use href="#L110" x="240" y="266"/><use href="#L100" x="245" y="266"/><use href="#L114" x="250" y="266"/><use href="#L101" x="253" y="266"/><use href="#L45" x="258" y="266"/><use href="#L101" x="261" y="266"/><use href="#L116" x="266" y="266"/><use href="#L45" x="269" y="266"/><use href="#L76" x="272" y="266"/><use href="#L111" x="277" y="266"/><use href="#L105" x="283" y="266"/><use href="#L114" x="285" y="266"/><use href="#L101" x="288" y="266"/><use href="#L73" x="238" y="277"/><use href="#L115" x="240" y="277"/><use href="#L232" x="245" y="277"/><use href="#L114" x="250" y="277"/><use href="#L101" x="253" y="277"/><use href="#L74" x="238" y="288"/><use href="#L117" x="243" y="288"/><use href="#L114" x="248" y="288"/><use href="#L97" x="251" y="288"/><use href="#L76" x="238" y="299"/><use href="#L97" x="243" y="299"/><use href="#L82" x="250" y="299"/><use href="#L233" x="257" y="299"/><use href="#L117" x="262" y="299"/><use href="#L110" x="267" y="299"/><use href="#L105" x="272" y="299"/><use href="#L111" x="274" y="299"/><use href="#L110" x="280" y="299"/><use href="#L76" x="238" y="310"/><use href="#L97" x="243" y="310"/><use href="#L110" x="248" y="310"/><use href="#L100" x="253" y="310"/><use href="#L101" x="258" y="310"/><use href="#L115" x="263" y="310"/><use href="#L76" x="238" y="321"/><use href="#L111" x="243" y="321"/><use href="#L105" x="249" y="321"/><use href="#L114" x="251" y="321"/><use href="#L101" x="254" y="321"/><use href="#L76" x="238" y="332"/><use href="#L111" x="243" y="332"/><use href="#L105" x="249" y="332"/><use href="#L114" x="251" y="332"/><use href="#L101" x="254" y="332"/><use href="#L45" x="259" y="332"/><use href="#L65" x="262" y="332"/><use href="#L116" x="269" y="332"/><use href="#L108" x="272" y="332"/><use href="#L97" x="274" y="332"/><use href="#L110" x="279" y="332"/><use href="#L116" x="284" y="332"/><use href="#L105" x="287" y="332"/><use href="#L113" x="289" y="332"/><use href="#L117" x="294" y="332"/><use href="#L101" x="299" y="332"/><use href="#L76" x="238" y="343"/><use href="#L111" x="243" y="343"/><use href="#L105" x="249" y="343"/><use href="#L114" x="251" y="343"/><use href="#L101" x="254" y="343"/><use href="#L116" x="259" y="343"/><use href="#L76" x="238" y="354"/><use href="#L111" x="243" y="354"/><use href="#L105" x="249" y="354"/><use href="#L114" x="251" y="354"/><use href="#L45" x="254" y="354"/><use href="#L101" x="257" y="354"/><use href="#L116" x="262" y="354"/><use href="#L45" x="265" y="354"/><use href="#L67" x="268" y="354"/><use href="#L104" x="275" y="354"/><use href="#L101" x="280" y="354"/><use href="#L114" x="285" y="354"/><use href="#L76" x="238" y="365"/><use href="#L111" x="243" y="365"/><use href="#L116" x="249" y="365"/><use href="#L76" x="238" y="376"/><use href="#L111" x="243" y="376"/><use href="#L116" x="249" y="376"/><use href="#L45" x="252" y="376"/><use href="#L101" x="255" y="376"/><use href="#L116" x="260" y="376"/><use href="#L45" x="263" y="376"/><use href="#L71" x="266" y="376"/><use href="#L97" x="273" y="376"/><use href="#L114" x="278" y="376"/><use href="#L111" x="281" y="376"/><use href="#L110" x="287" y="376"/><use href="#L110" x="292" y="376"/><use href="#L101" x="297" y="376"/><use href="#L76" x="238" y="387"/><use href="#L111" x="243" y="387"/><use href="#L122" x="249" y="387"/><use href="#L232" x="253" y="387"/><use href="#L114" x="258" y="387"/><use href="#L101" x="261" y="387"/><use href="#L77" x="238" y="398"/><use href="#L97" x="247" y="398"/><use href="#L105" x="252" y="398"/><use href="#L110" x="254" y="398"/><use href="#L101" x="259" y="398"/><use href="#L45" x="264" y="398"/><use href="#L101" x="267" y="398"/><use href="#L116" x="272" y="398"/><use href="#L45" x="275" y="398"/><use href="#L76" x="278" y="398"/><use href="#L111" x="283" y="398"/><use href="#L105" x="289" y="398"/><use href="#L114" x="291" y="398"/><use href="#L101" x="294" y="398"/><use href="#L77" x="238" y="409"/><use href="#L97" x="247" y="409"/><use href="#L110" x="252" y="409"/><use href="#L99" x="257" y="409"/><use href="#L104" x="262" y="409"/><use href="#L101" x="267" y="409"/></g><g clip-path="url(#c3)"><use href="#K73" x="437" y="2"/><use href="#K110" x="440" y="2"/><use href="#K99" x="446" y="2"/><use href="#K105" x="452" y="2"/><use href="#K100" x="455" y="2"/><use href="#K101" x="461" y="2"/><use href="#K110" x="467" y="2"/><use href="#K99" x="473" y="2"/><use href="#K101" x="479" y="2"/><use href="#K84" x="488" y="2"/><use href="#K101" x="495" y="2"/><use href="#K115" x="501" y="2"/><use href="#K116" x="507" y="2"/><use href="#L77" x="437" y="24"/><use href="#L97" x="446" y="24"/><use href="#L114" x="451" y="24"/><use href="#L110" x="454" y="24"/><use href="#L101" x="459" y="24"/><use href="#L77" x="437" y="35"/><use href="#L97" x="446" y="35"/><use href="#L121" x="451" y="35"/><use href="#L101" x="455" y="35"/><use href="#L110" x="460" y="35"/><use href="#L110" x="465" y="35"/><use href="#L101" x="470" y="35"/><use href="#L77" x="437" y="46"/><use href="#L101" x="446" y="46"/><use href="#L117" x="451" y="46"/><use href="#L114" x="456" y="46"/><use href="#L116" x="459" y="46"/><use href="#L104" x="462" y="46"/><use href="#L101" x="467" y="46"/><use href="#L45" x="472" y="46"/><use href="#L101" x="475" y="46"/><use href="#L116" x="480" y="46"/><use href="#L45" x="483" y="46"/><use href="#L77" x="486" y="46"/><use href="#L111" x="495" y="46"/><use href="#L115" x="501" y="46"/><use href="#L101" x="506" y="46"/><use href="#L108" x="511" y="46"/><use href="#L108" x="513" y="46"/><use href="#L101" x="515" y="46"/><use href="#L77" x="437" y="57"/><use href="#L101" x="446" y="57"/><use href="#L117" x="451" y="57"/><use href="#L115" x="456" y="57"/><use href="#L101" x="461" y="57"/><use href="#L77" x="437" y="68"/><use href="#L111" x="446" y="68"/><use href="#L114" x="452" y="68"/><use href="#L98" x="455" y="68"/><use href="#L105" x="460" y="68"/><use href="#L104" x="462" y="68"/><use href="#L97" x="467" y="68"/><use href="#L110" x="472" y="68"/><use href="#L77" x="437" y="79"/><use href="#L111" x="446" y="79"/><use href="#L115" x="452" y="79"/><use href="#L101" x="457" y="79"/><use href="#L108" x="462" y="79"/><use href="#L108" x="464" y="79"/><use href="#L101" x="466" y="79"/><use href="#L78" x="437" y="90"/><use href="#L105" x="444" y="90"/><use href="#L232" x="446" y="90"/><use href="#L118" x="451" y="90"/><use href="#L114" x="456" y="90"/><use href="#L101" x="459" y="90"/><use href="#L78" x="437" y="101"/><use href="#L111" x="444" y="101"/><use href="#L114" x="450" y="101"/><use href="#L100" x="453" y="101"/><use href="#L79" x="437" y="112"/><use href="#L105" x="444" y="112"/><use href="#L115" x="446" y="112"/><use href="#L101" x="451" y="112"/><use href="#L79" x="437" y="123"/><use href="#L114" x="444" y="123"/><use href="#L110" x="447" y="123"/><use href="#L101" x="452" y="123"/><use href="#L80" x="437" y="134"/><use href="#L97" x="444" y="134"/><use href="#L114" x="449" y="134"/><use href="#L105" x="452" y="134"/><use href="#L115" x="454" y="134"/><use href="#L80" x="437" y="145"/><use href="#L97" x="444" y="145"/><use href="#L115" x="449" y="145"/><use href="#L45" x="454" y="145"/><use href="#L100" x="457" y="145"/><use href="#L101" x="462" y="145"/><use href="#L45" x="467" y="145"/><use href="#L67" x="470" y="145"/><use href="#L97" x="477" y="145"/><use href="#L108" x="482" y="145"/><use href="#L97" x="484" y="145"/><use href="#L105" x="489" y="145"/><use href="#L115" x="491" y="145"/><use href="#L80" x="437" y="156"/><use href="#L117" x="444" y="156"/><use href="#L121" x="449" y="156"/><use href="#L45" x="453" y="156"/><use href="#L100" x="456" y="156"/><use href="#L101" x="461" y="156"/><use href="#L45" x="466" y="156"/><use href="#L68" x="469" y="156"/><use href="#L244" x="476" y="156"/><use href="#L109" x="482" y="156"/><use href="#L101" x="490" y="156"/><use href="#L80" x="437" y="167"/><use href="#L121" x="444" y="167"/><use href="#L114" x="448" y="167"/><use href="#L233" x="451" y="167"/><use href="#L110" x="456" y="167"/><use href="#L233" x="461" y="167"/><use href="#L101" x="466" y="167"/><use href="#L115" x="471" y="167"/><use href="#L45" x="476" y="167"/><use href="#L65" x="479" y="167"/><use href="#L116" x="486" y="167"/><use href="#L108" x="489" y="167"/><use href="#L97" x="491" y="167"/><use href="#L110" x="496" y="167"/><use href="#L116" x="501" y="167"/><use href="#L105" x="504" y="167"/><use href="#L113" x="506" y="167"/><use href="#L117" x="511" y="167"/><use href="#L101" x="516" y="167"/><use href="#L115" x="521" y="167"/><use href="#L80" x="437" y="178"/><use href="#L121" x="444" y="178"/><use href="#L114" x="448" y="178"/><use href="#L233" x="451" y="178"/><use href="#L110" x="456" y="178"/><use href="#L233" x="461" y="178"/><use href="#L101" x="466" y="178"/><use href="#L115" x="471" y="178"/><use href="#L45" x="476" y="178"/><use href="#L79" x="479" y="178"/><use href="#L114" x="486" y="178"/><use href="#L105" x="489" y="178"/><use href="#L101" x="491" y="178"/><use href="#L110" x="496" y="178"/><use href="#L116" x="501" y="178"/><use href="#L97" x="504" y="178"/><use href="#L108" x="509" y="178"/><use href="#L101" x="511" y="178"/><use href="#L115" x="516" y="178"/><use href="#L82" x="437" y="189"/><use href="#L104" x="444" y="189"/><use href="#L244" x="449" y="189"/><use href="#L110" x="455" y="189"/><use href="#L101" x="460" y="189"/><use href="#L83" x="437" y="200"/><use href="#L97" x="443" y="200"/><use href="#L244" x="448" y="200"/><use href="#L110" x="454" y="200"/><use href="#L101" x="459" y="200"/><use href="#L45" x="464" y="200"/><use href="#L101" x="467" y="200"/><use href="#L116" x="472" y="200"/><use href="#L45" x="475" y="200"/><use href="#L76" x="478" y="200"/><use href="#L111" x="483" y="200"/><use href="#L105" x="489" y="200"/><use href="#L114" x="491" y="200"/><use href="#L101" x="494" y="200"/><use href="#L83" x="437" y="211"/><use href="#L97" x="443" y="211"/><use href="#L114" x="448" y="211"/><use href="#L116" x="451" y="211"/><use href="#L104" x="454" y="211"/><use href="#L101" x="459" y="211"/><use href="#L83" x="437" y="222"/><use href="#L97" x="443" y="222"/><use href="#L118" x="448" y="222"/><use href="#L111" x="453" y="222"/><use href="#L105" x="459" y="222"/><use href="#L101" x="461" y="222"/><use href="#L83" x="437" y="233"/><use href="#L101" x="443" y="233"/><use href="#L105" x="448" y="233"/><use href="#L110" x="450" y="233"/><use href="#L101" x="455" y="233"/><use href="#L45" x="460" y="233"/><use href="#L101" x="463" y="233"/><use href="#L116" x="468" y="233"/><use href="#L45" x="471" y="233"/><use href="#L77" x="474" y="233"/><use href="#L97" x="483" y="233"/><use href="#L114" x="488" y="233"/><use href="#L110" x="491" y="233"/><use href="#L101" x="496" y="233"/><use href="#L83" x="437" y="244"/><use href="#L101" x="443" y="244"/><use href="#L105" x="448" y="244"/><use href="#L110" x="450" y="244"/><use href="#L101" x="455" y="244"/><use href="#L45" x="460" y="244"/><use href="#L77" x="463" y="244"/><use href="#L97" x="472" y="244"/><use href="#L114" x="477" y="244"/><use href="#L105" x="480" y="244"/><use href="#L116" x="482" y="244"/><use href="#L105" x="485" y="244"/><use href="#L109" x="487" y="244"/><use href="#L101" x="495" y="244"/><use href="#L83" x="437" y="255"/><use href="#L101" x="443" y="255"/><use href="#L105" x="448" y="255"/><use href="#L110" x="450" y="255"/><use href="#L101" x="455" y="255"/><use href="#L45" x="460" y="255"/><use href="#L83" x="463" y="255"/><use href="#L116" x="469" y="255"/><use href="#L45" x="472" y="255"/><use href="#L68" x="475" y="255"/><use href="#L101" x="482" y="255"/><use href="#L110" x="487" y="255"/><use href="#L105" x="492" y="255"/><use href="#L115" x="494" y="255"/><use href="#L83" x="437" y="266"/><use href="#L111" x="443" y="266"/><use href="#L109" x="449" y="266"/><use href="#L109" x="457" y="266"/><use href="#L101" x="465" y="266"/><use href="#L84" x="437" y="277"/><use href="#L97" x="443" y="277"/><use href="#L114" x="448" y="277"/><use href="#L110" x="451" y="277"/><use href="#L84" x="437" y="288"/><use href="#L97" x="443" y="288"/><use href="#L114" x="448" y="288"/><use href="#L110" x="451" y="288"/><use href="#L45" x="456" y="288"/><use href="#L101" x="459" y="288"/><use href="#L116" x="464" y="288"/><use href="#L45" x="467" y="288"/><use href="#L71" x="470" y="288"/><use href="#L97" x="477" y="288"/><use href="#L114" x="482" y="288"/><use href="#L111" x="485" y="288"/><use href="#L110" x="491" y="288"/><use href="#L110" x="496" y="288"/><use href="#L101" x="501" y="288"/><use href="#L84" x="437" y="299"/><use href="#L101" x="443" y="299"/><use href="#L114" x="448" y="299"/><use href="#L114" x="451" y="299"/><use href="#L105" x="454" y="299"/><use href="#L116" x="456" y="299"/><use href="#L111" x="459" y="299"/><use href="#L105" x="465" y="299"/><use href="#L114" x="467" y="299"/><use href="#L101" x="470" y="299"/><use href="#L45" x="475" y="299"/><use href="#L100" x="478" y="299"/><use href="#L101" x="483" y="299"/><use href="#L45" x="488" y="299"/><use href="#L66" x="491" y="299"/><use href="#L101" x="498" y="299"/><use href="#L108" x="503" y="299"/><use href="#L102" x="505" y="299"/><use href="#L111" x="508" y="299"/><use href="#L114" x="514" y="299"/><use href="#L116" x="517" y="299"/><use href="#L86" x="437" y="310"/><use href="#L97" x="443" y="310"/><use href="#L108" x="448" y="310"/><use href="#L45" x="450" y="310"/><use href="#L100" x="453" y="310"/><use href="#L101" x="458" y="310"/><use href="#L45" x="463" y="310"/><use href="#L77" x="466" y="310"/><use href="#L97" x="475" y="310"/><use href="#L114" x="480" y="310"/><use href="#L110" x="483" y="310"/><use href="#L101" x="488" y="310"/><use href="#L86" x="437" y="321"/><use href="#L97" x="443" y="321"/><use href="#L108" x="448" y="321"/><use href="#L45" x="450" y="321"/><use href="#L100" x="453" y="321"/><use href="#L39" x="458" y="321"/><use href="#L79" x="460" y="321"/><use href="#L105" x="467" y="321"/><use href="#L115" x="469" y="321"/><use href="#L101" x="474" y="321"/><use href="#L86" x="437" y="332"/><use href="#L97" x="443" y="332"/><use href="#L114" x="448" y="332"/><use href="#L86" x="437" y="343"/><use href="#L97" x="443" y="343"/><use href="#L117" x="448" y="343"/><use href="#L99" x="453" y="343"/><use href="#L108" x="458" y="343"/><use href="#L117" x="460" y="343"/><use href="#L115" x="465" y="343"/><use href="#L101" x="470" y="343"/><use href="#L86" x="437" y="354"/><use href="#L101" x="443" y="354"/><use href="#L110" x="448" y="354"/><use href="#L100" x="453" y="354"/><use href="#L233" x="458" y="354"/><use href="#L101" x="463" y="354"/><use href="#L86" x="437" y="365"/><use href="#L105" x="443" y="365"/><use href="#L101" x="445" y="365"/><use href="#L110" x="450" y="365"/><use href="#L110" x="455" y="365"/><use href="#L101" x="460" y="365"/><use href="#L86" x="437" y="376"/><use href="#L111" x="443" y="376"/><use href="#L115" x="449" y="376"/><use href="#L103" x="454" y="376"/><use href="#L101" x="459" y="376"/><use href="#L115" x="464" y="376"/><use href="#L89" x="437" y="387"/><use href="#L111" x="443" y="387"/><use href="#L110" x="449" y="387"/><use href="#L110" x="454" y="387"/><use href="#L101" x="459" y="387"/><use href="#L89" x="437" y="398"/><use href="#L118" x="443" y="398"/><use href="#L101" x="448" y="398"/><use href="#L108" x="453" y="398"/><use href="#L105" x="455" y="398"/><use href="#L110" x="457" y="398"/><use href="#L101" x="462" y="398"/><use href="#L115" x="467" y="398"/><use href="#L122" x="437" y="409"/><use href="#L45" x="441" y="409"/><use href="#L73" x="444" y="409"/><use href="#L110" x="446" y="409"/><use href="#L99" x="451" y="409"/><use href="#L111" x="456" y="409"/><use href="#L110" x="462" y="409"/><use href="#L110" x="467" y="409"/><use href="#L117" x="472" y="409"/></g></g></svg>
</body></html>
